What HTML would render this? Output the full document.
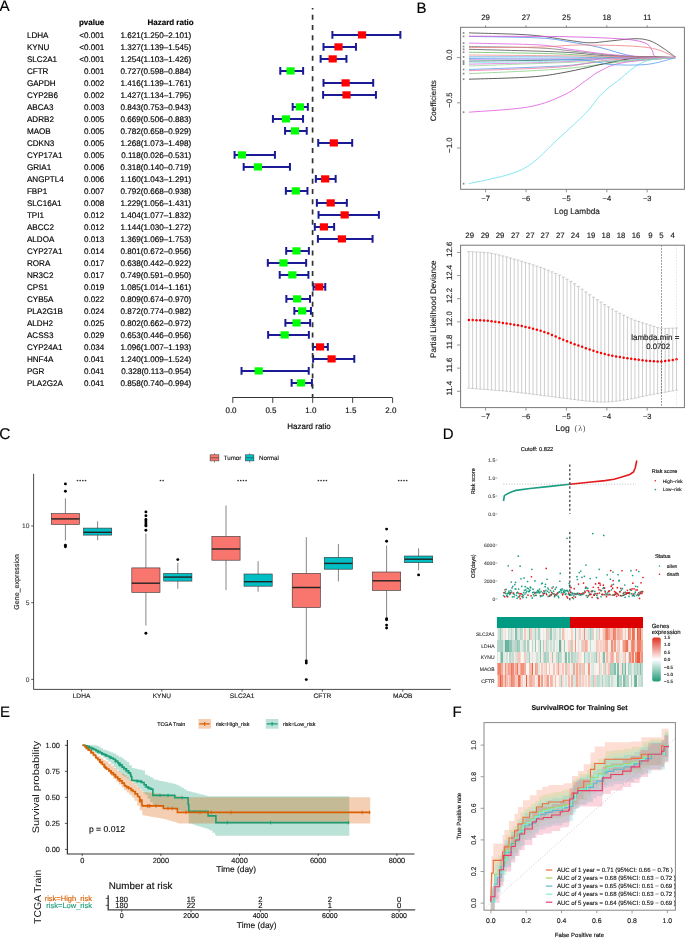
<!DOCTYPE html><html><head><meta charset="utf-8"><style>
html,body{margin:0;padding:0;background:#fff;}
svg{display:block;will-change:transform;text-rendering:geometricPrecision;}
</style></head><body>
<svg width="685" height="938" viewBox="0 0 685 938">
<rect width="685" height="938" fill="#fff"/>
<g font-family="Liberation Sans, sans-serif">
<text x="-0.40" y="10.90" font-size="15.2" text-anchor="start" fill="#000" stroke="#000" stroke-width="0.15" >A</text>
<text x="104.30" y="24.60" font-size="8" text-anchor="end" fill="#000" stroke="#000" stroke-width="0.15" font-weight="bold" >pvalue</text>
<text x="193.70" y="24.60" font-size="8" text-anchor="end" fill="#000" stroke="#000" stroke-width="0.15" font-weight="bold" >Hazard ratio</text>
<text x="26.90" y="37.90" font-size="8.1" text-anchor="start" fill="#000" stroke="#000" stroke-width="0.15" >LDHA</text>
<text x="104.30" y="37.90" font-size="8.1" text-anchor="end" fill="#000" stroke="#000" stroke-width="0.15" >&lt;0.001</text>
<text x="191.20" y="37.90" font-size="8.1" text-anchor="end" fill="#000" stroke="#000" stroke-width="0.15" >1.621(1.250–2.101)</text>
<path d="M332.38 34.90H400.37M332.38 31.10V38.70M400.37 31.10V38.70" stroke="#1a1a96" stroke-width="2" fill="none"/>
<rect x="357.92" y="31.30" width="8.2" height="7.2" fill="#ff0000"/>
<text x="26.90" y="49.90" font-size="8.1" text-anchor="start" fill="#000" stroke="#000" stroke-width="0.15" >KYNU</text>
<text x="104.30" y="49.90" font-size="8.1" text-anchor="end" fill="#000" stroke="#000" stroke-width="0.15" >&lt;0.001</text>
<text x="191.20" y="49.90" font-size="8.1" text-anchor="end" fill="#000" stroke="#000" stroke-width="0.15" >1.327(1.139–1.545)</text>
<path d="M323.51 46.90H355.95M323.51 43.10V50.70M355.95 43.10V50.70" stroke="#1a1a96" stroke-width="2" fill="none"/>
<rect x="334.43" y="43.30" width="8.2" height="7.2" fill="#ff0000"/>
<text x="26.90" y="61.90" font-size="8.1" text-anchor="start" fill="#000" stroke="#000" stroke-width="0.15" >SLC2A1</text>
<text x="104.30" y="61.90" font-size="8.1" text-anchor="end" fill="#000" stroke="#000" stroke-width="0.15" >&lt;0.001</text>
<text x="191.20" y="61.90" font-size="8.1" text-anchor="end" fill="#000" stroke="#000" stroke-width="0.15" >1.254(1.103–1.426)</text>
<path d="M320.63 58.90H346.44M320.63 55.10V62.70M346.44 55.10V62.70" stroke="#1a1a96" stroke-width="2" fill="none"/>
<rect x="328.59" y="55.30" width="8.2" height="7.2" fill="#ff0000"/>
<text x="26.90" y="73.90" font-size="8.1" text-anchor="start" fill="#000" stroke="#000" stroke-width="0.15" >CFTR</text>
<text x="104.30" y="73.90" font-size="8.1" text-anchor="end" fill="#000" stroke="#000" stroke-width="0.15" >0.001</text>
<text x="191.20" y="73.90" font-size="8.1" text-anchor="end" fill="#000" stroke="#000" stroke-width="0.15" >0.727(0.598–0.884)</text>
<path d="M280.28 70.90H303.13M280.28 67.10V74.70M303.13 67.10V74.70" stroke="#1a1a96" stroke-width="2" fill="none"/>
<rect x="286.49" y="67.30" width="8.2" height="7.2" fill="#00ff00"/>
<text x="26.90" y="85.90" font-size="8.1" text-anchor="start" fill="#000" stroke="#000" stroke-width="0.15" >GAPDH</text>
<text x="104.30" y="85.90" font-size="8.1" text-anchor="end" fill="#000" stroke="#000" stroke-width="0.15" >0.002</text>
<text x="191.20" y="85.90" font-size="8.1" text-anchor="end" fill="#000" stroke="#000" stroke-width="0.15" >1.416(1.139–1.761)</text>
<path d="M323.51 82.90H373.20M323.51 79.10V86.70M373.20 79.10V86.70" stroke="#1a1a96" stroke-width="2" fill="none"/>
<rect x="341.54" y="79.30" width="8.2" height="7.2" fill="#ff0000"/>
<text x="26.90" y="97.90" font-size="8.1" text-anchor="start" fill="#000" stroke="#000" stroke-width="0.15" >CYP2B6</text>
<text x="104.30" y="97.90" font-size="8.1" text-anchor="end" fill="#000" stroke="#000" stroke-width="0.15" >0.002</text>
<text x="191.20" y="97.90" font-size="8.1" text-anchor="end" fill="#000" stroke="#000" stroke-width="0.15" >1.427(1.134–1.795)</text>
<path d="M323.11 94.90H375.92M323.11 91.10V98.70M375.92 91.10V98.70" stroke="#1a1a96" stroke-width="2" fill="none"/>
<rect x="342.42" y="91.30" width="8.2" height="7.2" fill="#ff0000"/>
<text x="26.90" y="109.90" font-size="8.1" text-anchor="start" fill="#000" stroke="#000" stroke-width="0.15" >ABCA3</text>
<text x="104.30" y="109.90" font-size="8.1" text-anchor="end" fill="#000" stroke="#000" stroke-width="0.15" >0.003</text>
<text x="191.20" y="109.90" font-size="8.1" text-anchor="end" fill="#000" stroke="#000" stroke-width="0.15" >0.843(0.753–0.943)</text>
<path d="M292.66 106.90H307.85M292.66 103.10V110.70M307.85 103.10V110.70" stroke="#1a1a96" stroke-width="2" fill="none"/>
<rect x="295.76" y="103.30" width="8.2" height="7.2" fill="#00ff00"/>
<text x="26.90" y="121.90" font-size="8.1" text-anchor="start" fill="#000" stroke="#000" stroke-width="0.15" >ADRB2</text>
<text x="104.30" y="121.90" font-size="8.1" text-anchor="end" fill="#000" stroke="#000" stroke-width="0.15" >0.005</text>
<text x="191.20" y="121.90" font-size="8.1" text-anchor="end" fill="#000" stroke="#000" stroke-width="0.15" >0.669(0.506–0.883)</text>
<path d="M272.93 118.90H303.05M272.93 115.10V122.70M303.05 115.10V122.70" stroke="#1a1a96" stroke-width="2" fill="none"/>
<rect x="281.85" y="115.30" width="8.2" height="7.2" fill="#00ff00"/>
<text x="26.90" y="133.90" font-size="8.1" text-anchor="start" fill="#000" stroke="#000" stroke-width="0.15" >MAOB</text>
<text x="104.30" y="133.90" font-size="8.1" text-anchor="end" fill="#000" stroke="#000" stroke-width="0.15" >0.005</text>
<text x="191.20" y="133.90" font-size="8.1" text-anchor="end" fill="#000" stroke="#000" stroke-width="0.15" >0.782(0.658–0.929)</text>
<path d="M285.07 130.90H306.73M285.07 127.10V134.70M306.73 127.10V134.70" stroke="#1a1a96" stroke-width="2" fill="none"/>
<rect x="290.88" y="127.30" width="8.2" height="7.2" fill="#00ff00"/>
<text x="26.90" y="145.90" font-size="8.1" text-anchor="start" fill="#000" stroke="#000" stroke-width="0.15" >CDKN3</text>
<text x="104.30" y="145.90" font-size="8.1" text-anchor="end" fill="#000" stroke="#000" stroke-width="0.15" >0.005</text>
<text x="191.20" y="145.90" font-size="8.1" text-anchor="end" fill="#000" stroke="#000" stroke-width="0.15" >1.268(1.073–1.498)</text>
<path d="M318.23 142.90H352.19M318.23 139.10V146.70M352.19 139.10V146.70" stroke="#1a1a96" stroke-width="2" fill="none"/>
<rect x="329.71" y="139.30" width="8.2" height="7.2" fill="#ff0000"/>
<text x="26.90" y="157.90" font-size="8.1" text-anchor="start" fill="#000" stroke="#000" stroke-width="0.15" >CYP17A1</text>
<text x="104.30" y="157.90" font-size="8.1" text-anchor="end" fill="#000" stroke="#000" stroke-width="0.15" >0.005</text>
<text x="191.20" y="157.90" font-size="8.1" text-anchor="end" fill="#000" stroke="#000" stroke-width="0.15" >0.118(0.026–0.531)</text>
<path d="M234.58 154.90H274.93M234.58 151.10V158.70M274.93 151.10V158.70" stroke="#1a1a96" stroke-width="2" fill="none"/>
<rect x="237.83" y="151.30" width="8.2" height="7.2" fill="#00ff00"/>
<text x="26.90" y="169.90" font-size="8.1" text-anchor="start" fill="#000" stroke="#000" stroke-width="0.15" >GRIA1</text>
<text x="104.30" y="169.90" font-size="8.1" text-anchor="end" fill="#000" stroke="#000" stroke-width="0.15" >0.006</text>
<text x="191.20" y="169.90" font-size="8.1" text-anchor="end" fill="#000" stroke="#000" stroke-width="0.15" >0.318(0.140–0.719)</text>
<path d="M243.69 166.90H289.95M243.69 163.10V170.70M289.95 163.10V170.70" stroke="#1a1a96" stroke-width="2" fill="none"/>
<rect x="253.81" y="163.30" width="8.2" height="7.2" fill="#00ff00"/>
<text x="26.90" y="181.90" font-size="8.1" text-anchor="start" fill="#000" stroke="#000" stroke-width="0.15" >ANGPTL4</text>
<text x="104.30" y="181.90" font-size="8.1" text-anchor="end" fill="#000" stroke="#000" stroke-width="0.15" >0.006</text>
<text x="191.20" y="181.90" font-size="8.1" text-anchor="end" fill="#000" stroke="#000" stroke-width="0.15" >1.160(1.043–1.291)</text>
<path d="M315.84 178.90H335.65M315.84 175.10V182.70M335.65 175.10V182.70" stroke="#1a1a96" stroke-width="2" fill="none"/>
<rect x="321.08" y="175.30" width="8.2" height="7.2" fill="#ff0000"/>
<text x="26.90" y="193.90" font-size="8.1" text-anchor="start" fill="#000" stroke="#000" stroke-width="0.15" >FBP1</text>
<text x="104.30" y="193.90" font-size="8.1" text-anchor="end" fill="#000" stroke="#000" stroke-width="0.15" >0.007</text>
<text x="191.20" y="193.90" font-size="8.1" text-anchor="end" fill="#000" stroke="#000" stroke-width="0.15" >0.792(0.668–0.938)</text>
<path d="M285.87 190.90H307.45M285.87 187.10V194.70M307.45 187.10V194.70" stroke="#1a1a96" stroke-width="2" fill="none"/>
<rect x="291.68" y="187.30" width="8.2" height="7.2" fill="#00ff00"/>
<text x="26.90" y="205.90" font-size="8.1" text-anchor="start" fill="#000" stroke="#000" stroke-width="0.15" >SLC16A1</text>
<text x="104.30" y="205.90" font-size="8.1" text-anchor="end" fill="#000" stroke="#000" stroke-width="0.15" >0.008</text>
<text x="191.20" y="205.90" font-size="8.1" text-anchor="end" fill="#000" stroke="#000" stroke-width="0.15" >1.229(1.056–1.431)</text>
<path d="M316.87 202.90H346.84M316.87 199.10V206.70M346.84 199.10V206.70" stroke="#1a1a96" stroke-width="2" fill="none"/>
<rect x="326.60" y="199.30" width="8.2" height="7.2" fill="#ff0000"/>
<text x="26.90" y="217.90" font-size="8.1" text-anchor="start" fill="#000" stroke="#000" stroke-width="0.15" >TPI1</text>
<text x="104.30" y="217.90" font-size="8.1" text-anchor="end" fill="#000" stroke="#000" stroke-width="0.15" >0.012</text>
<text x="191.20" y="217.90" font-size="8.1" text-anchor="end" fill="#000" stroke="#000" stroke-width="0.15" >1.404(1.077–1.832)</text>
<path d="M318.55 214.90H378.88M318.55 211.10V218.70M378.88 211.10V218.70" stroke="#1a1a96" stroke-width="2" fill="none"/>
<rect x="340.58" y="211.30" width="8.2" height="7.2" fill="#ff0000"/>
<text x="26.90" y="229.90" font-size="8.1" text-anchor="start" fill="#000" stroke="#000" stroke-width="0.15" >ABCC2</text>
<text x="104.30" y="229.90" font-size="8.1" text-anchor="end" fill="#000" stroke="#000" stroke-width="0.15" >0.012</text>
<text x="191.20" y="229.90" font-size="8.1" text-anchor="end" fill="#000" stroke="#000" stroke-width="0.15" >1.144(1.030–1.272)</text>
<path d="M314.80 226.90H334.13M314.80 223.10V230.70M334.13 223.10V230.70" stroke="#1a1a96" stroke-width="2" fill="none"/>
<rect x="319.81" y="223.30" width="8.2" height="7.2" fill="#ff0000"/>
<text x="26.90" y="241.90" font-size="8.1" text-anchor="start" fill="#000" stroke="#000" stroke-width="0.15" >ALDOA</text>
<text x="104.30" y="241.90" font-size="8.1" text-anchor="end" fill="#000" stroke="#000" stroke-width="0.15" >0.013</text>
<text x="191.20" y="241.90" font-size="8.1" text-anchor="end" fill="#000" stroke="#000" stroke-width="0.15" >1.369(1.069–1.753)</text>
<path d="M317.91 238.90H372.56M317.91 235.10V242.70M372.56 235.10V242.70" stroke="#1a1a96" stroke-width="2" fill="none"/>
<rect x="337.78" y="235.30" width="8.2" height="7.2" fill="#ff0000"/>
<text x="26.90" y="253.90" font-size="8.1" text-anchor="start" fill="#000" stroke="#000" stroke-width="0.15" >CYP27A1</text>
<text x="104.30" y="253.90" font-size="8.1" text-anchor="end" fill="#000" stroke="#000" stroke-width="0.15" >0.014</text>
<text x="191.20" y="253.90" font-size="8.1" text-anchor="end" fill="#000" stroke="#000" stroke-width="0.15" >0.801(0.672–0.956)</text>
<path d="M286.19 250.90H308.88M286.19 247.10V254.70M308.88 247.10V254.70" stroke="#1a1a96" stroke-width="2" fill="none"/>
<rect x="292.40" y="247.30" width="8.2" height="7.2" fill="#00ff00"/>
<text x="26.90" y="265.90" font-size="8.1" text-anchor="start" fill="#000" stroke="#000" stroke-width="0.15" >RORA</text>
<text x="104.30" y="265.90" font-size="8.1" text-anchor="end" fill="#000" stroke="#000" stroke-width="0.15" >0.017</text>
<text x="191.20" y="265.90" font-size="8.1" text-anchor="end" fill="#000" stroke="#000" stroke-width="0.15" >0.638(0.442–0.922)</text>
<path d="M267.82 262.90H306.17M267.82 259.10V266.70M306.17 259.10V266.70" stroke="#1a1a96" stroke-width="2" fill="none"/>
<rect x="279.38" y="259.30" width="8.2" height="7.2" fill="#00ff00"/>
<text x="26.90" y="277.90" font-size="8.1" text-anchor="start" fill="#000" stroke="#000" stroke-width="0.15" >NR3C2</text>
<text x="104.30" y="277.90" font-size="8.1" text-anchor="end" fill="#000" stroke="#000" stroke-width="0.15" >0.017</text>
<text x="191.20" y="277.90" font-size="8.1" text-anchor="end" fill="#000" stroke="#000" stroke-width="0.15" >0.749(0.591–0.950)</text>
<path d="M279.72 274.90H308.40M279.72 271.10V278.70M308.40 271.10V278.70" stroke="#1a1a96" stroke-width="2" fill="none"/>
<rect x="288.25" y="271.30" width="8.2" height="7.2" fill="#00ff00"/>
<text x="26.90" y="289.90" font-size="8.1" text-anchor="start" fill="#000" stroke="#000" stroke-width="0.15" >CPS1</text>
<text x="104.30" y="289.90" font-size="8.1" text-anchor="end" fill="#000" stroke="#000" stroke-width="0.15" >0.019</text>
<text x="191.20" y="289.90" font-size="8.1" text-anchor="end" fill="#000" stroke="#000" stroke-width="0.15" >1.085(1.014–1.161)</text>
<path d="M313.52 286.90H325.26M313.52 283.10V290.70M325.26 283.10V290.70" stroke="#1a1a96" stroke-width="2" fill="none"/>
<rect x="315.09" y="283.30" width="8.2" height="7.2" fill="#ff0000"/>
<text x="26.90" y="301.90" font-size="8.1" text-anchor="start" fill="#000" stroke="#000" stroke-width="0.15" >CYB5A</text>
<text x="104.30" y="301.90" font-size="8.1" text-anchor="end" fill="#000" stroke="#000" stroke-width="0.15" >0.022</text>
<text x="191.20" y="301.90" font-size="8.1" text-anchor="end" fill="#000" stroke="#000" stroke-width="0.15" >0.809(0.674–0.970)</text>
<path d="M286.35 298.90H310.00M286.35 295.10V302.70M310.00 295.10V302.70" stroke="#1a1a96" stroke-width="2" fill="none"/>
<rect x="293.04" y="295.30" width="8.2" height="7.2" fill="#00ff00"/>
<text x="26.90" y="313.90" font-size="8.1" text-anchor="start" fill="#000" stroke="#000" stroke-width="0.15" >PLA2G1B</text>
<text x="104.30" y="313.90" font-size="8.1" text-anchor="end" fill="#000" stroke="#000" stroke-width="0.15" >0.024</text>
<text x="191.20" y="313.90" font-size="8.1" text-anchor="end" fill="#000" stroke="#000" stroke-width="0.15" >0.872(0.774–0.982)</text>
<path d="M294.34 310.90H310.96M294.34 307.10V314.70M310.96 307.10V314.70" stroke="#1a1a96" stroke-width="2" fill="none"/>
<rect x="298.07" y="307.30" width="8.2" height="7.2" fill="#00ff00"/>
<text x="26.90" y="325.90" font-size="8.1" text-anchor="start" fill="#000" stroke="#000" stroke-width="0.15" >ALDH2</text>
<text x="104.30" y="325.90" font-size="8.1" text-anchor="end" fill="#000" stroke="#000" stroke-width="0.15" >0.025</text>
<text x="191.20" y="325.90" font-size="8.1" text-anchor="end" fill="#000" stroke="#000" stroke-width="0.15" >0.802(0.662–0.972)</text>
<path d="M285.39 322.90H310.16M285.39 319.10V326.70M310.16 319.10V326.70" stroke="#1a1a96" stroke-width="2" fill="none"/>
<rect x="292.48" y="319.30" width="8.2" height="7.2" fill="#00ff00"/>
<text x="26.90" y="337.90" font-size="8.1" text-anchor="start" fill="#000" stroke="#000" stroke-width="0.15" >ACSS3</text>
<text x="104.30" y="337.90" font-size="8.1" text-anchor="end" fill="#000" stroke="#000" stroke-width="0.15" >0.029</text>
<text x="191.20" y="337.90" font-size="8.1" text-anchor="end" fill="#000" stroke="#000" stroke-width="0.15" >0.653(0.446–0.956)</text>
<path d="M268.14 334.90H308.88M268.14 331.10V338.70M308.88 331.10V338.70" stroke="#1a1a96" stroke-width="2" fill="none"/>
<rect x="280.57" y="331.30" width="8.2" height="7.2" fill="#00ff00"/>
<text x="26.90" y="349.90" font-size="8.1" text-anchor="start" fill="#000" stroke="#000" stroke-width="0.15" >CYP24A1</text>
<text x="104.30" y="349.90" font-size="8.1" text-anchor="end" fill="#000" stroke="#000" stroke-width="0.15" >0.034</text>
<text x="191.20" y="349.90" font-size="8.1" text-anchor="end" fill="#000" stroke="#000" stroke-width="0.15" >1.096(1.007–1.193)</text>
<path d="M312.96 346.90H327.82M312.96 343.10V350.70M327.82 343.10V350.70" stroke="#1a1a96" stroke-width="2" fill="none"/>
<rect x="315.97" y="343.30" width="8.2" height="7.2" fill="#ff0000"/>
<text x="26.90" y="361.90" font-size="8.1" text-anchor="start" fill="#000" stroke="#000" stroke-width="0.15" >HNF4A</text>
<text x="104.30" y="361.90" font-size="8.1" text-anchor="end" fill="#000" stroke="#000" stroke-width="0.15" >0.041</text>
<text x="191.20" y="361.90" font-size="8.1" text-anchor="end" fill="#000" stroke="#000" stroke-width="0.15" >1.240(1.009–1.524)</text>
<path d="M313.12 358.90H354.27M313.12 355.10V362.70M354.27 355.10V362.70" stroke="#1a1a96" stroke-width="2" fill="none"/>
<rect x="327.48" y="355.30" width="8.2" height="7.2" fill="#ff0000"/>
<text x="26.90" y="373.90" font-size="8.1" text-anchor="start" fill="#000" stroke="#000" stroke-width="0.15" >PGR</text>
<text x="104.30" y="373.90" font-size="8.1" text-anchor="end" fill="#000" stroke="#000" stroke-width="0.15" >0.041</text>
<text x="191.20" y="373.90" font-size="8.1" text-anchor="end" fill="#000" stroke="#000" stroke-width="0.15" >0.328(0.113–0.954)</text>
<path d="M241.53 370.90H308.72M241.53 367.10V374.70M308.72 367.10V374.70" stroke="#1a1a96" stroke-width="2" fill="none"/>
<rect x="254.61" y="367.30" width="8.2" height="7.2" fill="#00ff00"/>
<text x="26.90" y="385.90" font-size="8.1" text-anchor="start" fill="#000" stroke="#000" stroke-width="0.15" >PLA2G2A</text>
<text x="104.30" y="385.90" font-size="8.1" text-anchor="end" fill="#000" stroke="#000" stroke-width="0.15" >0.041</text>
<text x="191.20" y="385.90" font-size="8.1" text-anchor="end" fill="#000" stroke="#000" stroke-width="0.15" >0.858(0.740–0.994)</text>
<path d="M291.63 382.90H311.92M291.63 379.10V386.70M311.92 379.10V386.70" stroke="#1a1a96" stroke-width="2" fill="none"/>
<rect x="296.95" y="379.30" width="8.2" height="7.2" fill="#00ff00"/>
<line x1="312.6" y1="7.9" x2="312.6" y2="397.5" stroke="#333" stroke-width="1.7" stroke-dasharray="4.9 5.35" stroke-dashoffset="3.3"/>
<path d="M232.50 397.5H392.30" stroke="#333" stroke-width="1" fill="none"/>
<line x1="232.80" y1="397.5" x2="232.80" y2="402.9" stroke="#444" stroke-width="1"/>
<text x="231.00" y="412.50" font-size="8" text-anchor="middle" fill="#111" stroke="#111" stroke-width="0.15" >0.0</text>
<line x1="272.75" y1="397.5" x2="272.75" y2="402.9" stroke="#444" stroke-width="1"/>
<text x="270.95" y="412.50" font-size="8" text-anchor="middle" fill="#111" stroke="#111" stroke-width="0.15" >0.5</text>
<line x1="312.70" y1="397.5" x2="312.70" y2="402.9" stroke="#444" stroke-width="1"/>
<text x="310.90" y="412.50" font-size="8" text-anchor="middle" fill="#111" stroke="#111" stroke-width="0.15" >1.0</text>
<line x1="352.65" y1="397.5" x2="352.65" y2="402.9" stroke="#444" stroke-width="1"/>
<text x="350.85" y="412.50" font-size="8" text-anchor="middle" fill="#111" stroke="#111" stroke-width="0.15" >1.5</text>
<line x1="392.60" y1="397.5" x2="392.60" y2="402.9" stroke="#444" stroke-width="1"/>
<text x="390.80" y="412.50" font-size="8" text-anchor="middle" fill="#111" stroke="#111" stroke-width="0.15" >2.0</text>
<text x="309.00" y="429.20" font-size="8" text-anchor="middle" fill="#000" stroke="#000" stroke-width="0.15" >Hazard ratio</text>
</g>
<g font-family="Liberation Sans, sans-serif">
<text x="416.60" y="12.80" font-size="15.0" text-anchor="start" fill="#000" stroke="#000" stroke-width="0.15" >B</text>
<path d="M469.00 32.90C479.17 33.25 513.17 33.73 530.00 35.00C546.83 36.27 560.00 39.20 570.00 40.50C580.00 41.80 583.33 42.72 590.00 42.80C596.67 42.88 602.50 41.68 610.00 41.00C617.50 40.32 628.33 38.73 635.00 38.70C641.67 38.67 645.33 39.25 650.00 40.80C654.67 42.35 658.67 45.22 663.00 48.00C667.33 50.78 673.83 55.92 676.00 57.50" stroke="#444444" stroke-width="0.8" fill="none"/>
<path d="M469.00 36.40C480.83 36.67 523.17 37.07 540.00 38.00C556.83 38.93 560.00 40.42 570.00 42.00C580.00 43.58 589.17 45.08 600.00 47.50C610.83 49.92 622.33 54.83 635.00 56.50C647.67 58.17 669.17 57.33 676.00 57.50" stroke="#4f8fe8" stroke-width="0.8" fill="none"/>
<path d="M469.00 36.20C479.17 36.23 513.17 36.30 530.00 36.40C546.83 36.50 554.50 36.37 570.00 36.80C585.50 37.23 610.50 37.97 623.00 39.00C635.50 40.03 640.17 41.17 645.00 43.00C649.83 44.83 650.17 47.67 652.00 50.00C653.83 52.33 652.00 55.75 656.00 57.00C660.00 58.25 672.67 57.42 676.00 57.50" stroke="#d84fd8" stroke-width="0.8" fill="none"/>
<path d="M469.00 43.10C480.83 43.42 523.17 43.97 540.00 45.00C556.83 46.03 558.33 47.72 570.00 49.30C581.67 50.88 596.67 53.22 610.00 54.50C623.33 55.78 639.00 56.50 650.00 57.00C661.00 57.50 671.67 57.42 676.00 57.50" stroke="#e05fe0" stroke-width="0.8" fill="none"/>
<path d="M469.00 46.50C480.83 46.75 521.50 47.08 540.00 48.00C558.50 48.92 566.67 50.67 580.00 52.00C593.33 53.33 604.00 55.08 620.00 56.00C636.00 56.92 666.67 57.25 676.00 57.50" stroke="#777777" stroke-width="0.8" fill="none"/>
<path d="M469.00 47.60C480.83 47.50 521.17 47.43 540.00 47.00C558.83 46.57 564.17 44.93 582.00 45.00C599.83 45.07 631.33 45.32 647.00 47.40C662.67 49.48 671.17 55.82 676.00 57.50" stroke="#f08080" stroke-width="0.8" fill="none"/>
<path d="M469.00 49.30C484.17 49.75 536.50 50.88 560.00 52.00C583.50 53.12 590.67 55.08 610.00 56.00C629.33 56.92 665.00 57.25 676.00 57.50" stroke="#555555" stroke-width="0.8" fill="none"/>
<path d="M469.00 52.20C484.17 52.50 534.83 53.03 560.00 54.00C585.17 54.97 600.67 57.42 620.00 58.00C639.33 58.58 666.67 57.58 676.00 57.50" stroke="#66c266" stroke-width="0.8" fill="none"/>
<path d="M469.00 56.90C484.17 56.92 534.83 56.82 560.00 57.00C585.17 57.18 600.67 57.92 620.00 58.00C639.33 58.08 666.67 57.58 676.00 57.50" stroke="#4aa0e0" stroke-width="0.8" fill="none"/>
<path d="M469.00 61.10C484.17 60.92 534.83 60.52 560.00 60.00C585.17 59.48 600.67 58.42 620.00 58.00C639.33 57.58 666.67 57.58 676.00 57.50" stroke="#2f6f6f" stroke-width="0.8" fill="none"/>
<path d="M469.00 62.80C484.17 62.50 534.83 61.72 560.00 61.00C585.17 60.28 600.67 59.08 620.00 58.50C639.33 57.92 666.67 57.67 676.00 57.50" stroke="#8fe8e8" stroke-width="0.8" fill="none"/>
<path d="M469.00 64.20C484.17 63.83 534.83 63.03 560.00 62.00C585.17 60.97 600.67 58.75 620.00 58.00C639.33 57.25 666.67 57.58 676.00 57.50" stroke="#e070e0" stroke-width="0.8" fill="none"/>
<path d="M469.00 69.50C484.17 68.92 538.17 67.25 560.00 66.00C581.83 64.75 580.67 63.42 600.00 62.00C619.33 60.58 663.33 58.25 676.00 57.50" stroke="#5a9ae8" stroke-width="0.8" fill="none"/>
<path d="M469.00 70.70C484.17 70.08 536.50 68.78 560.00 67.00C583.50 65.22 590.67 61.58 610.00 60.00C629.33 58.42 665.00 57.92 676.00 57.50" stroke="#f07aa0" stroke-width="0.8" fill="none"/>
<path d="M469.00 73.70C484.17 72.92 534.83 70.95 560.00 69.00C585.17 67.05 600.67 63.92 620.00 62.00C639.33 60.08 666.67 58.25 676.00 57.50" stroke="#88d088" stroke-width="0.8" fill="none"/>
<path d="M469.00 79.20C479.17 78.83 514.00 78.15 530.00 77.00C546.00 75.85 551.83 74.68 565.00 72.30C578.17 69.92 596.50 65.17 609.00 62.70C621.50 60.23 628.83 58.37 640.00 57.50C651.17 56.63 670.00 57.50 676.00 57.50" stroke="#333333" stroke-width="0.8" fill="none"/>
<path d="M469.00 112.20C479.07 111.30 513.37 109.78 529.40 106.80C545.43 103.82 555.67 98.77 565.20 94.30C574.73 89.83 580.80 83.88 586.60 80.00C592.40 76.12 593.97 73.88 600.00 71.00C606.03 68.12 610.13 64.95 622.80 62.70C635.47 60.45 667.13 58.37 676.00 57.50" stroke="#e055e0" stroke-width="0.8" fill="none"/>
<path d="M469.00 183.70C477.88 181.32 507.47 176.85 522.30 169.40C537.13 161.95 547.28 148.53 558.00 139.00C568.72 129.47 579.43 119.62 586.60 112.20C593.77 104.78 595.63 99.87 601.00 94.50C606.37 89.13 611.67 85.45 618.80 80.00C625.93 74.55 634.27 65.55 643.80 61.80C653.33 58.05 670.63 58.22 676.00 57.50" stroke="#66e0ee" stroke-width="0.8" fill="none"/>
<path d="M469.00 58.50C487.50 58.75 556.67 59.02 580.00 60.00C603.33 60.98 597.83 63.67 609.00 64.40C620.17 65.13 635.83 65.55 647.00 64.40C658.17 63.25 671.17 58.65 676.00 57.50" stroke="#5aa0f0" stroke-width="0.8" fill="none"/>
<path d="M469.00 66.00C487.50 65.33 551.50 63.00 580.00 62.00C608.50 61.00 624.00 60.75 640.00 60.00C656.00 59.25 670.00 57.92 676.00 57.50" stroke="#9ad89a" stroke-width="0.8" fill="none"/>
<path d="M469.00 55.00C487.50 55.17 551.50 55.67 580.00 56.00C608.50 56.33 624.00 56.75 640.00 57.00C656.00 57.25 670.00 57.42 676.00 57.50" stroke="#ee9090" stroke-width="0.8" fill="none"/>
<path d="M469.00 59.50C487.50 59.33 551.50 58.75 580.00 58.50C608.50 58.25 624.00 58.17 640.00 58.00C656.00 57.83 670.00 57.58 676.00 57.50" stroke="#c0a0e0" stroke-width="0.8" fill="none"/>
<rect x="462.8" y="32.00" width="1.6" height="1.8" fill="#888"/>
<rect x="462.8" y="35.50" width="1.6" height="1.8" fill="#888"/>
<rect x="462.8" y="42.20" width="1.6" height="1.8" fill="#888"/>
<rect x="462.8" y="45.60" width="1.6" height="1.8" fill="#888"/>
<rect x="462.8" y="48.40" width="1.6" height="1.8" fill="#888"/>
<rect x="462.8" y="51.30" width="1.6" height="1.8" fill="#888"/>
<rect x="462.8" y="56.00" width="1.6" height="1.8" fill="#888"/>
<rect x="462.8" y="60.20" width="1.6" height="1.8" fill="#888"/>
<rect x="462.8" y="61.90" width="1.6" height="1.8" fill="#888"/>
<rect x="462.8" y="63.30" width="1.6" height="1.8" fill="#888"/>
<rect x="462.8" y="68.60" width="1.6" height="1.8" fill="#888"/>
<rect x="462.8" y="72.80" width="1.6" height="1.8" fill="#888"/>
<rect x="462.8" y="78.30" width="1.6" height="1.8" fill="#888"/>
<rect x="462.8" y="111.30" width="1.6" height="1.8" fill="#888"/>
<rect x="462.8" y="182.80" width="1.6" height="1.8" fill="#888"/>
<rect x="460.6" y="27.3" width="223.80" height="162.00" fill="none" stroke="#777" stroke-width="1"/>
<line x1="485.60" y1="189.3" x2="485.60" y2="192.3" stroke="#777" stroke-width="0.8"/>
<text x="485.60" y="201.40" font-size="7.5" text-anchor="middle" fill="#222" stroke="#222" stroke-width="0.15" >−7</text>
<line x1="485.60" y1="27.3" x2="485.60" y2="25.3" stroke="#777" stroke-width="0.8"/>
<text x="485.60" y="19.70" font-size="7.8" text-anchor="middle" fill="#222" stroke="#222" stroke-width="0.15" >29</text>
<line x1="526.00" y1="189.3" x2="526.00" y2="192.3" stroke="#777" stroke-width="0.8"/>
<text x="526.00" y="201.40" font-size="7.5" text-anchor="middle" fill="#222" stroke="#222" stroke-width="0.15" >−6</text>
<line x1="526.00" y1="27.3" x2="526.00" y2="25.3" stroke="#777" stroke-width="0.8"/>
<text x="526.00" y="19.70" font-size="7.8" text-anchor="middle" fill="#222" stroke="#222" stroke-width="0.15" >27</text>
<line x1="566.40" y1="189.3" x2="566.40" y2="192.3" stroke="#777" stroke-width="0.8"/>
<text x="566.40" y="201.40" font-size="7.5" text-anchor="middle" fill="#222" stroke="#222" stroke-width="0.15" >−5</text>
<line x1="566.40" y1="27.3" x2="566.40" y2="25.3" stroke="#777" stroke-width="0.8"/>
<text x="566.40" y="19.70" font-size="7.8" text-anchor="middle" fill="#222" stroke="#222" stroke-width="0.15" >25</text>
<line x1="606.80" y1="189.3" x2="606.80" y2="192.3" stroke="#777" stroke-width="0.8"/>
<text x="606.80" y="201.40" font-size="7.5" text-anchor="middle" fill="#222" stroke="#222" stroke-width="0.15" >−4</text>
<line x1="606.80" y1="27.3" x2="606.80" y2="25.3" stroke="#777" stroke-width="0.8"/>
<text x="606.80" y="19.70" font-size="7.8" text-anchor="middle" fill="#222" stroke="#222" stroke-width="0.15" >18</text>
<line x1="647.20" y1="189.3" x2="647.20" y2="192.3" stroke="#777" stroke-width="0.8"/>
<text x="647.20" y="201.40" font-size="7.5" text-anchor="middle" fill="#222" stroke="#222" stroke-width="0.15" >−3</text>
<line x1="647.20" y1="27.3" x2="647.20" y2="25.3" stroke="#777" stroke-width="0.8"/>
<text x="647.20" y="19.70" font-size="7.8" text-anchor="middle" fill="#222" stroke="#222" stroke-width="0.15" >11</text>
<line x1="457" y1="57.60" x2="460.6" y2="57.60" stroke="#777" stroke-width="0.8"/>
<text transform="translate(451.60 54.80) rotate(-90)" font-size="7.8" text-anchor="middle" fill="#222" stroke="#222" stroke-width="0.15">0.0</text>
<line x1="457" y1="102.80" x2="460.6" y2="102.80" stroke="#777" stroke-width="0.8"/>
<text transform="translate(451.60 100.00) rotate(-90)" font-size="7.8" text-anchor="middle" fill="#222" stroke="#222" stroke-width="0.15">−0.5</text>
<line x1="457" y1="148.00" x2="460.6" y2="148.00" stroke="#777" stroke-width="0.8"/>
<text transform="translate(451.60 145.20) rotate(-90)" font-size="7.8" text-anchor="middle" fill="#222" stroke="#222" stroke-width="0.15">−1.0</text>
<text x="577.10" y="214.00" font-size="8.2" text-anchor="middle" fill="#222" stroke="#222" stroke-width="0.15" >Log Lambda</text>
<text transform="translate(436.20 100.80) rotate(-90)" font-size="7.9" text-anchor="middle" fill="#222" stroke="#222" stroke-width="0.15">Coefficients</text>
<path d="M468.90 251.60V388.20M467.30 251.60H470.50M467.30 388.20H470.50M472.67 251.79V388.50M471.07 251.79H474.27M471.07 388.50H474.27M476.45 251.95V388.78M474.85 251.95H478.05M474.85 388.78H478.05M480.22 252.15V389.06M478.62 252.15H481.82M478.62 389.06H481.82M484.00 252.41V389.35M482.40 252.41H485.60M482.40 389.35H485.60M487.77 252.77V389.64M486.17 252.77H489.37M486.17 389.64H489.37M491.55 253.30V389.94M489.95 253.30H493.15M489.95 389.94H493.15M495.32 254.04V390.25M493.72 254.04H496.92M493.72 390.25H496.92M499.10 254.93V390.56M497.50 254.93H500.70M497.50 390.56H500.70M502.87 255.92V390.89M501.27 255.92H504.47M501.27 390.89H504.47M506.65 256.96V391.23M505.05 256.96H508.25M505.05 391.23H508.25M510.42 258.01V391.60M508.82 258.01H512.02M508.82 391.60H512.02M514.19 259.05V392.00M512.59 259.05H515.79M512.59 392.00H515.79M517.97 260.14V392.42M516.37 260.14H519.57M516.37 392.42H519.57M521.74 261.26V392.86M520.14 261.26H523.34M520.14 392.86H523.34M525.52 262.43V393.32M523.92 262.43H527.12M523.92 393.32H527.12M529.29 263.64V393.80M527.69 263.64H530.89M527.69 393.80H530.89M533.07 264.88V394.28M531.47 264.88H534.67M531.47 394.28H534.67M536.84 266.12V394.77M535.24 266.12H538.44M535.24 394.77H538.44M540.62 267.41V395.25M539.02 267.41H542.22M539.02 395.25H542.22M544.39 268.77V395.74M542.79 268.77H545.99M542.79 395.74H545.99M548.17 270.23V396.21M546.57 270.23H549.77M546.57 396.21H549.77M551.94 271.82V396.68M550.34 271.82H553.54M550.34 396.68H553.54M555.71 273.49V397.15M554.11 273.49H557.31M554.11 397.15H557.31M559.49 275.25V397.64M557.89 275.25H561.09M557.89 397.64H561.09M563.26 277.13V398.13M561.66 277.13H564.86M561.66 398.13H564.86M567.04 279.14V398.62M565.44 279.14H568.64M565.44 398.62H568.64M570.81 281.33V399.11M569.21 281.33H572.41M569.21 399.11H572.41M574.59 283.77V399.59M572.99 283.77H576.19M572.99 399.59H576.19M578.36 286.43V400.06M576.76 286.43H579.96M576.76 400.06H579.96M582.14 289.21V400.52M580.54 289.21H583.74M580.54 400.52H583.74M585.91 292.00V400.94M584.31 292.00H587.51M584.31 400.94H587.51M589.69 294.68V401.32M588.09 294.68H591.29M588.09 401.32H591.29M593.46 297.21V401.63M591.86 297.21H595.06M591.86 401.63H595.06M597.23 299.71V401.88M595.63 299.71H598.83M595.63 401.88H598.83M601.01 302.16V402.02M599.41 302.16H602.61M599.41 402.02H602.61M604.78 304.54V402.00M603.18 304.54H606.38M603.18 402.00H606.38M608.56 306.84V401.83M606.96 306.84H610.16M606.96 401.83H610.16M612.33 309.04V401.58M610.73 309.04H613.93M610.73 401.58H613.93M616.11 311.19V401.20M614.51 311.19H617.71M614.51 401.20H617.71M619.88 313.26V400.70M618.28 313.26H621.48M618.28 400.70H621.48M623.66 315.23V400.12M622.06 315.23H625.26M622.06 400.12H625.26M627.43 317.08V399.48M625.83 317.08H629.03M625.83 399.48H629.03M631.21 318.77V398.83M629.61 318.77H632.81M629.61 398.83H632.81M634.98 320.26V398.12M633.38 320.26H636.58M633.38 398.12H636.58M638.75 321.59V397.34M637.15 321.59H640.35M637.15 397.34H640.35M642.53 322.81V396.52M640.93 322.81H644.13M640.93 396.52H644.13M646.30 323.98V395.72M644.70 323.98H647.90M644.70 395.72H647.90M650.08 325.14V394.96M648.48 325.14H651.68M648.48 394.96H651.68M653.85 326.41V394.25M652.25 326.41H655.45M652.25 394.25H655.45M657.63 327.66V393.56M656.03 327.66H659.23M656.03 393.56H659.23M661.40 328.24V392.88M659.80 328.24H663.00M659.80 392.88H663.00M665.18 328.36V392.20M663.58 328.36H666.78M663.58 392.20H666.78M668.95 328.29V391.54M667.35 328.29H670.55M667.35 391.54H670.55M672.73 328.14V390.87M671.13 328.14H674.33M671.13 390.87H674.33M676.50 328.00V390.20M674.90 328.00H678.10M674.90 390.20H678.10" stroke="#b4b4b4" stroke-width="0.65" fill="none"/>
<g fill="#ff0000"><circle cx="468.90" cy="319.90" r="1.25"/><circle cx="472.67" cy="320.06" r="1.25"/><circle cx="476.45" cy="320.21" r="1.25"/><circle cx="480.22" cy="320.37" r="1.25"/><circle cx="484.00" cy="320.56" r="1.25"/><circle cx="487.77" cy="320.80" r="1.25"/><circle cx="491.55" cy="321.16" r="1.25"/><circle cx="495.32" cy="321.71" r="1.25"/><circle cx="499.10" cy="322.31" r="1.25"/><circle cx="502.87" cy="322.88" r="1.25"/><circle cx="506.65" cy="323.45" r="1.25"/><circle cx="510.42" cy="324.03" r="1.25"/><circle cx="514.19" cy="324.66" r="1.25"/><circle cx="517.97" cy="325.33" r="1.25"/><circle cx="521.74" cy="326.09" r="1.25"/><circle cx="525.52" cy="326.91" r="1.25"/><circle cx="529.29" cy="327.77" r="1.25"/><circle cx="533.07" cy="328.69" r="1.25"/><circle cx="536.84" cy="329.69" r="1.25"/><circle cx="540.62" cy="330.79" r="1.25"/><circle cx="544.39" cy="331.99" r="1.25"/><circle cx="548.17" cy="333.35" r="1.25"/><circle cx="551.94" cy="334.88" r="1.25"/><circle cx="555.71" cy="336.52" r="1.25"/><circle cx="559.49" cy="338.19" r="1.25"/><circle cx="563.26" cy="339.82" r="1.25"/><circle cx="567.04" cy="341.35" r="1.25"/><circle cx="570.81" cy="342.78" r="1.25"/><circle cx="574.59" cy="344.15" r="1.25"/><circle cx="578.36" cy="345.52" r="1.25"/><circle cx="582.14" cy="346.87" r="1.25"/><circle cx="585.91" cy="348.20" r="1.25"/><circle cx="589.69" cy="349.49" r="1.25"/><circle cx="593.46" cy="350.72" r="1.25"/><circle cx="597.23" cy="351.90" r="1.25"/><circle cx="601.01" cy="353.01" r="1.25"/><circle cx="604.78" cy="354.02" r="1.25"/><circle cx="608.56" cy="354.93" r="1.25"/><circle cx="612.33" cy="355.73" r="1.25"/><circle cx="616.11" cy="356.44" r="1.25"/><circle cx="619.88" cy="357.09" r="1.25"/><circle cx="623.66" cy="357.69" r="1.25"/><circle cx="627.43" cy="358.24" r="1.25"/><circle cx="631.21" cy="358.76" r="1.25"/><circle cx="634.98" cy="359.25" r="1.25"/><circle cx="638.75" cy="359.73" r="1.25"/><circle cx="642.53" cy="360.20" r="1.25"/><circle cx="646.30" cy="360.66" r="1.25"/><circle cx="650.08" cy="361.05" r="1.25"/><circle cx="653.85" cy="361.33" r="1.25"/><circle cx="657.63" cy="361.44" r="1.25"/><circle cx="661.40" cy="361.40" r="1.25"/><circle cx="665.18" cy="361.12" r="1.25"/><circle cx="668.95" cy="360.61" r="1.25"/><circle cx="672.73" cy="359.96" r="1.25"/><circle cx="676.50" cy="359.30" r="1.25"/></g>
<line x1="661.5" y1="245.2" x2="661.5" y2="407.6" stroke="#333" stroke-width="0.6" stroke-dasharray="1.5 1.5"/>
<line x1="676.4" y1="245.2" x2="676.4" y2="407.6" stroke="#d0d0d0" stroke-width="0.6" stroke-dasharray="1.5 1.5"/>
<rect x="460.6" y="245.2" width="223.80" height="162.40" fill="none" stroke="#777" stroke-width="1"/>
<line x1="485.60" y1="407.6" x2="485.60" y2="410.6" stroke="#777" stroke-width="0.8"/>
<text x="485.60" y="419.30" font-size="7.5" text-anchor="middle" fill="#222" stroke="#222" stroke-width="0.15" >−7</text>
<line x1="526.00" y1="407.6" x2="526.00" y2="410.6" stroke="#777" stroke-width="0.8"/>
<text x="526.00" y="419.30" font-size="7.5" text-anchor="middle" fill="#222" stroke="#222" stroke-width="0.15" >−6</text>
<line x1="566.40" y1="407.6" x2="566.40" y2="410.6" stroke="#777" stroke-width="0.8"/>
<text x="566.40" y="419.30" font-size="7.5" text-anchor="middle" fill="#222" stroke="#222" stroke-width="0.15" >−5</text>
<line x1="606.80" y1="407.6" x2="606.80" y2="410.6" stroke="#777" stroke-width="0.8"/>
<text x="606.80" y="419.30" font-size="7.5" text-anchor="middle" fill="#222" stroke="#222" stroke-width="0.15" >−4</text>
<line x1="647.20" y1="407.6" x2="647.20" y2="410.6" stroke="#777" stroke-width="0.8"/>
<text x="647.20" y="419.30" font-size="7.5" text-anchor="middle" fill="#222" stroke="#222" stroke-width="0.15" >−3</text>
<line x1="457" y1="391.30" x2="460.6" y2="391.30" stroke="#777" stroke-width="0.8"/>
<text transform="translate(451.60 388.20) rotate(-90)" font-size="7.8" text-anchor="middle" fill="#222" stroke="#222" stroke-width="0.15">11.4</text>
<line x1="457" y1="368.15" x2="460.6" y2="368.15" stroke="#777" stroke-width="0.8"/>
<text transform="translate(451.60 365.05) rotate(-90)" font-size="7.8" text-anchor="middle" fill="#222" stroke="#222" stroke-width="0.15">11.6</text>
<line x1="457" y1="345.00" x2="460.6" y2="345.00" stroke="#777" stroke-width="0.8"/>
<text transform="translate(451.60 341.90) rotate(-90)" font-size="7.8" text-anchor="middle" fill="#222" stroke="#222" stroke-width="0.15">11.8</text>
<line x1="457" y1="321.85" x2="460.6" y2="321.85" stroke="#777" stroke-width="0.8"/>
<text transform="translate(451.60 318.75) rotate(-90)" font-size="7.8" text-anchor="middle" fill="#222" stroke="#222" stroke-width="0.15">12.0</text>
<line x1="457" y1="298.70" x2="460.6" y2="298.70" stroke="#777" stroke-width="0.8"/>
<text transform="translate(451.60 295.60) rotate(-90)" font-size="7.8" text-anchor="middle" fill="#222" stroke="#222" stroke-width="0.15">12.2</text>
<line x1="457" y1="275.55" x2="460.6" y2="275.55" stroke="#777" stroke-width="0.8"/>
<text transform="translate(451.60 272.45) rotate(-90)" font-size="7.8" text-anchor="middle" fill="#222" stroke="#222" stroke-width="0.15">12.4</text>
<line x1="457" y1="252.40" x2="460.6" y2="252.40" stroke="#777" stroke-width="0.8"/>
<text transform="translate(451.60 249.30) rotate(-90)" font-size="7.8" text-anchor="middle" fill="#222" stroke="#222" stroke-width="0.15">12.6</text>
<text x="469.70" y="238.00" font-size="7.8" text-anchor="middle" fill="#222" stroke="#222" stroke-width="0.15" >29</text>
<text x="485.00" y="238.00" font-size="7.8" text-anchor="middle" fill="#222" stroke="#222" stroke-width="0.15" >29</text>
<text x="500.00" y="238.00" font-size="7.8" text-anchor="middle" fill="#222" stroke="#222" stroke-width="0.15" >29</text>
<text x="515.30" y="238.00" font-size="7.8" text-anchor="middle" fill="#222" stroke="#222" stroke-width="0.15" >27</text>
<text x="530.20" y="238.00" font-size="7.8" text-anchor="middle" fill="#222" stroke="#222" stroke-width="0.15" >27</text>
<text x="544.90" y="238.00" font-size="7.8" text-anchor="middle" fill="#222" stroke="#222" stroke-width="0.15" >27</text>
<text x="560.30" y="238.00" font-size="7.8" text-anchor="middle" fill="#222" stroke="#222" stroke-width="0.15" >27</text>
<text x="575.20" y="238.00" font-size="7.8" text-anchor="middle" fill="#222" stroke="#222" stroke-width="0.15" >24</text>
<text x="591.00" y="238.00" font-size="7.8" text-anchor="middle" fill="#222" stroke="#222" stroke-width="0.15" >19</text>
<text x="605.90" y="238.00" font-size="7.8" text-anchor="middle" fill="#222" stroke="#222" stroke-width="0.15" >18</text>
<text x="621.00" y="238.00" font-size="7.8" text-anchor="middle" fill="#222" stroke="#222" stroke-width="0.15" >18</text>
<text x="636.00" y="238.00" font-size="7.8" text-anchor="middle" fill="#222" stroke="#222" stroke-width="0.15" >16</text>
<text x="650.30" y="238.00" font-size="7.8" text-anchor="middle" fill="#222" stroke="#222" stroke-width="0.15" >9</text>
<text x="661.50" y="238.00" font-size="7.8" text-anchor="middle" fill="#222" stroke="#222" stroke-width="0.15" >5</text>
<text x="672.70" y="238.00" font-size="7.8" text-anchor="middle" fill="#222" stroke="#222" stroke-width="0.15" >4</text>
<text x="655.30" y="340.00" font-size="8.0" text-anchor="middle" fill="#222" stroke="#222" stroke-width="0.15" >lambda.min =</text>
<text x="658.10" y="349.40" font-size="7.8" text-anchor="middle" fill="#222" stroke="#222" stroke-width="0.15" >0.0702</text>
<text transform="translate(435.50 309.20) rotate(-90)" font-size="8.1" text-anchor="middle" fill="#222" stroke="#222" stroke-width="0.15">Partial Likelihood Deviance</text>
<text x="555.40" y="431.00" font-size="8.6" text-anchor="start" fill="#222" stroke="#222" stroke-width="0.15" >Log</text>
<g font-family="Liberation Serif, serif" fill="#555" font-size="8.6"><text x="574.6" y="430.6">(</text><text x="580.4" y="430.6" text-anchor="middle">λ</text><text x="582.6" y="430.6">)</text></g>
</g>
<g font-family="Liberation Sans, sans-serif">
<text x="-0.80" y="439.20" font-size="15.5" text-anchor="start" fill="#000" stroke="#000" stroke-width="0.15" >C</text>
<path d="M33.6 473.8V689.4H450.8" stroke="#333" stroke-width="0.9" fill="none"/>
<line x1="31.2" y1="679.40" x2="33.6" y2="679.40" stroke="#333" stroke-width="0.8"/>
<text x="29.40" y="681.70" font-size="6.6" text-anchor="end" fill="#4d4d4d" stroke="#4d4d4d" stroke-width="0.15" >0</text>
<line x1="31.2" y1="602.70" x2="33.6" y2="602.70" stroke="#333" stroke-width="0.8"/>
<text x="29.40" y="605.00" font-size="6.6" text-anchor="end" fill="#4d4d4d" stroke="#4d4d4d" stroke-width="0.15" >5</text>
<line x1="31.2" y1="526.00" x2="33.6" y2="526.00" stroke="#333" stroke-width="0.8"/>
<text x="29.40" y="528.30" font-size="6.6" text-anchor="end" fill="#4d4d4d" stroke="#4d4d4d" stroke-width="0.15" >10</text>
<line x1="81.5" y1="689.4" x2="81.5" y2="691.6" stroke="#333" stroke-width="0.8"/>
<text x="81.50" y="698.30" font-size="6.6" text-anchor="middle" fill="#222" stroke="#222" stroke-width="0.15" >LDHA</text>
<line x1="161.8" y1="689.4" x2="161.8" y2="691.6" stroke="#333" stroke-width="0.8"/>
<text x="161.80" y="698.30" font-size="6.6" text-anchor="middle" fill="#222" stroke="#222" stroke-width="0.15" >KYNU</text>
<line x1="242.1" y1="689.4" x2="242.1" y2="691.6" stroke="#333" stroke-width="0.8"/>
<text x="242.10" y="698.30" font-size="6.6" text-anchor="middle" fill="#222" stroke="#222" stroke-width="0.15" >SLC2A1</text>
<line x1="322.4" y1="689.4" x2="322.4" y2="691.6" stroke="#333" stroke-width="0.8"/>
<text x="322.40" y="698.30" font-size="6.6" text-anchor="middle" fill="#222" stroke="#222" stroke-width="0.15" >CFTR</text>
<line x1="402.7" y1="689.4" x2="402.7" y2="691.6" stroke="#333" stroke-width="0.8"/>
<text x="402.70" y="698.30" font-size="6.6" text-anchor="middle" fill="#222" stroke="#222" stroke-width="0.15" >MAOB</text>
<text transform="translate(19.20 581.90) rotate(-90)" font-size="7.1" text-anchor="middle" fill="#222" stroke="#222" stroke-width="0.15">Gene_expression</text>
<path d="M65.40 498.30V513.60M65.40 524.40V540.30" stroke="#333" stroke-width="0.6" fill="none"/>
<rect x="51.30" y="513.60" width="28.2" height="10.80" fill="#F8766D" stroke="#333" stroke-width="0.6"/>
<line x1="51.30" y1="518.90" x2="79.50" y2="518.90" stroke="#222" stroke-width="1.4"/>
<circle cx="65.40" cy="483.90" r="1.45" fill="#000"/>
<circle cx="65.40" cy="491.30" r="1.45" fill="#000"/>
<circle cx="65.40" cy="545.20" r="1.45" fill="#000"/>
<circle cx="65.40" cy="546.80" r="1.45" fill="#000"/>
<path d="M97.60 521.30V528.10M97.60 535.10V540.30" stroke="#333" stroke-width="0.6" fill="none"/>
<rect x="83.50" y="528.10" width="28.2" height="7.00" fill="#00BFC4" stroke="#333" stroke-width="0.6"/>
<line x1="83.50" y1="532.30" x2="111.70" y2="532.30" stroke="#222" stroke-width="1.4"/>
<path d="M145.90 533.60V567.90M145.90 592.40V625.50" stroke="#333" stroke-width="0.6" fill="none"/>
<rect x="131.80" y="567.90" width="28.2" height="24.50" fill="#F8766D" stroke="#333" stroke-width="0.6"/>
<line x1="131.80" y1="583.20" x2="160.00" y2="583.20" stroke="#222" stroke-width="1.4"/>
<circle cx="145.90" cy="511.90" r="1.45" fill="#000"/>
<circle cx="145.90" cy="515.80" r="1.45" fill="#000"/>
<circle cx="145.90" cy="519.40" r="1.45" fill="#000"/>
<circle cx="145.90" cy="521.10" r="1.45" fill="#000"/>
<circle cx="145.90" cy="523.00" r="1.45" fill="#000"/>
<circle cx="145.90" cy="524.90" r="1.45" fill="#000"/>
<circle cx="145.90" cy="525.90" r="1.45" fill="#000"/>
<circle cx="145.90" cy="530.20" r="1.45" fill="#000"/>
<circle cx="145.90" cy="633.20" r="1.45" fill="#000"/>
<path d="M177.80 562.70V573.40M177.80 581.10V588.80" stroke="#333" stroke-width="0.6" fill="none"/>
<rect x="163.70" y="573.40" width="28.2" height="7.70" fill="#00BFC4" stroke="#333" stroke-width="0.6"/>
<line x1="163.70" y1="577.10" x2="191.90" y2="577.10" stroke="#222" stroke-width="1.4"/>
<circle cx="177.80" cy="559.60" r="1.45" fill="#000"/>
<path d="M226.00 505.60V536.40M226.00 560.20V590.10" stroke="#333" stroke-width="0.6" fill="none"/>
<rect x="211.90" y="536.40" width="28.2" height="23.80" fill="#F8766D" stroke="#333" stroke-width="0.6"/>
<line x1="211.90" y1="549.00" x2="240.10" y2="549.00" stroke="#222" stroke-width="1.4"/>
<path d="M258.10 561.20V574.00M258.10 586.20V591.70" stroke="#333" stroke-width="0.6" fill="none"/>
<rect x="244.00" y="574.00" width="28.2" height="12.20" fill="#00BFC4" stroke="#333" stroke-width="0.6"/>
<line x1="244.00" y1="581.70" x2="272.20" y2="581.70" stroke="#222" stroke-width="1.4"/>
<path d="M306.30 537.10V573.40M306.30 607.50V659.90" stroke="#333" stroke-width="0.6" fill="none"/>
<rect x="292.20" y="573.40" width="28.2" height="34.10" fill="#F8766D" stroke="#333" stroke-width="0.6"/>
<line x1="292.20" y1="587.50" x2="320.40" y2="587.50" stroke="#222" stroke-width="1.4"/>
<circle cx="306.30" cy="661.00" r="1.45" fill="#000"/>
<circle cx="306.30" cy="663.10" r="1.45" fill="#000"/>
<circle cx="306.30" cy="679.60" r="1.45" fill="#000"/>
<path d="M338.40 544.10V557.30M338.40 569.20V581.40" stroke="#333" stroke-width="0.6" fill="none"/>
<rect x="324.30" y="557.30" width="28.2" height="11.90" fill="#00BFC4" stroke="#333" stroke-width="0.6"/>
<line x1="324.30" y1="563.40" x2="352.50" y2="563.40" stroke="#222" stroke-width="1.4"/>
<path d="M386.60 545.60V572.00M386.60 590.40V617.60" stroke="#333" stroke-width="0.6" fill="none"/>
<rect x="372.50" y="572.00" width="28.2" height="18.40" fill="#F8766D" stroke="#333" stroke-width="0.6"/>
<line x1="372.50" y1="580.80" x2="400.70" y2="580.80" stroke="#222" stroke-width="1.4"/>
<circle cx="386.60" cy="529.10" r="1.45" fill="#000"/>
<circle cx="386.60" cy="541.30" r="1.45" fill="#000"/>
<circle cx="386.60" cy="618.70" r="1.45" fill="#000"/>
<circle cx="386.60" cy="619.70" r="1.45" fill="#000"/>
<circle cx="386.60" cy="625.10" r="1.45" fill="#000"/>
<circle cx="386.60" cy="628.00" r="1.45" fill="#000"/>
<path d="M418.60 548.30V556.00M418.60 562.70V570.40" stroke="#333" stroke-width="0.6" fill="none"/>
<rect x="404.50" y="556.00" width="28.2" height="6.70" fill="#00BFC4" stroke="#333" stroke-width="0.6"/>
<line x1="404.50" y1="559.20" x2="432.70" y2="559.20" stroke="#222" stroke-width="1.4"/>
<circle cx="418.60" cy="574.90" r="1.45" fill="#000"/>
<circle cx="77.50" cy="480.5" r="0.85" fill="#333"/>
<circle cx="80.17" cy="480.5" r="0.85" fill="#333"/>
<circle cx="82.84" cy="480.5" r="0.85" fill="#333"/>
<circle cx="85.51" cy="480.5" r="0.85" fill="#333"/>
<circle cx="160.47" cy="480.5" r="0.85" fill="#333"/>
<circle cx="163.13" cy="480.5" r="0.85" fill="#333"/>
<circle cx="238.09" cy="480.5" r="0.85" fill="#333"/>
<circle cx="240.76" cy="480.5" r="0.85" fill="#333"/>
<circle cx="243.44" cy="480.5" r="0.85" fill="#333"/>
<circle cx="246.10" cy="480.5" r="0.85" fill="#333"/>
<circle cx="318.39" cy="480.5" r="0.85" fill="#333"/>
<circle cx="321.06" cy="480.5" r="0.85" fill="#333"/>
<circle cx="323.73" cy="480.5" r="0.85" fill="#333"/>
<circle cx="326.40" cy="480.5" r="0.85" fill="#333"/>
<circle cx="398.69" cy="480.5" r="0.85" fill="#333"/>
<circle cx="401.37" cy="480.5" r="0.85" fill="#333"/>
<circle cx="404.03" cy="480.5" r="0.85" fill="#333"/>
<circle cx="406.70" cy="480.5" r="0.85" fill="#333"/>
<line x1="214.5" y1="453.2" x2="214.5" y2="462.6" stroke="#333" stroke-width="0.5"/>
<rect x="210.1" y="454.8" width="8.8" height="6.1" fill="#F8766D" stroke="#333" stroke-width="0.5"/>
<line x1="210.1" y1="457.8" x2="218.9" y2="457.8" stroke="#333" stroke-width="0.6"/>
<text x="223.70" y="460.40" font-size="6.2" text-anchor="start" fill="#222" stroke="#222" stroke-width="0.15" >Tumor</text>
<line x1="249.6" y1="453.2" x2="249.6" y2="462.6" stroke="#333" stroke-width="0.5"/>
<rect x="245.4" y="454.8" width="8.5" height="6.1" fill="#00BFC4" stroke="#333" stroke-width="0.5"/>
<line x1="245.4" y1="457.8" x2="253.9" y2="457.8" stroke="#333" stroke-width="0.6"/>
<text x="259.00" y="460.40" font-size="6.2" text-anchor="start" fill="#222" stroke="#222" stroke-width="0.15" >Normal</text>
</g>
<g font-family="Liberation Sans, sans-serif">
<text x="442.80" y="438.80" font-size="15.0" text-anchor="start" fill="#000" stroke="#000" stroke-width="0.15" >D</text>
<text x="537.00" y="450.60" font-size="5.7" text-anchor="middle" fill="#111" stroke="#111" stroke-width="0.15" >Cutoff: 0.822</text>
<text x="495.20" y="515.80" font-size="5.0" text-anchor="end" fill="#555" stroke="#555" stroke-width="0.15" >0.0</text>
<line x1="495.6" y1="514.00" x2="497.4" y2="514.00" stroke="#555" stroke-width="0.5"/>
<text x="495.20" y="497.80" font-size="5.0" text-anchor="end" fill="#555" stroke="#555" stroke-width="0.15" >0.5</text>
<line x1="495.6" y1="496.00" x2="497.4" y2="496.00" stroke="#555" stroke-width="0.5"/>
<text x="495.20" y="479.80" font-size="5.0" text-anchor="end" fill="#555" stroke="#555" stroke-width="0.15" >1.0</text>
<line x1="495.6" y1="478.00" x2="497.4" y2="478.00" stroke="#555" stroke-width="0.5"/>
<text x="495.20" y="461.80" font-size="5.0" text-anchor="end" fill="#555" stroke="#555" stroke-width="0.15" >1.5</text>
<line x1="495.6" y1="460.00" x2="497.4" y2="460.00" stroke="#555" stroke-width="0.5"/>
<text transform="translate(474.60 481.20) rotate(-90)" font-size="5.6" text-anchor="middle" fill="#111" stroke="#111" stroke-width="0.15">Risk score</text>
<line x1="503.4" y1="484.2" x2="636" y2="484.2" stroke="#999" stroke-width="0.7" stroke-dasharray="0.9 1.8"/>
<polyline points="503.50,501.00 504.30,496.00 505.50,494.80 509.00,493.00 512.60,491.60 516.00,490.40 530.00,488.50 550.00,486.40 569.80,484.20" fill="none" stroke="#1b9e82" stroke-width="1.6"/>
<polyline points="569.80,484.20 591.30,482.00 605.00,480.60 614.00,479.20 621.00,477.20 629.80,474.40 633.50,472.00 635.20,468.00 636.80,460.50" fill="none" stroke="#e3191c" stroke-width="1.6"/>
<line x1="569.8" y1="464.5" x2="569.8" y2="513.8" stroke="#444" stroke-width="1.3" stroke-dasharray="2.3 2.1"/>
<text x="651.70" y="473.00" font-size="5.5" text-anchor="start" fill="#111" stroke="#111" stroke-width="0.15" >Risk score</text>
<circle cx="655.3" cy="480.8" r="0.8" fill="#e3191c"/>
<text x="662.80" y="482.60" font-size="4.75" text-anchor="start" fill="#222" stroke="#222" stroke-width="0.15" >High−risk</text>
<circle cx="655.3" cy="489.6" r="0.8" fill="#1b9e82"/>
<text x="662.80" y="491.40" font-size="4.75" text-anchor="start" fill="#222" stroke="#222" stroke-width="0.15" >Low−risk</text>
<text x="495.20" y="600.70" font-size="5.0" text-anchor="end" fill="#555" stroke="#555" stroke-width="0.15" >0</text>
<line x1="495.6" y1="598.90" x2="497.4" y2="598.90" stroke="#555" stroke-width="0.5"/>
<text x="495.20" y="582.73" font-size="5.0" text-anchor="end" fill="#555" stroke="#555" stroke-width="0.15" >2000</text>
<line x1="495.6" y1="580.93" x2="497.4" y2="580.93" stroke="#555" stroke-width="0.5"/>
<text x="495.20" y="564.77" font-size="5.0" text-anchor="end" fill="#555" stroke="#555" stroke-width="0.15" >4000</text>
<line x1="495.6" y1="562.97" x2="497.4" y2="562.97" stroke="#555" stroke-width="0.5"/>
<text x="495.20" y="546.80" font-size="5.0" text-anchor="end" fill="#555" stroke="#555" stroke-width="0.15" >6000</text>
<line x1="495.6" y1="545.00" x2="497.4" y2="545.00" stroke="#555" stroke-width="0.5"/>
<text transform="translate(474.60 566.20) rotate(-90)" font-size="5.6" text-anchor="middle" fill="#111" stroke="#111" stroke-width="0.15">OS(days)</text>
<g><circle cx="503.50" cy="595.59" r="0.85" fill="#1b9e82"/><circle cx="503.89" cy="592.54" r="0.85" fill="#1b9e82"/><circle cx="504.28" cy="592.75" r="0.85" fill="#e3191c"/><circle cx="504.67" cy="596.65" r="0.85" fill="#e3191c"/><circle cx="505.05" cy="589.77" r="0.85" fill="#e3191c"/><circle cx="505.44" cy="591.80" r="0.85" fill="#1b9e82"/><circle cx="505.83" cy="593.53" r="0.85" fill="#1b9e82"/><circle cx="506.22" cy="589.35" r="0.85" fill="#1b9e82"/><circle cx="506.61" cy="595.98" r="0.85" fill="#1b9e82"/><circle cx="507.00" cy="595.28" r="0.85" fill="#1b9e82"/><circle cx="507.39" cy="593.70" r="0.85" fill="#1b9e82"/><circle cx="507.77" cy="596.82" r="0.85" fill="#e3191c"/><circle cx="508.16" cy="593.32" r="0.85" fill="#1b9e82"/><circle cx="508.55" cy="593.14" r="0.85" fill="#1b9e82"/><circle cx="508.94" cy="591.15" r="0.85" fill="#1b9e82"/><circle cx="509.33" cy="592.62" r="0.85" fill="#1b9e82"/><circle cx="509.72" cy="594.33" r="0.85" fill="#1b9e82"/><circle cx="510.11" cy="593.39" r="0.85" fill="#1b9e82"/><circle cx="510.49" cy="592.89" r="0.85" fill="#e3191c"/><circle cx="510.88" cy="590.49" r="0.85" fill="#1b9e82"/><circle cx="511.27" cy="582.04" r="0.85" fill="#1b9e82"/><circle cx="511.66" cy="592.19" r="0.85" fill="#1b9e82"/><circle cx="512.05" cy="587.88" r="0.85" fill="#1b9e82"/><circle cx="512.44" cy="596.80" r="0.85" fill="#1b9e82"/><circle cx="512.83" cy="586.29" r="0.85" fill="#1b9e82"/><circle cx="513.21" cy="593.61" r="0.85" fill="#1b9e82"/><circle cx="513.60" cy="593.08" r="0.85" fill="#e3191c"/><circle cx="513.99" cy="596.83" r="0.85" fill="#1b9e82"/><circle cx="514.38" cy="594.66" r="0.85" fill="#1b9e82"/><circle cx="514.77" cy="584.56" r="0.85" fill="#1b9e82"/><circle cx="515.16" cy="588.99" r="0.85" fill="#1b9e82"/><circle cx="515.55" cy="582.42" r="0.85" fill="#1b9e82"/><circle cx="515.93" cy="588.98" r="0.85" fill="#1b9e82"/><circle cx="516.32" cy="595.32" r="0.85" fill="#1b9e82"/><circle cx="516.71" cy="592.92" r="0.85" fill="#1b9e82"/><circle cx="517.10" cy="598.35" r="0.85" fill="#1b9e82"/><circle cx="517.49" cy="592.30" r="0.85" fill="#1b9e82"/><circle cx="517.88" cy="592.69" r="0.85" fill="#1b9e82"/><circle cx="518.27" cy="596.92" r="0.85" fill="#1b9e82"/><circle cx="518.65" cy="589.12" r="0.85" fill="#1b9e82"/><circle cx="519.04" cy="593.52" r="0.85" fill="#e3191c"/><circle cx="519.43" cy="596.77" r="0.85" fill="#e3191c"/><circle cx="519.82" cy="595.47" r="0.85" fill="#1b9e82"/><circle cx="520.21" cy="598.77" r="0.85" fill="#e3191c"/><circle cx="520.60" cy="593.76" r="0.85" fill="#e3191c"/><circle cx="520.99" cy="578.81" r="0.85" fill="#1b9e82"/><circle cx="521.37" cy="593.76" r="0.85" fill="#e3191c"/><circle cx="521.76" cy="586.29" r="0.85" fill="#1b9e82"/><circle cx="522.15" cy="596.40" r="0.85" fill="#e3191c"/><circle cx="522.54" cy="594.52" r="0.85" fill="#1b9e82"/><circle cx="522.93" cy="597.60" r="0.85" fill="#1b9e82"/><circle cx="523.32" cy="595.64" r="0.85" fill="#1b9e82"/><circle cx="523.71" cy="592.60" r="0.85" fill="#1b9e82"/><circle cx="524.09" cy="577.92" r="0.85" fill="#1b9e82"/><circle cx="524.48" cy="590.41" r="0.85" fill="#1b9e82"/><circle cx="524.87" cy="594.01" r="0.85" fill="#1b9e82"/><circle cx="525.26" cy="586.71" r="0.85" fill="#1b9e82"/><circle cx="525.65" cy="589.87" r="0.85" fill="#1b9e82"/><circle cx="526.04" cy="592.67" r="0.85" fill="#1b9e82"/><circle cx="526.43" cy="597.48" r="0.85" fill="#1b9e82"/><circle cx="526.81" cy="591.21" r="0.85" fill="#1b9e82"/><circle cx="527.20" cy="588.04" r="0.85" fill="#1b9e82"/><circle cx="527.59" cy="581.49" r="0.85" fill="#1b9e82"/><circle cx="527.98" cy="595.12" r="0.85" fill="#e3191c"/><circle cx="528.37" cy="588.72" r="0.85" fill="#1b9e82"/><circle cx="528.76" cy="591.57" r="0.85" fill="#1b9e82"/><circle cx="529.15" cy="591.51" r="0.85" fill="#1b9e82"/><circle cx="529.53" cy="590.64" r="0.85" fill="#1b9e82"/><circle cx="529.92" cy="590.22" r="0.85" fill="#1b9e82"/><circle cx="530.31" cy="587.18" r="0.85" fill="#1b9e82"/><circle cx="530.70" cy="587.83" r="0.85" fill="#1b9e82"/><circle cx="531.09" cy="595.86" r="0.85" fill="#e3191c"/><circle cx="531.48" cy="576.73" r="0.85" fill="#e3191c"/><circle cx="531.87" cy="569.33" r="0.85" fill="#1b9e82"/><circle cx="532.25" cy="597.88" r="0.85" fill="#1b9e82"/><circle cx="532.64" cy="592.61" r="0.85" fill="#1b9e82"/><circle cx="533.03" cy="589.16" r="0.85" fill="#1b9e82"/><circle cx="533.42" cy="594.62" r="0.85" fill="#1b9e82"/><circle cx="533.81" cy="592.14" r="0.85" fill="#1b9e82"/><circle cx="534.20" cy="595.81" r="0.85" fill="#1b9e82"/><circle cx="534.59" cy="593.11" r="0.85" fill="#1b9e82"/><circle cx="534.97" cy="580.89" r="0.85" fill="#1b9e82"/><circle cx="535.36" cy="592.63" r="0.85" fill="#e3191c"/><circle cx="535.75" cy="595.25" r="0.85" fill="#e3191c"/><circle cx="536.14" cy="595.36" r="0.85" fill="#1b9e82"/><circle cx="536.53" cy="592.38" r="0.85" fill="#1b9e82"/><circle cx="536.92" cy="592.38" r="0.85" fill="#1b9e82"/><circle cx="537.31" cy="592.35" r="0.85" fill="#1b9e82"/><circle cx="537.69" cy="590.41" r="0.85" fill="#1b9e82"/><circle cx="538.08" cy="590.54" r="0.85" fill="#1b9e82"/><circle cx="538.47" cy="591.92" r="0.85" fill="#1b9e82"/><circle cx="538.86" cy="591.21" r="0.85" fill="#1b9e82"/><circle cx="539.25" cy="592.97" r="0.85" fill="#1b9e82"/><circle cx="539.64" cy="589.09" r="0.85" fill="#1b9e82"/><circle cx="540.03" cy="592.35" r="0.85" fill="#1b9e82"/><circle cx="540.42" cy="595.74" r="0.85" fill="#e3191c"/><circle cx="540.80" cy="596.60" r="0.85" fill="#1b9e82"/><circle cx="541.19" cy="591.43" r="0.85" fill="#1b9e82"/><circle cx="541.58" cy="583.76" r="0.85" fill="#1b9e82"/><circle cx="541.97" cy="595.68" r="0.85" fill="#1b9e82"/><circle cx="542.36" cy="583.06" r="0.85" fill="#1b9e82"/><circle cx="542.75" cy="592.90" r="0.85" fill="#1b9e82"/><circle cx="543.14" cy="595.48" r="0.85" fill="#1b9e82"/><circle cx="543.52" cy="593.94" r="0.85" fill="#e3191c"/><circle cx="543.91" cy="590.93" r="0.85" fill="#e3191c"/><circle cx="544.30" cy="593.23" r="0.85" fill="#e3191c"/><circle cx="544.69" cy="591.83" r="0.85" fill="#1b9e82"/><circle cx="545.08" cy="586.70" r="0.85" fill="#1b9e82"/><circle cx="545.47" cy="584.30" r="0.85" fill="#1b9e82"/><circle cx="545.86" cy="590.33" r="0.85" fill="#1b9e82"/><circle cx="546.24" cy="593.36" r="0.85" fill="#1b9e82"/><circle cx="546.63" cy="594.57" r="0.85" fill="#e3191c"/><circle cx="547.02" cy="579.27" r="0.85" fill="#1b9e82"/><circle cx="547.41" cy="591.25" r="0.85" fill="#1b9e82"/><circle cx="547.80" cy="588.02" r="0.85" fill="#1b9e82"/><circle cx="548.19" cy="596.43" r="0.85" fill="#1b9e82"/><circle cx="548.58" cy="589.29" r="0.85" fill="#1b9e82"/><circle cx="548.96" cy="592.40" r="0.85" fill="#1b9e82"/><circle cx="549.35" cy="595.84" r="0.85" fill="#1b9e82"/><circle cx="549.74" cy="596.08" r="0.85" fill="#e3191c"/><circle cx="550.13" cy="595.07" r="0.85" fill="#1b9e82"/><circle cx="550.52" cy="590.54" r="0.85" fill="#1b9e82"/><circle cx="550.91" cy="595.31" r="0.85" fill="#1b9e82"/><circle cx="551.30" cy="594.64" r="0.85" fill="#e3191c"/><circle cx="551.68" cy="592.42" r="0.85" fill="#e3191c"/><circle cx="552.07" cy="588.09" r="0.85" fill="#e3191c"/><circle cx="552.46" cy="593.29" r="0.85" fill="#1b9e82"/><circle cx="552.85" cy="593.56" r="0.85" fill="#1b9e82"/><circle cx="553.24" cy="586.81" r="0.85" fill="#1b9e82"/><circle cx="553.63" cy="591.08" r="0.85" fill="#1b9e82"/><circle cx="554.02" cy="593.88" r="0.85" fill="#e3191c"/><circle cx="554.40" cy="596.63" r="0.85" fill="#1b9e82"/><circle cx="554.79" cy="595.46" r="0.85" fill="#e3191c"/><circle cx="555.18" cy="589.18" r="0.85" fill="#1b9e82"/><circle cx="555.57" cy="594.71" r="0.85" fill="#1b9e82"/><circle cx="555.96" cy="595.52" r="0.85" fill="#1b9e82"/><circle cx="556.35" cy="587.47" r="0.85" fill="#1b9e82"/><circle cx="556.74" cy="594.69" r="0.85" fill="#1b9e82"/><circle cx="557.12" cy="593.81" r="0.85" fill="#e3191c"/><circle cx="557.51" cy="592.99" r="0.85" fill="#1b9e82"/><circle cx="557.90" cy="592.77" r="0.85" fill="#e3191c"/><circle cx="558.29" cy="596.35" r="0.85" fill="#1b9e82"/><circle cx="558.68" cy="597.62" r="0.85" fill="#1b9e82"/><circle cx="559.07" cy="592.14" r="0.85" fill="#1b9e82"/><circle cx="559.46" cy="591.53" r="0.85" fill="#1b9e82"/><circle cx="559.84" cy="581.23" r="0.85" fill="#1b9e82"/><circle cx="560.23" cy="573.44" r="0.85" fill="#1b9e82"/><circle cx="560.62" cy="589.66" r="0.85" fill="#1b9e82"/><circle cx="561.01" cy="590.81" r="0.85" fill="#1b9e82"/><circle cx="561.40" cy="592.63" r="0.85" fill="#1b9e82"/><circle cx="561.79" cy="590.04" r="0.85" fill="#1b9e82"/><circle cx="562.18" cy="588.84" r="0.85" fill="#1b9e82"/><circle cx="562.56" cy="594.81" r="0.85" fill="#e3191c"/><circle cx="562.95" cy="593.78" r="0.85" fill="#e3191c"/><circle cx="563.34" cy="592.36" r="0.85" fill="#1b9e82"/><circle cx="563.73" cy="591.32" r="0.85" fill="#1b9e82"/><circle cx="564.12" cy="590.12" r="0.85" fill="#1b9e82"/><circle cx="564.51" cy="592.54" r="0.85" fill="#1b9e82"/><circle cx="564.90" cy="590.78" r="0.85" fill="#1b9e82"/><circle cx="565.28" cy="594.51" r="0.85" fill="#1b9e82"/><circle cx="565.67" cy="590.75" r="0.85" fill="#1b9e82"/><circle cx="566.06" cy="593.63" r="0.85" fill="#1b9e82"/><circle cx="566.45" cy="590.46" r="0.85" fill="#1b9e82"/><circle cx="566.84" cy="596.53" r="0.85" fill="#e3191c"/><circle cx="567.23" cy="590.71" r="0.85" fill="#1b9e82"/><circle cx="567.62" cy="597.95" r="0.85" fill="#e3191c"/><circle cx="568.00" cy="591.40" r="0.85" fill="#1b9e82"/><circle cx="568.39" cy="594.30" r="0.85" fill="#1b9e82"/><circle cx="568.78" cy="593.05" r="0.85" fill="#e3191c"/><circle cx="569.17" cy="583.28" r="0.85" fill="#1b9e82"/><circle cx="569.56" cy="585.24" r="0.85" fill="#1b9e82"/><circle cx="569.95" cy="587.29" r="0.85" fill="#1b9e82"/><circle cx="570.34" cy="595.00" r="0.85" fill="#1b9e82"/><circle cx="570.72" cy="592.18" r="0.85" fill="#e3191c"/><circle cx="571.11" cy="587.69" r="0.85" fill="#e3191c"/><circle cx="571.50" cy="592.74" r="0.85" fill="#1b9e82"/><circle cx="571.89" cy="594.80" r="0.85" fill="#1b9e82"/><circle cx="572.28" cy="597.56" r="0.85" fill="#e3191c"/><circle cx="572.67" cy="593.16" r="0.85" fill="#1b9e82"/><circle cx="573.06" cy="593.90" r="0.85" fill="#1b9e82"/><circle cx="573.44" cy="598.54" r="0.85" fill="#1b9e82"/><circle cx="573.83" cy="595.95" r="0.85" fill="#1b9e82"/><circle cx="574.22" cy="588.70" r="0.85" fill="#e3191c"/><circle cx="574.61" cy="593.56" r="0.85" fill="#1b9e82"/><circle cx="575.00" cy="593.78" r="0.85" fill="#e3191c"/><circle cx="575.39" cy="597.03" r="0.85" fill="#e3191c"/><circle cx="575.78" cy="594.35" r="0.85" fill="#1b9e82"/><circle cx="576.16" cy="594.51" r="0.85" fill="#1b9e82"/><circle cx="576.55" cy="593.69" r="0.85" fill="#1b9e82"/><circle cx="576.94" cy="576.67" r="0.85" fill="#1b9e82"/><circle cx="577.33" cy="579.51" r="0.85" fill="#1b9e82"/><circle cx="577.72" cy="593.16" r="0.85" fill="#1b9e82"/><circle cx="578.11" cy="594.34" r="0.85" fill="#e3191c"/><circle cx="578.50" cy="584.05" r="0.85" fill="#e3191c"/><circle cx="578.88" cy="594.25" r="0.85" fill="#1b9e82"/><circle cx="579.27" cy="572.54" r="0.85" fill="#1b9e82"/><circle cx="579.66" cy="593.55" r="0.85" fill="#e3191c"/><circle cx="580.05" cy="595.01" r="0.85" fill="#1b9e82"/><circle cx="580.44" cy="594.90" r="0.85" fill="#1b9e82"/><circle cx="580.83" cy="571.01" r="0.85" fill="#1b9e82"/><circle cx="581.22" cy="593.92" r="0.85" fill="#e3191c"/><circle cx="581.60" cy="594.57" r="0.85" fill="#1b9e82"/><circle cx="581.99" cy="577.34" r="0.85" fill="#1b9e82"/><circle cx="582.38" cy="593.67" r="0.85" fill="#e3191c"/><circle cx="582.77" cy="594.41" r="0.85" fill="#1b9e82"/><circle cx="583.16" cy="592.78" r="0.85" fill="#1b9e82"/><circle cx="583.55" cy="583.10" r="0.85" fill="#e3191c"/><circle cx="583.94" cy="593.51" r="0.85" fill="#e3191c"/><circle cx="584.32" cy="576.28" r="0.85" fill="#1b9e82"/><circle cx="584.71" cy="591.05" r="0.85" fill="#1b9e82"/><circle cx="585.10" cy="592.13" r="0.85" fill="#e3191c"/><circle cx="585.49" cy="588.25" r="0.85" fill="#1b9e82"/><circle cx="585.88" cy="587.16" r="0.85" fill="#e3191c"/><circle cx="586.27" cy="595.55" r="0.85" fill="#1b9e82"/><circle cx="586.66" cy="587.95" r="0.85" fill="#1b9e82"/><circle cx="587.04" cy="590.49" r="0.85" fill="#e3191c"/><circle cx="587.43" cy="597.21" r="0.85" fill="#1b9e82"/><circle cx="587.82" cy="588.38" r="0.85" fill="#1b9e82"/><circle cx="588.21" cy="595.85" r="0.85" fill="#e3191c"/><circle cx="588.60" cy="591.16" r="0.85" fill="#e3191c"/><circle cx="588.99" cy="592.62" r="0.85" fill="#1b9e82"/><circle cx="589.38" cy="594.87" r="0.85" fill="#1b9e82"/><circle cx="589.76" cy="594.22" r="0.85" fill="#e3191c"/><circle cx="590.15" cy="578.48" r="0.85" fill="#1b9e82"/><circle cx="590.54" cy="594.66" r="0.85" fill="#1b9e82"/><circle cx="590.93" cy="594.18" r="0.85" fill="#e3191c"/><circle cx="591.32" cy="591.38" r="0.85" fill="#e3191c"/><circle cx="591.71" cy="591.45" r="0.85" fill="#1b9e82"/><circle cx="592.10" cy="597.33" r="0.85" fill="#e3191c"/><circle cx="592.48" cy="591.31" r="0.85" fill="#e3191c"/><circle cx="592.87" cy="590.76" r="0.85" fill="#1b9e82"/><circle cx="593.26" cy="587.24" r="0.85" fill="#e3191c"/><circle cx="593.65" cy="594.81" r="0.85" fill="#e3191c"/><circle cx="594.04" cy="594.27" r="0.85" fill="#1b9e82"/><circle cx="594.43" cy="595.21" r="0.85" fill="#e3191c"/><circle cx="594.82" cy="591.46" r="0.85" fill="#1b9e82"/><circle cx="595.20" cy="593.55" r="0.85" fill="#e3191c"/><circle cx="595.59" cy="583.90" r="0.85" fill="#e3191c"/><circle cx="595.98" cy="593.56" r="0.85" fill="#1b9e82"/><circle cx="596.37" cy="577.53" r="0.85" fill="#1b9e82"/><circle cx="596.76" cy="595.23" r="0.85" fill="#1b9e82"/><circle cx="597.15" cy="597.38" r="0.85" fill="#1b9e82"/><circle cx="597.54" cy="593.69" r="0.85" fill="#e3191c"/><circle cx="597.92" cy="598.44" r="0.85" fill="#e3191c"/><circle cx="598.31" cy="587.63" r="0.85" fill="#e3191c"/><circle cx="598.70" cy="583.19" r="0.85" fill="#e3191c"/><circle cx="599.09" cy="589.83" r="0.85" fill="#e3191c"/><circle cx="599.48" cy="593.00" r="0.85" fill="#e3191c"/><circle cx="599.87" cy="583.34" r="0.85" fill="#e3191c"/><circle cx="600.26" cy="585.10" r="0.85" fill="#e3191c"/><circle cx="600.64" cy="590.47" r="0.85" fill="#e3191c"/><circle cx="601.03" cy="596.77" r="0.85" fill="#1b9e82"/><circle cx="601.42" cy="590.67" r="0.85" fill="#1b9e82"/><circle cx="601.81" cy="594.45" r="0.85" fill="#1b9e82"/><circle cx="602.20" cy="594.54" r="0.85" fill="#1b9e82"/><circle cx="602.59" cy="594.43" r="0.85" fill="#e3191c"/><circle cx="602.98" cy="588.44" r="0.85" fill="#1b9e82"/><circle cx="603.36" cy="585.16" r="0.85" fill="#e3191c"/><circle cx="603.75" cy="587.60" r="0.85" fill="#1b9e82"/><circle cx="604.14" cy="594.63" r="0.85" fill="#e3191c"/><circle cx="604.53" cy="588.22" r="0.85" fill="#e3191c"/><circle cx="604.92" cy="590.76" r="0.85" fill="#1b9e82"/><circle cx="605.31" cy="591.97" r="0.85" fill="#e3191c"/><circle cx="605.70" cy="593.77" r="0.85" fill="#1b9e82"/><circle cx="606.08" cy="595.11" r="0.85" fill="#1b9e82"/><circle cx="606.47" cy="596.73" r="0.85" fill="#e3191c"/><circle cx="606.86" cy="594.04" r="0.85" fill="#1b9e82"/><circle cx="607.25" cy="574.78" r="0.85" fill="#1b9e82"/><circle cx="607.64" cy="592.82" r="0.85" fill="#1b9e82"/><circle cx="608.03" cy="594.78" r="0.85" fill="#e3191c"/><circle cx="608.42" cy="591.38" r="0.85" fill="#1b9e82"/><circle cx="608.81" cy="591.47" r="0.85" fill="#e3191c"/><circle cx="609.19" cy="594.28" r="0.85" fill="#1b9e82"/><circle cx="609.58" cy="590.77" r="0.85" fill="#e3191c"/><circle cx="609.97" cy="594.68" r="0.85" fill="#e3191c"/><circle cx="610.36" cy="579.19" r="0.85" fill="#1b9e82"/><circle cx="610.75" cy="570.54" r="0.85" fill="#e3191c"/><circle cx="611.14" cy="586.42" r="0.85" fill="#e3191c"/><circle cx="611.53" cy="589.86" r="0.85" fill="#1b9e82"/><circle cx="611.91" cy="584.99" r="0.85" fill="#e3191c"/><circle cx="612.30" cy="595.19" r="0.85" fill="#1b9e82"/><circle cx="612.69" cy="588.18" r="0.85" fill="#e3191c"/><circle cx="613.08" cy="580.58" r="0.85" fill="#e3191c"/><circle cx="613.47" cy="584.29" r="0.85" fill="#1b9e82"/><circle cx="613.86" cy="594.92" r="0.85" fill="#e3191c"/><circle cx="614.25" cy="595.05" r="0.85" fill="#e3191c"/><circle cx="614.63" cy="591.59" r="0.85" fill="#e3191c"/><circle cx="615.02" cy="594.02" r="0.85" fill="#1b9e82"/><circle cx="615.41" cy="594.14" r="0.85" fill="#e3191c"/><circle cx="615.80" cy="592.44" r="0.85" fill="#e3191c"/><circle cx="616.19" cy="593.54" r="0.85" fill="#1b9e82"/><circle cx="616.58" cy="596.33" r="0.85" fill="#e3191c"/><circle cx="616.97" cy="593.44" r="0.85" fill="#e3191c"/><circle cx="617.35" cy="587.68" r="0.85" fill="#e3191c"/><circle cx="617.74" cy="593.81" r="0.85" fill="#e3191c"/><circle cx="618.13" cy="574.68" r="0.85" fill="#1b9e82"/><circle cx="618.52" cy="595.05" r="0.85" fill="#e3191c"/><circle cx="618.91" cy="580.86" r="0.85" fill="#1b9e82"/><circle cx="619.30" cy="580.46" r="0.85" fill="#1b9e82"/><circle cx="619.69" cy="591.68" r="0.85" fill="#1b9e82"/><circle cx="620.07" cy="591.84" r="0.85" fill="#e3191c"/><circle cx="620.46" cy="595.65" r="0.85" fill="#e3191c"/><circle cx="620.85" cy="588.27" r="0.85" fill="#e3191c"/><circle cx="621.24" cy="590.04" r="0.85" fill="#1b9e82"/><circle cx="621.63" cy="595.87" r="0.85" fill="#1b9e82"/><circle cx="622.02" cy="570.74" r="0.85" fill="#e3191c"/><circle cx="622.41" cy="588.66" r="0.85" fill="#1b9e82"/><circle cx="622.79" cy="595.49" r="0.85" fill="#1b9e82"/><circle cx="623.18" cy="593.48" r="0.85" fill="#1b9e82"/><circle cx="623.57" cy="595.25" r="0.85" fill="#e3191c"/><circle cx="623.96" cy="592.67" r="0.85" fill="#e3191c"/><circle cx="624.35" cy="594.66" r="0.85" fill="#1b9e82"/><circle cx="624.74" cy="584.98" r="0.85" fill="#1b9e82"/><circle cx="625.13" cy="597.24" r="0.85" fill="#1b9e82"/><circle cx="625.51" cy="592.03" r="0.85" fill="#1b9e82"/><circle cx="625.90" cy="594.18" r="0.85" fill="#e3191c"/><circle cx="626.29" cy="593.33" r="0.85" fill="#1b9e82"/><circle cx="626.68" cy="593.25" r="0.85" fill="#e3191c"/><circle cx="627.07" cy="592.88" r="0.85" fill="#e3191c"/><circle cx="627.46" cy="590.32" r="0.85" fill="#e3191c"/><circle cx="627.85" cy="593.00" r="0.85" fill="#e3191c"/><circle cx="628.23" cy="593.30" r="0.85" fill="#e3191c"/><circle cx="628.62" cy="592.73" r="0.85" fill="#e3191c"/><circle cx="629.01" cy="596.46" r="0.85" fill="#1b9e82"/><circle cx="629.40" cy="592.72" r="0.85" fill="#e3191c"/><circle cx="629.79" cy="593.66" r="0.85" fill="#1b9e82"/><circle cx="630.18" cy="589.37" r="0.85" fill="#1b9e82"/><circle cx="630.57" cy="589.91" r="0.85" fill="#e3191c"/><circle cx="630.95" cy="570.67" r="0.85" fill="#1b9e82"/><circle cx="631.34" cy="590.23" r="0.85" fill="#1b9e82"/><circle cx="631.73" cy="593.85" r="0.85" fill="#1b9e82"/><circle cx="632.12" cy="588.78" r="0.85" fill="#e3191c"/><circle cx="632.51" cy="595.67" r="0.85" fill="#1b9e82"/><circle cx="632.90" cy="583.18" r="0.85" fill="#e3191c"/><circle cx="633.29" cy="594.09" r="0.85" fill="#e3191c"/><circle cx="633.67" cy="595.48" r="0.85" fill="#1b9e82"/><circle cx="634.06" cy="588.80" r="0.85" fill="#e3191c"/><circle cx="634.45" cy="596.01" r="0.85" fill="#1b9e82"/><circle cx="634.84" cy="593.79" r="0.85" fill="#1b9e82"/><circle cx="635.23" cy="592.19" r="0.85" fill="#1b9e82"/><circle cx="635.62" cy="586.30" r="0.85" fill="#1b9e82"/><circle cx="636.01" cy="590.12" r="0.85" fill="#e3191c"/><circle cx="636.39" cy="569.98" r="0.85" fill="#e3191c"/><circle cx="636.78" cy="595.32" r="0.85" fill="#1b9e82"/><circle cx="637.17" cy="589.86" r="0.85" fill="#e3191c"/><circle cx="637.56" cy="586.74" r="0.85" fill="#1b9e82"/><circle cx="637.95" cy="594.13" r="0.85" fill="#e3191c"/><circle cx="638.34" cy="595.61" r="0.85" fill="#1b9e82"/><circle cx="638.73" cy="592.71" r="0.85" fill="#1b9e82"/><circle cx="639.11" cy="594.84" r="0.85" fill="#1b9e82"/><circle cx="639.50" cy="598.46" r="0.85" fill="#e3191c"/><circle cx="639.89" cy="593.81" r="0.85" fill="#e3191c"/><circle cx="640.28" cy="592.12" r="0.85" fill="#e3191c"/><circle cx="640.67" cy="592.99" r="0.85" fill="#e3191c"/><circle cx="641.06" cy="582.80" r="0.85" fill="#e3191c"/><circle cx="641.45" cy="591.70" r="0.85" fill="#1b9e82"/><circle cx="641.83" cy="593.50" r="0.85" fill="#e3191c"/><circle cx="642.22" cy="591.64" r="0.85" fill="#1b9e82"/><circle cx="642.61" cy="591.64" r="0.85" fill="#e3191c"/><circle cx="643.00" cy="577.52" r="0.85" fill="#e3191c"/><circle cx="567.00" cy="538.30" r="0.85" fill="#1b9e82"/><circle cx="592.80" cy="533.60" r="0.85" fill="#1b9e82"/><circle cx="603.80" cy="535.40" r="0.85" fill="#1b9e82"/><circle cx="518.30" cy="556.20" r="0.85" fill="#1b9e82"/><circle cx="508.20" cy="565.80" r="0.85" fill="#1b9e82"/><circle cx="520.10" cy="566.20" r="0.85" fill="#1b9e82"/><circle cx="512.20" cy="570.50" r="0.85" fill="#e3191c"/><circle cx="546.20" cy="568.40" r="0.85" fill="#e3191c"/><circle cx="586.00" cy="565.10" r="0.85" fill="#1b9e82"/><circle cx="599.20" cy="569.30" r="0.85" fill="#1b9e82"/><circle cx="613.00" cy="572.00" r="0.85" fill="#1b9e82"/><circle cx="632.60" cy="575.50" r="0.85" fill="#1b9e82"/><circle cx="638.80" cy="571.50" r="0.85" fill="#1b9e82"/></g>
<line x1="569.8" y1="532" x2="569.8" y2="602" stroke="#444" stroke-width="1.3" stroke-dasharray="2.3 2.1"/>
<text x="654.90" y="558.40" font-size="5.5" text-anchor="start" fill="#111" stroke="#111" stroke-width="0.15" >Status</text>
<circle cx="659.5" cy="566.0" r="0.8" fill="#1b9e82"/>
<text x="666.80" y="568.00" font-size="5.0" text-anchor="start" fill="#222" stroke="#222" stroke-width="0.15" >alive</text>
<circle cx="659.5" cy="574.3" r="0.8" fill="#e3191c"/>
<text x="666.80" y="576.20" font-size="5.0" text-anchor="start" fill="#222" stroke="#222" stroke-width="0.15" >death</text>
<rect x="496.9" y="617.0" width="73.10" height="11.4" fill="#009b82"/>
<rect x="570.0" y="617.0" width="73.00" height="11.4" fill="#dd0000"/>
<text x="494.60" y="636.02" font-size="5.0" text-anchor="end" fill="#444" stroke="#444" stroke-width="0.15" >SLC2A1</text>
<text x="494.60" y="647.66" font-size="5.0" text-anchor="end" fill="#444" stroke="#444" stroke-width="0.15" >LDHA</text>
<text x="494.60" y="659.30" font-size="5.0" text-anchor="end" fill="#444" stroke="#444" stroke-width="0.15" >KYNU</text>
<text x="494.60" y="670.94" font-size="5.0" text-anchor="end" fill="#444" stroke="#444" stroke-width="0.15" >MAOB</text>
<text x="494.60" y="682.58" font-size="5.0" text-anchor="end" fill="#444" stroke="#444" stroke-width="0.15" >CFTR</text>
<g shape-rendering="crispEdges"><rect x="496.90" y="628.40" width="1.67" height="11.64" fill="#eef0eb"/><rect x="498.42" y="628.40" width="1.67" height="11.64" fill="#c7dfd5"/><rect x="499.94" y="628.40" width="1.67" height="11.64" fill="#9ccbbb"/><rect x="501.47" y="628.40" width="1.67" height="11.64" fill="#cee2d8"/><rect x="502.99" y="628.40" width="1.67" height="11.64" fill="#f9eae4"/><rect x="504.51" y="628.40" width="1.67" height="11.64" fill="#dbe8e0"/><rect x="506.03" y="628.40" width="1.67" height="11.64" fill="#faf5f1"/><rect x="507.55" y="628.40" width="1.67" height="11.64" fill="#c5ded3"/><rect x="509.07" y="628.40" width="1.67" height="11.64" fill="#dbe8e0"/><rect x="510.60" y="628.40" width="1.67" height="11.64" fill="#bad9cd"/><rect x="512.12" y="628.40" width="1.67" height="11.64" fill="#dae7df"/><rect x="513.64" y="628.40" width="1.67" height="11.64" fill="#f9ede8"/><rect x="515.16" y="628.40" width="1.67" height="11.64" fill="#85c0ae"/><rect x="516.68" y="628.40" width="1.67" height="11.64" fill="#c7dfd5"/><rect x="518.21" y="628.40" width="1.67" height="11.64" fill="#d7e6de"/><rect x="519.73" y="628.40" width="1.67" height="11.64" fill="#b2d5c8"/><rect x="521.25" y="628.40" width="1.67" height="11.64" fill="#c0dbd1"/><rect x="522.77" y="628.40" width="1.67" height="11.64" fill="#f6f4ef"/><rect x="524.29" y="628.40" width="1.67" height="11.64" fill="#f6c9bd"/><rect x="525.82" y="628.40" width="1.67" height="11.64" fill="#f1f2ed"/><rect x="527.34" y="628.40" width="1.67" height="11.64" fill="#e4ece6"/><rect x="528.86" y="628.40" width="1.67" height="11.64" fill="#8ec4b3"/><rect x="530.38" y="628.40" width="1.67" height="11.64" fill="#f6c7bb"/><rect x="531.90" y="628.40" width="1.67" height="11.64" fill="#dde9e1"/><rect x="533.42" y="628.40" width="1.67" height="11.64" fill="#dae7df"/><rect x="534.95" y="628.40" width="1.67" height="11.64" fill="#a8d0c3"/><rect x="536.47" y="628.40" width="1.67" height="11.64" fill="#dce8e1"/><rect x="537.99" y="628.40" width="1.67" height="11.64" fill="#acd2c5"/><rect x="539.51" y="628.40" width="1.67" height="11.64" fill="#e5ece6"/><rect x="541.03" y="628.40" width="1.67" height="11.64" fill="#f9f6f2"/><rect x="542.56" y="628.40" width="1.67" height="11.64" fill="#e6ede7"/><rect x="544.08" y="628.40" width="1.67" height="11.64" fill="#f4f3ee"/><rect x="545.60" y="628.40" width="1.67" height="11.64" fill="#c0dbd0"/><rect x="547.12" y="628.40" width="1.67" height="11.64" fill="#f6ccc1"/><rect x="548.64" y="628.40" width="1.67" height="11.64" fill="#cce1d7"/><rect x="550.17" y="628.40" width="1.67" height="11.64" fill="#97c8b9"/><rect x="551.69" y="628.40" width="1.67" height="11.64" fill="#e5ede6"/><rect x="553.21" y="628.40" width="1.67" height="11.64" fill="#cce1d7"/><rect x="554.73" y="628.40" width="1.67" height="11.64" fill="#c2dcd1"/><rect x="556.25" y="628.40" width="1.67" height="11.64" fill="#e2ebe4"/><rect x="557.77" y="628.40" width="1.67" height="11.64" fill="#f9efea"/><rect x="559.30" y="628.40" width="1.67" height="11.64" fill="#bfdbcf"/><rect x="560.82" y="628.40" width="1.67" height="11.64" fill="#f1f2ed"/><rect x="562.34" y="628.40" width="1.67" height="11.64" fill="#f5bfb1"/><rect x="563.86" y="628.40" width="1.67" height="11.64" fill="#f7dad2"/><rect x="565.38" y="628.40" width="1.67" height="11.64" fill="#f6f4ef"/><rect x="566.91" y="628.40" width="1.67" height="11.64" fill="#f9ede8"/><rect x="568.43" y="628.40" width="1.67" height="11.64" fill="#faf6f2"/><rect x="569.95" y="628.40" width="1.67" height="11.64" fill="#faf2ed"/><rect x="571.47" y="628.40" width="1.67" height="11.64" fill="#f7d2c8"/><rect x="572.99" y="628.40" width="1.67" height="11.64" fill="#faf1ec"/><rect x="574.52" y="628.40" width="1.67" height="11.64" fill="#95c7b8"/><rect x="576.04" y="628.40" width="1.67" height="11.64" fill="#f9ebe5"/><rect x="577.56" y="628.40" width="1.67" height="11.64" fill="#e0eae3"/><rect x="579.08" y="628.40" width="1.67" height="11.64" fill="#f6cec3"/><rect x="580.60" y="628.40" width="1.67" height="11.64" fill="#f1f2ed"/><rect x="582.12" y="628.40" width="1.67" height="11.64" fill="#f8dfd7"/><rect x="583.65" y="628.40" width="1.67" height="11.64" fill="#f18e79"/><rect x="585.17" y="628.40" width="1.67" height="11.64" fill="#e1ebe4"/><rect x="586.69" y="628.40" width="1.67" height="11.64" fill="#dfeae3"/><rect x="588.21" y="628.40" width="1.67" height="11.64" fill="#d4e4dc"/><rect x="589.73" y="628.40" width="1.67" height="11.64" fill="#a7d0c2"/><rect x="591.26" y="628.40" width="1.67" height="11.64" fill="#c1dcd1"/><rect x="592.78" y="628.40" width="1.67" height="11.64" fill="#f6ccc1"/><rect x="594.30" y="628.40" width="1.67" height="11.64" fill="#faf1ed"/><rect x="595.82" y="628.40" width="1.67" height="11.64" fill="#c7dfd5"/><rect x="597.34" y="628.40" width="1.67" height="11.64" fill="#dbe8e0"/><rect x="598.87" y="628.40" width="1.67" height="11.64" fill="#f5bcae"/><rect x="600.39" y="628.40" width="1.67" height="11.64" fill="#f9f0eb"/><rect x="601.91" y="628.40" width="1.67" height="11.64" fill="#f8dfd7"/><rect x="603.43" y="628.40" width="1.67" height="11.64" fill="#f5c2b5"/><rect x="604.95" y="628.40" width="1.67" height="11.64" fill="#f19884"/><rect x="606.48" y="628.40" width="1.67" height="11.64" fill="#ef8068"/><rect x="608.00" y="628.40" width="1.67" height="11.64" fill="#f2a18f"/><rect x="609.52" y="628.40" width="1.67" height="11.64" fill="#f5c2b5"/><rect x="611.04" y="628.40" width="1.67" height="11.64" fill="#f5bfb1"/><rect x="612.56" y="628.40" width="1.67" height="11.64" fill="#ef7e65"/><rect x="614.08" y="628.40" width="1.67" height="11.64" fill="#f08a74"/><rect x="615.61" y="628.40" width="1.67" height="11.64" fill="#f6ccc1"/><rect x="617.13" y="628.40" width="1.67" height="11.64" fill="#f3ac9b"/><rect x="618.65" y="628.40" width="1.67" height="11.64" fill="#f4b1a1"/><rect x="620.17" y="628.40" width="1.67" height="11.64" fill="#f4b8a9"/><rect x="621.69" y="628.40" width="1.67" height="11.64" fill="#f6cbc0"/><rect x="623.22" y="628.40" width="1.67" height="11.64" fill="#f9e9e3"/><rect x="624.74" y="628.40" width="1.67" height="11.64" fill="#f6c8bc"/><rect x="626.26" y="628.40" width="1.67" height="11.64" fill="#f9ede7"/><rect x="627.78" y="628.40" width="1.67" height="11.64" fill="#ef7e66"/><rect x="629.30" y="628.40" width="1.67" height="11.64" fill="#f19782"/><rect x="630.83" y="628.40" width="1.67" height="11.64" fill="#f7d8cf"/><rect x="632.35" y="628.40" width="1.67" height="11.64" fill="#ee7055"/><rect x="633.87" y="628.40" width="1.67" height="11.64" fill="#ef8169"/><rect x="635.39" y="628.40" width="1.67" height="11.64" fill="#f9ebe5"/><rect x="636.91" y="628.40" width="1.67" height="11.64" fill="#ec5c3e"/><rect x="638.43" y="628.40" width="1.67" height="11.64" fill="#ef7b62"/><rect x="639.96" y="628.40" width="1.67" height="11.64" fill="#ec5c3e"/><rect x="641.48" y="628.40" width="1.67" height="11.64" fill="#f5c4b8"/><rect x="496.90" y="640.04" width="1.67" height="11.64" fill="#b6d7cb"/><rect x="498.42" y="640.04" width="1.67" height="11.64" fill="#b3d5c9"/><rect x="499.94" y="640.04" width="1.67" height="11.64" fill="#aad1c4"/><rect x="501.47" y="640.04" width="1.67" height="11.64" fill="#abd1c4"/><rect x="502.99" y="640.04" width="1.67" height="11.64" fill="#d6e5dd"/><rect x="504.51" y="640.04" width="1.67" height="11.64" fill="#60af98"/><rect x="506.03" y="640.04" width="1.67" height="11.64" fill="#6db5a0"/><rect x="507.55" y="640.04" width="1.67" height="11.64" fill="#68b39d"/><rect x="509.07" y="640.04" width="1.67" height="11.64" fill="#91c6b5"/><rect x="510.60" y="640.04" width="1.67" height="11.64" fill="#91c5b5"/><rect x="512.12" y="640.04" width="1.67" height="11.64" fill="#c1dbd1"/><rect x="513.64" y="640.04" width="1.67" height="11.64" fill="#bedacf"/><rect x="515.16" y="640.04" width="1.67" height="11.64" fill="#b4d6ca"/><rect x="516.68" y="640.04" width="1.67" height="11.64" fill="#95c7b7"/><rect x="518.21" y="640.04" width="1.67" height="11.64" fill="#a2cdbf"/><rect x="519.73" y="640.04" width="1.67" height="11.64" fill="#e5ece6"/><rect x="521.25" y="640.04" width="1.67" height="11.64" fill="#dee9e2"/><rect x="522.77" y="640.04" width="1.67" height="11.64" fill="#c1dcd1"/><rect x="524.29" y="640.04" width="1.67" height="11.64" fill="#afd3c6"/><rect x="525.82" y="640.04" width="1.67" height="11.64" fill="#f9eae4"/><rect x="527.34" y="640.04" width="1.67" height="11.64" fill="#a6cfc1"/><rect x="528.86" y="640.04" width="1.67" height="11.64" fill="#e2ebe4"/><rect x="530.38" y="640.04" width="1.67" height="11.64" fill="#faf5f0"/><rect x="531.90" y="640.04" width="1.67" height="11.64" fill="#bbd9cd"/><rect x="533.42" y="640.04" width="1.67" height="11.64" fill="#f0f1ec"/><rect x="534.95" y="640.04" width="1.67" height="11.64" fill="#96c8b8"/><rect x="536.47" y="640.04" width="1.67" height="11.64" fill="#faf4f0"/><rect x="537.99" y="640.04" width="1.67" height="11.64" fill="#d8e6de"/><rect x="539.51" y="640.04" width="1.67" height="11.64" fill="#85c0ae"/><rect x="541.03" y="640.04" width="1.67" height="11.64" fill="#f2f2ed"/><rect x="542.56" y="640.04" width="1.67" height="11.64" fill="#aad1c3"/><rect x="544.08" y="640.04" width="1.67" height="11.64" fill="#f8e2db"/><rect x="545.60" y="640.04" width="1.67" height="11.64" fill="#b8d7cb"/><rect x="547.12" y="640.04" width="1.67" height="11.64" fill="#d2e3db"/><rect x="548.64" y="640.04" width="1.67" height="11.64" fill="#e9eee8"/><rect x="550.17" y="640.04" width="1.67" height="11.64" fill="#cde1d8"/><rect x="551.69" y="640.04" width="1.67" height="11.64" fill="#ebefe9"/><rect x="553.21" y="640.04" width="1.67" height="11.64" fill="#c7ded4"/><rect x="554.73" y="640.04" width="1.67" height="11.64" fill="#f9efea"/><rect x="556.25" y="640.04" width="1.67" height="11.64" fill="#e5ece6"/><rect x="557.77" y="640.04" width="1.67" height="11.64" fill="#f0f1ec"/><rect x="559.30" y="640.04" width="1.67" height="11.64" fill="#66b29c"/><rect x="560.82" y="640.04" width="1.67" height="11.64" fill="#f7d6cc"/><rect x="562.34" y="640.04" width="1.67" height="11.64" fill="#edf0eb"/><rect x="563.86" y="640.04" width="1.67" height="11.64" fill="#9acaba"/><rect x="565.38" y="640.04" width="1.67" height="11.64" fill="#f4f3ef"/><rect x="566.91" y="640.04" width="1.67" height="11.64" fill="#f9ebe5"/><rect x="568.43" y="640.04" width="1.67" height="11.64" fill="#f7d2c8"/><rect x="569.95" y="640.04" width="1.67" height="11.64" fill="#c2dcd2"/><rect x="571.47" y="640.04" width="1.67" height="11.64" fill="#f5bcae"/><rect x="572.99" y="640.04" width="1.67" height="11.64" fill="#f2f2ed"/><rect x="574.52" y="640.04" width="1.67" height="11.64" fill="#f19884"/><rect x="576.04" y="640.04" width="1.67" height="11.64" fill="#f6f4f0"/><rect x="577.56" y="640.04" width="1.67" height="11.64" fill="#f7d7ce"/><rect x="579.08" y="640.04" width="1.67" height="11.64" fill="#f0f1ec"/><rect x="580.60" y="640.04" width="1.67" height="11.64" fill="#cee2d9"/><rect x="582.12" y="640.04" width="1.67" height="11.64" fill="#f5c2b5"/><rect x="583.65" y="640.04" width="1.67" height="11.64" fill="#f6c8bc"/><rect x="585.17" y="640.04" width="1.67" height="11.64" fill="#f3ae9d"/><rect x="586.69" y="640.04" width="1.67" height="11.64" fill="#f6c7bb"/><rect x="588.21" y="640.04" width="1.67" height="11.64" fill="#f2f2ed"/><rect x="589.73" y="640.04" width="1.67" height="11.64" fill="#c1dcd1"/><rect x="591.26" y="640.04" width="1.67" height="11.64" fill="#f3f3ee"/><rect x="592.78" y="640.04" width="1.67" height="11.64" fill="#f3f3ee"/><rect x="594.30" y="640.04" width="1.67" height="11.64" fill="#eff1ec"/><rect x="595.82" y="640.04" width="1.67" height="11.64" fill="#f6c7bb"/><rect x="597.34" y="640.04" width="1.67" height="11.64" fill="#f6cfc4"/><rect x="598.87" y="640.04" width="1.67" height="11.64" fill="#f8e4dd"/><rect x="600.39" y="640.04" width="1.67" height="11.64" fill="#f7d1c7"/><rect x="601.91" y="640.04" width="1.67" height="11.64" fill="#f8dcd3"/><rect x="603.43" y="640.04" width="1.67" height="11.64" fill="#f6ccc1"/><rect x="604.95" y="640.04" width="1.67" height="11.64" fill="#f4b5a6"/><rect x="606.48" y="640.04" width="1.67" height="11.64" fill="#f3ab9a"/><rect x="608.00" y="640.04" width="1.67" height="11.64" fill="#f9e9e3"/><rect x="609.52" y="640.04" width="1.67" height="11.64" fill="#e6ede6"/><rect x="611.04" y="640.04" width="1.67" height="11.64" fill="#f1927e"/><rect x="612.56" y="640.04" width="1.67" height="11.64" fill="#f5c3b7"/><rect x="614.08" y="640.04" width="1.67" height="11.64" fill="#f29b87"/><rect x="615.61" y="640.04" width="1.67" height="11.64" fill="#eaeee8"/><rect x="617.13" y="640.04" width="1.67" height="11.64" fill="#f6cec3"/><rect x="618.65" y="640.04" width="1.67" height="11.64" fill="#f5beb0"/><rect x="620.17" y="640.04" width="1.67" height="11.64" fill="#faf5f1"/><rect x="621.69" y="640.04" width="1.67" height="11.64" fill="#f6cec4"/><rect x="623.22" y="640.04" width="1.67" height="11.64" fill="#f29b88"/><rect x="624.74" y="640.04" width="1.67" height="11.64" fill="#f08b75"/><rect x="626.26" y="640.04" width="1.67" height="11.64" fill="#ee745b"/><rect x="627.78" y="640.04" width="1.67" height="11.64" fill="#f7d2c7"/><rect x="629.30" y="640.04" width="1.67" height="11.64" fill="#f8e4dd"/><rect x="630.83" y="640.04" width="1.67" height="11.64" fill="#f19682"/><rect x="632.35" y="640.04" width="1.67" height="11.64" fill="#f0836b"/><rect x="633.87" y="640.04" width="1.67" height="11.64" fill="#f29d8a"/><rect x="635.39" y="640.04" width="1.67" height="11.64" fill="#f7d4cb"/><rect x="636.91" y="640.04" width="1.67" height="11.64" fill="#ef8068"/><rect x="638.43" y="640.04" width="1.67" height="11.64" fill="#ef7c64"/><rect x="639.96" y="640.04" width="1.67" height="11.64" fill="#ef826b"/><rect x="641.48" y="640.04" width="1.67" height="11.64" fill="#f3a796"/><rect x="496.90" y="651.68" width="1.67" height="11.64" fill="#dde9e1"/><rect x="498.42" y="651.68" width="1.67" height="11.64" fill="#f4f3ef"/><rect x="499.94" y="651.68" width="1.67" height="11.64" fill="#b5d6ca"/><rect x="501.47" y="651.68" width="1.67" height="11.64" fill="#79baa7"/><rect x="502.99" y="651.68" width="1.67" height="11.64" fill="#e0eae3"/><rect x="504.51" y="651.68" width="1.67" height="11.64" fill="#e7ede7"/><rect x="506.03" y="651.68" width="1.67" height="11.64" fill="#d2e3db"/><rect x="507.55" y="651.68" width="1.67" height="11.64" fill="#faf5f1"/><rect x="509.07" y="651.68" width="1.67" height="11.64" fill="#b6d7cb"/><rect x="510.60" y="651.68" width="1.67" height="11.64" fill="#cee2d9"/><rect x="512.12" y="651.68" width="1.67" height="11.64" fill="#c4ddd3"/><rect x="513.64" y="651.68" width="1.67" height="11.64" fill="#eef0eb"/><rect x="515.16" y="651.68" width="1.67" height="11.64" fill="#f7d8cf"/><rect x="516.68" y="651.68" width="1.67" height="11.64" fill="#c8dfd5"/><rect x="518.21" y="651.68" width="1.67" height="11.64" fill="#f6c5b9"/><rect x="519.73" y="651.68" width="1.67" height="11.64" fill="#f7d9d1"/><rect x="521.25" y="651.68" width="1.67" height="11.64" fill="#faf6f2"/><rect x="522.77" y="651.68" width="1.67" height="11.64" fill="#f1f2ed"/><rect x="524.29" y="651.68" width="1.67" height="11.64" fill="#f6cfc4"/><rect x="525.82" y="651.68" width="1.67" height="11.64" fill="#cee1d8"/><rect x="527.34" y="651.68" width="1.67" height="11.64" fill="#d1e3da"/><rect x="528.86" y="651.68" width="1.67" height="11.64" fill="#a5cfc1"/><rect x="530.38" y="651.68" width="1.67" height="11.64" fill="#eef0eb"/><rect x="531.90" y="651.68" width="1.67" height="11.64" fill="#f8ded6"/><rect x="533.42" y="651.68" width="1.67" height="11.64" fill="#f1f2ed"/><rect x="534.95" y="651.68" width="1.67" height="11.64" fill="#ecf0ea"/><rect x="536.47" y="651.68" width="1.67" height="11.64" fill="#cfe2d9"/><rect x="537.99" y="651.68" width="1.67" height="11.64" fill="#e1ebe4"/><rect x="539.51" y="651.68" width="1.67" height="11.64" fill="#97c8b8"/><rect x="541.03" y="651.68" width="1.67" height="11.64" fill="#f9e7e1"/><rect x="542.56" y="651.68" width="1.67" height="11.64" fill="#c7dfd5"/><rect x="544.08" y="651.68" width="1.67" height="11.64" fill="#a7d0c2"/><rect x="545.60" y="651.68" width="1.67" height="11.64" fill="#b8d8cc"/><rect x="547.12" y="651.68" width="1.67" height="11.64" fill="#b5d6ca"/><rect x="548.64" y="651.68" width="1.67" height="11.64" fill="#f9ede7"/><rect x="550.17" y="651.68" width="1.67" height="11.64" fill="#f8e5de"/><rect x="551.69" y="651.68" width="1.67" height="11.64" fill="#9ecbbc"/><rect x="553.21" y="651.68" width="1.67" height="11.64" fill="#f9e9e3"/><rect x="554.73" y="651.68" width="1.67" height="11.64" fill="#f9eae4"/><rect x="556.25" y="651.68" width="1.67" height="11.64" fill="#c4ddd3"/><rect x="557.77" y="651.68" width="1.67" height="11.64" fill="#9ac9ba"/><rect x="559.30" y="651.68" width="1.67" height="11.64" fill="#bddacf"/><rect x="560.82" y="651.68" width="1.67" height="11.64" fill="#c3ddd2"/><rect x="562.34" y="651.68" width="1.67" height="11.64" fill="#f2f2ed"/><rect x="563.86" y="651.68" width="1.67" height="11.64" fill="#d1e3da"/><rect x="565.38" y="651.68" width="1.67" height="11.64" fill="#83bfad"/><rect x="566.91" y="651.68" width="1.67" height="11.64" fill="#eff1eb"/><rect x="568.43" y="651.68" width="1.67" height="11.64" fill="#9ccbbb"/><rect x="569.95" y="651.68" width="1.67" height="11.64" fill="#f8e4dd"/><rect x="571.47" y="651.68" width="1.67" height="11.64" fill="#add2c5"/><rect x="572.99" y="651.68" width="1.67" height="11.64" fill="#c6ded4"/><rect x="574.52" y="651.68" width="1.67" height="11.64" fill="#bfdbd0"/><rect x="576.04" y="651.68" width="1.67" height="11.64" fill="#cfe2d9"/><rect x="577.56" y="651.68" width="1.67" height="11.64" fill="#f7d1c7"/><rect x="579.08" y="651.68" width="1.67" height="11.64" fill="#f8e2da"/><rect x="580.60" y="651.68" width="1.67" height="11.64" fill="#f9ebe5"/><rect x="582.12" y="651.68" width="1.67" height="11.64" fill="#faf5f1"/><rect x="583.65" y="651.68" width="1.67" height="11.64" fill="#a5cfc0"/><rect x="585.17" y="651.68" width="1.67" height="11.64" fill="#d6e5dd"/><rect x="586.69" y="651.68" width="1.67" height="11.64" fill="#d6e5dd"/><rect x="588.21" y="651.68" width="1.67" height="11.64" fill="#c3ddd2"/><rect x="589.73" y="651.68" width="1.67" height="11.64" fill="#f9e8e2"/><rect x="591.26" y="651.68" width="1.67" height="11.64" fill="#d1e3da"/><rect x="592.78" y="651.68" width="1.67" height="11.64" fill="#d4e4dc"/><rect x="594.30" y="651.68" width="1.67" height="11.64" fill="#c6ded4"/><rect x="595.82" y="651.68" width="1.67" height="11.64" fill="#98c9b9"/><rect x="597.34" y="651.68" width="1.67" height="11.64" fill="#f8ded6"/><rect x="598.87" y="651.68" width="1.67" height="11.64" fill="#f5c0b3"/><rect x="600.39" y="651.68" width="1.67" height="11.64" fill="#f9ece6"/><rect x="601.91" y="651.68" width="1.67" height="11.64" fill="#d2e4db"/><rect x="603.43" y="651.68" width="1.67" height="11.64" fill="#83bfad"/><rect x="604.95" y="651.68" width="1.67" height="11.64" fill="#f9e7e0"/><rect x="606.48" y="651.68" width="1.67" height="11.64" fill="#f5bcae"/><rect x="608.00" y="651.68" width="1.67" height="11.64" fill="#f8ded6"/><rect x="609.52" y="651.68" width="1.67" height="11.64" fill="#f5c3b7"/><rect x="611.04" y="651.68" width="1.67" height="11.64" fill="#f3ac9b"/><rect x="612.56" y="651.68" width="1.67" height="11.64" fill="#f4b7a8"/><rect x="614.08" y="651.68" width="1.67" height="11.64" fill="#faf2ed"/><rect x="615.61" y="651.68" width="1.67" height="11.64" fill="#f4b5a6"/><rect x="617.13" y="651.68" width="1.67" height="11.64" fill="#f5bdb0"/><rect x="618.65" y="651.68" width="1.67" height="11.64" fill="#d5e5dc"/><rect x="620.17" y="651.68" width="1.67" height="11.64" fill="#f9e6df"/><rect x="621.69" y="651.68" width="1.67" height="11.64" fill="#e1eae4"/><rect x="623.22" y="651.68" width="1.67" height="11.64" fill="#f7d4cb"/><rect x="624.74" y="651.68" width="1.67" height="11.64" fill="#f4b6a7"/><rect x="626.26" y="651.68" width="1.67" height="11.64" fill="#faf3ef"/><rect x="627.78" y="651.68" width="1.67" height="11.64" fill="#d3e4dc"/><rect x="629.30" y="651.68" width="1.67" height="11.64" fill="#f1907a"/><rect x="630.83" y="651.68" width="1.67" height="11.64" fill="#f4b0a0"/><rect x="632.35" y="651.68" width="1.67" height="11.64" fill="#ef8169"/><rect x="633.87" y="651.68" width="1.67" height="11.64" fill="#f9eae4"/><rect x="635.39" y="651.68" width="1.67" height="11.64" fill="#f08972"/><rect x="636.91" y="651.68" width="1.67" height="11.64" fill="#ec5c3f"/><rect x="638.43" y="651.68" width="1.67" height="11.64" fill="#ec5c3e"/><rect x="639.96" y="651.68" width="1.67" height="11.64" fill="#f3ac9c"/><rect x="641.48" y="651.68" width="1.67" height="11.64" fill="#f19480"/><rect x="496.90" y="663.32" width="1.67" height="11.64" fill="#f4af9f"/><rect x="498.42" y="663.32" width="1.67" height="11.64" fill="#f0836c"/><rect x="499.94" y="663.32" width="1.67" height="11.64" fill="#f0836c"/><rect x="501.47" y="663.32" width="1.67" height="11.64" fill="#f3aa99"/><rect x="502.99" y="663.32" width="1.67" height="11.64" fill="#f8e3dc"/><rect x="504.51" y="663.32" width="1.67" height="11.64" fill="#f1937e"/><rect x="506.03" y="663.32" width="1.67" height="11.64" fill="#f5c3b7"/><rect x="507.55" y="663.32" width="1.67" height="11.64" fill="#f29a86"/><rect x="509.07" y="663.32" width="1.67" height="11.64" fill="#f3aa99"/><rect x="510.60" y="663.32" width="1.67" height="11.64" fill="#ee765c"/><rect x="512.12" y="663.32" width="1.67" height="11.64" fill="#f08a74"/><rect x="513.64" y="663.32" width="1.67" height="11.64" fill="#f6c9be"/><rect x="515.16" y="663.32" width="1.67" height="11.64" fill="#f3ac9b"/><rect x="516.68" y="663.32" width="1.67" height="11.64" fill="#ee765c"/><rect x="518.21" y="663.32" width="1.67" height="11.64" fill="#f7d1c7"/><rect x="519.73" y="663.32" width="1.67" height="11.64" fill="#f3ac9c"/><rect x="521.25" y="663.32" width="1.67" height="11.64" fill="#f1907b"/><rect x="522.77" y="663.32" width="1.67" height="11.64" fill="#f18f7a"/><rect x="524.29" y="663.32" width="1.67" height="11.64" fill="#f3ad9d"/><rect x="525.82" y="663.32" width="1.67" height="11.64" fill="#faf6f2"/><rect x="527.34" y="663.32" width="1.67" height="11.64" fill="#faf5f1"/><rect x="528.86" y="663.32" width="1.67" height="11.64" fill="#f5bcae"/><rect x="530.38" y="663.32" width="1.67" height="11.64" fill="#f4b8a9"/><rect x="531.90" y="663.32" width="1.67" height="11.64" fill="#ed6548"/><rect x="533.42" y="663.32" width="1.67" height="11.64" fill="#f9ebe5"/><rect x="534.95" y="663.32" width="1.67" height="11.64" fill="#f29e8c"/><rect x="536.47" y="663.32" width="1.67" height="11.64" fill="#f3ae9e"/><rect x="537.99" y="663.32" width="1.67" height="11.64" fill="#dce8e1"/><rect x="539.51" y="663.32" width="1.67" height="11.64" fill="#f9efea"/><rect x="541.03" y="663.32" width="1.67" height="11.64" fill="#f6cabe"/><rect x="542.56" y="663.32" width="1.67" height="11.64" fill="#f8e5de"/><rect x="544.08" y="663.32" width="1.67" height="11.64" fill="#f7d9d0"/><rect x="545.60" y="663.32" width="1.67" height="11.64" fill="#f5c2b5"/><rect x="547.12" y="663.32" width="1.67" height="11.64" fill="#faf5f1"/><rect x="548.64" y="663.32" width="1.67" height="11.64" fill="#f6c5b8"/><rect x="550.17" y="663.32" width="1.67" height="11.64" fill="#faf1ec"/><rect x="551.69" y="663.32" width="1.67" height="11.64" fill="#f9efea"/><rect x="553.21" y="663.32" width="1.67" height="11.64" fill="#f6c6ba"/><rect x="554.73" y="663.32" width="1.67" height="11.64" fill="#faf3ee"/><rect x="556.25" y="663.32" width="1.67" height="11.64" fill="#f7d2c8"/><rect x="557.77" y="663.32" width="1.67" height="11.64" fill="#f2a18e"/><rect x="559.30" y="663.32" width="1.67" height="11.64" fill="#f8dfd8"/><rect x="560.82" y="663.32" width="1.67" height="11.64" fill="#f9e7e1"/><rect x="562.34" y="663.32" width="1.67" height="11.64" fill="#f6c6ba"/><rect x="563.86" y="663.32" width="1.67" height="11.64" fill="#faf3ee"/><rect x="565.38" y="663.32" width="1.67" height="11.64" fill="#f5bcae"/><rect x="566.91" y="663.32" width="1.67" height="11.64" fill="#cfe2d9"/><rect x="568.43" y="663.32" width="1.67" height="11.64" fill="#f7d0c6"/><rect x="569.95" y="663.32" width="1.67" height="11.64" fill="#f1f2ed"/><rect x="571.47" y="663.32" width="1.67" height="11.64" fill="#e1ebe4"/><rect x="572.99" y="663.32" width="1.67" height="11.64" fill="#f3a896"/><rect x="574.52" y="663.32" width="1.67" height="11.64" fill="#dce8e0"/><rect x="576.04" y="663.32" width="1.67" height="11.64" fill="#f3ab9a"/><rect x="577.56" y="663.32" width="1.67" height="11.64" fill="#f7d7ce"/><rect x="579.08" y="663.32" width="1.67" height="11.64" fill="#f4b9ab"/><rect x="580.60" y="663.32" width="1.67" height="11.64" fill="#cfe2d9"/><rect x="582.12" y="663.32" width="1.67" height="11.64" fill="#f6c6ba"/><rect x="583.65" y="663.32" width="1.67" height="11.64" fill="#f5bdb0"/><rect x="585.17" y="663.32" width="1.67" height="11.64" fill="#f3f3ee"/><rect x="586.69" y="663.32" width="1.67" height="11.64" fill="#f1f2ed"/><rect x="588.21" y="663.32" width="1.67" height="11.64" fill="#f29a87"/><rect x="589.73" y="663.32" width="1.67" height="11.64" fill="#faf4f0"/><rect x="591.26" y="663.32" width="1.67" height="11.64" fill="#dee9e2"/><rect x="592.78" y="663.32" width="1.67" height="11.64" fill="#d3e4db"/><rect x="594.30" y="663.32" width="1.67" height="11.64" fill="#f9eee9"/><rect x="595.82" y="663.32" width="1.67" height="11.64" fill="#faf4f0"/><rect x="597.34" y="663.32" width="1.67" height="11.64" fill="#f4f3ee"/><rect x="598.87" y="663.32" width="1.67" height="11.64" fill="#f5c0b3"/><rect x="600.39" y="663.32" width="1.67" height="11.64" fill="#d9e7df"/><rect x="601.91" y="663.32" width="1.67" height="11.64" fill="#faf4ef"/><rect x="603.43" y="663.32" width="1.67" height="11.64" fill="#f6cfc4"/><rect x="604.95" y="663.32" width="1.67" height="11.64" fill="#b4d6c9"/><rect x="606.48" y="663.32" width="1.67" height="11.64" fill="#f8e2da"/><rect x="608.00" y="663.32" width="1.67" height="11.64" fill="#f5c4b8"/><rect x="609.52" y="663.32" width="1.67" height="11.64" fill="#9eccbd"/><rect x="611.04" y="663.32" width="1.67" height="11.64" fill="#a9d1c3"/><rect x="612.56" y="663.32" width="1.67" height="11.64" fill="#aad1c4"/><rect x="614.08" y="663.32" width="1.67" height="11.64" fill="#82bfad"/><rect x="615.61" y="663.32" width="1.67" height="11.64" fill="#edf0ea"/><rect x="617.13" y="663.32" width="1.67" height="11.64" fill="#7fbdaa"/><rect x="618.65" y="663.32" width="1.67" height="11.64" fill="#ecf0ea"/><rect x="620.17" y="663.32" width="1.67" height="11.64" fill="#f8ded6"/><rect x="621.69" y="663.32" width="1.67" height="11.64" fill="#85c0ae"/><rect x="623.22" y="663.32" width="1.67" height="11.64" fill="#c1dbd1"/><rect x="624.74" y="663.32" width="1.67" height="11.64" fill="#74b8a4"/><rect x="626.26" y="663.32" width="1.67" height="11.64" fill="#f1f2ed"/><rect x="627.78" y="663.32" width="1.67" height="11.64" fill="#a8d0c2"/><rect x="629.30" y="663.32" width="1.67" height="11.64" fill="#bddace"/><rect x="630.83" y="663.32" width="1.67" height="11.64" fill="#cae0d6"/><rect x="632.35" y="663.32" width="1.67" height="11.64" fill="#dfeae3"/><rect x="633.87" y="663.32" width="1.67" height="11.64" fill="#b4d6c9"/><rect x="635.39" y="663.32" width="1.67" height="11.64" fill="#c3ddd2"/><rect x="636.91" y="663.32" width="1.67" height="11.64" fill="#a7d0c2"/><rect x="638.43" y="663.32" width="1.67" height="11.64" fill="#c5ddd3"/><rect x="639.96" y="663.32" width="1.67" height="11.64" fill="#86c1af"/><rect x="641.48" y="663.32" width="1.67" height="11.64" fill="#bfdbd0"/><rect x="496.90" y="674.96" width="1.67" height="11.64" fill="#f8dbd2"/><rect x="498.42" y="674.96" width="1.67" height="11.64" fill="#f3a492"/><rect x="499.94" y="674.96" width="1.67" height="11.64" fill="#ec5c3e"/><rect x="501.47" y="674.96" width="1.67" height="11.64" fill="#f1917c"/><rect x="502.99" y="674.96" width="1.67" height="11.64" fill="#f6c7bb"/><rect x="504.51" y="674.96" width="1.67" height="11.64" fill="#f18e78"/><rect x="506.03" y="674.96" width="1.67" height="11.64" fill="#f5bfb2"/><rect x="507.55" y="674.96" width="1.67" height="11.64" fill="#f8dbd3"/><rect x="509.07" y="674.96" width="1.67" height="11.64" fill="#f4b9ab"/><rect x="510.60" y="674.96" width="1.67" height="11.64" fill="#ef826a"/><rect x="512.12" y="674.96" width="1.67" height="11.64" fill="#f1917c"/><rect x="513.64" y="674.96" width="1.67" height="11.64" fill="#f3a694"/><rect x="515.16" y="674.96" width="1.67" height="11.64" fill="#f6c8bc"/><rect x="516.68" y="674.96" width="1.67" height="11.64" fill="#f6cfc5"/><rect x="518.21" y="674.96" width="1.67" height="11.64" fill="#ee7258"/><rect x="519.73" y="674.96" width="1.67" height="11.64" fill="#f29f8c"/><rect x="521.25" y="674.96" width="1.67" height="11.64" fill="#f6cfc5"/><rect x="522.77" y="674.96" width="1.67" height="11.64" fill="#f0f1ec"/><rect x="524.29" y="674.96" width="1.67" height="11.64" fill="#f8e3dc"/><rect x="525.82" y="674.96" width="1.67" height="11.64" fill="#ec5c3e"/><rect x="527.34" y="674.96" width="1.67" height="11.64" fill="#f8ded6"/><rect x="528.86" y="674.96" width="1.67" height="11.64" fill="#f4b6a7"/><rect x="530.38" y="674.96" width="1.67" height="11.64" fill="#f3ac9b"/><rect x="531.90" y="674.96" width="1.67" height="11.64" fill="#f5bcae"/><rect x="533.42" y="674.96" width="1.67" height="11.64" fill="#f5c2b6"/><rect x="534.95" y="674.96" width="1.67" height="11.64" fill="#f9efea"/><rect x="536.47" y="674.96" width="1.67" height="11.64" fill="#f8e4dd"/><rect x="537.99" y="674.96" width="1.67" height="11.64" fill="#ef7b62"/><rect x="539.51" y="674.96" width="1.67" height="11.64" fill="#f8dcd3"/><rect x="541.03" y="674.96" width="1.67" height="11.64" fill="#f29f8c"/><rect x="542.56" y="674.96" width="1.67" height="11.64" fill="#e9eee8"/><rect x="544.08" y="674.96" width="1.67" height="11.64" fill="#f6cec3"/><rect x="545.60" y="674.96" width="1.67" height="11.64" fill="#f5bbad"/><rect x="547.12" y="674.96" width="1.67" height="11.64" fill="#f29e8b"/><rect x="548.64" y="674.96" width="1.67" height="11.64" fill="#faf4f0"/><rect x="550.17" y="674.96" width="1.67" height="11.64" fill="#f4b3a3"/><rect x="551.69" y="674.96" width="1.67" height="11.64" fill="#f5bdaf"/><rect x="553.21" y="674.96" width="1.67" height="11.64" fill="#f9eae4"/><rect x="554.73" y="674.96" width="1.67" height="11.64" fill="#f5bcaf"/><rect x="556.25" y="674.96" width="1.67" height="11.64" fill="#faf4ef"/><rect x="557.77" y="674.96" width="1.67" height="11.64" fill="#faf1ed"/><rect x="559.30" y="674.96" width="1.67" height="11.64" fill="#f7d5cb"/><rect x="560.82" y="674.96" width="1.67" height="11.64" fill="#a1cdbe"/><rect x="562.34" y="674.96" width="1.67" height="11.64" fill="#f8dcd3"/><rect x="563.86" y="674.96" width="1.67" height="11.64" fill="#eef0eb"/><rect x="565.38" y="674.96" width="1.67" height="11.64" fill="#d6e5dd"/><rect x="566.91" y="674.96" width="1.67" height="11.64" fill="#f9ede7"/><rect x="568.43" y="674.96" width="1.67" height="11.64" fill="#f5c0b3"/><rect x="569.95" y="674.96" width="1.67" height="11.64" fill="#f9f0ea"/><rect x="571.47" y="674.96" width="1.67" height="11.64" fill="#f4b0a0"/><rect x="572.99" y="674.96" width="1.67" height="11.64" fill="#dae7e0"/><rect x="574.52" y="674.96" width="1.67" height="11.64" fill="#d1e3da"/><rect x="576.04" y="674.96" width="1.67" height="11.64" fill="#f3aa99"/><rect x="577.56" y="674.96" width="1.67" height="11.64" fill="#f7d9d0"/><rect x="579.08" y="674.96" width="1.67" height="11.64" fill="#f6c5b9"/><rect x="580.60" y="674.96" width="1.67" height="11.64" fill="#e0eae3"/><rect x="582.12" y="674.96" width="1.67" height="11.64" fill="#f6cec3"/><rect x="583.65" y="674.96" width="1.67" height="11.64" fill="#f8e5de"/><rect x="585.17" y="674.96" width="1.67" height="11.64" fill="#f7d7ce"/><rect x="586.69" y="674.96" width="1.67" height="11.64" fill="#faf1ec"/><rect x="588.21" y="674.96" width="1.67" height="11.64" fill="#f6c5b8"/><rect x="589.73" y="674.96" width="1.67" height="11.64" fill="#dce8e1"/><rect x="591.26" y="674.96" width="1.67" height="11.64" fill="#cbe0d7"/><rect x="592.78" y="674.96" width="1.67" height="11.64" fill="#b1d4c8"/><rect x="594.30" y="674.96" width="1.67" height="11.64" fill="#f6cdc2"/><rect x="595.82" y="674.96" width="1.67" height="11.64" fill="#d0e2d9"/><rect x="597.34" y="674.96" width="1.67" height="11.64" fill="#bfdbd0"/><rect x="598.87" y="674.96" width="1.67" height="11.64" fill="#c2dcd2"/><rect x="600.39" y="674.96" width="1.67" height="11.64" fill="#d7e6de"/><rect x="601.91" y="674.96" width="1.67" height="11.64" fill="#aed3c6"/><rect x="603.43" y="674.96" width="1.67" height="11.64" fill="#dbe8e0"/><rect x="604.95" y="674.96" width="1.67" height="11.64" fill="#c9dfd5"/><rect x="606.48" y="674.96" width="1.67" height="11.64" fill="#cae0d6"/><rect x="608.00" y="674.96" width="1.67" height="11.64" fill="#b5d6ca"/><rect x="609.52" y="674.96" width="1.67" height="11.64" fill="#e2ebe4"/><rect x="611.04" y="674.96" width="1.67" height="11.64" fill="#c9dfd5"/><rect x="612.56" y="674.96" width="1.67" height="11.64" fill="#e2ebe4"/><rect x="614.08" y="674.96" width="1.67" height="11.64" fill="#e6ede6"/><rect x="615.61" y="674.96" width="1.67" height="11.64" fill="#e8eee8"/><rect x="617.13" y="674.96" width="1.67" height="11.64" fill="#6fb6a1"/><rect x="618.65" y="674.96" width="1.67" height="11.64" fill="#bbd9cd"/><rect x="620.17" y="674.96" width="1.67" height="11.64" fill="#add2c5"/><rect x="621.69" y="674.96" width="1.67" height="11.64" fill="#f5f3ef"/><rect x="623.22" y="674.96" width="1.67" height="11.64" fill="#84bfad"/><rect x="624.74" y="674.96" width="1.67" height="11.64" fill="#aad1c4"/><rect x="626.26" y="674.96" width="1.67" height="11.64" fill="#bcd9ce"/><rect x="627.78" y="674.96" width="1.67" height="11.64" fill="#b8d8cc"/><rect x="629.30" y="674.96" width="1.67" height="11.64" fill="#f5f4ef"/><rect x="630.83" y="674.96" width="1.67" height="11.64" fill="#afd3c7"/><rect x="632.35" y="674.96" width="1.67" height="11.64" fill="#eff1ec"/><rect x="633.87" y="674.96" width="1.67" height="11.64" fill="#7bbba8"/><rect x="635.39" y="674.96" width="1.67" height="11.64" fill="#69b39e"/><rect x="636.91" y="674.96" width="1.67" height="11.64" fill="#f5f4ef"/><rect x="638.43" y="674.96" width="1.67" height="11.64" fill="#cee2d9"/><rect x="639.96" y="674.96" width="1.67" height="11.64" fill="#cfe2d9"/><rect x="641.48" y="674.96" width="1.67" height="11.64" fill="#bcd9ce"/></g>
<defs><linearGradient id="cb" x1="0" y1="0" x2="0" y2="1"><stop offset="0" stop-color="#e0301e"/><stop offset="0.5" stop-color="#ffffff"/><stop offset="1" stop-color="#1f9978"/></linearGradient></defs>
<rect x="652.2" y="637.4" width="8.6" height="44.2" rx="2" fill="url(#cb)"/>
<text x="651.70" y="627.50" font-size="6.0" text-anchor="start" fill="#111" stroke="#111" stroke-width="0.15" >Genes</text>
<text x="651.70" y="634.00" font-size="6.0" text-anchor="start" fill="#111" stroke="#111" stroke-width="0.15" >expression</text>
<text x="664.00" y="639.10" font-size="4.5" text-anchor="start" fill="#222" stroke="#222" stroke-width="0.15" >1.5</text>
<text x="664.00" y="646.47" font-size="4.5" text-anchor="start" fill="#222" stroke="#222" stroke-width="0.15" >1.0</text>
<text x="664.00" y="653.83" font-size="4.5" text-anchor="start" fill="#222" stroke="#222" stroke-width="0.15" >0.5</text>
<text x="664.00" y="661.20" font-size="4.5" text-anchor="start" fill="#222" stroke="#222" stroke-width="0.15" >0.0</text>
<text x="664.00" y="668.57" font-size="4.5" text-anchor="start" fill="#222" stroke="#222" stroke-width="0.15" >−0.5</text>
<text x="664.00" y="675.93" font-size="4.5" text-anchor="start" fill="#222" stroke="#222" stroke-width="0.15" >−1.0</text>
<text x="664.00" y="683.30" font-size="4.5" text-anchor="start" fill="#222" stroke="#222" stroke-width="0.15" >−1.5</text>
</g>
<g font-family="Liberation Sans, sans-serif">
<text x="0.10" y="717.00" font-size="15.0" text-anchor="start" fill="#000" stroke="#000" stroke-width="0.15" >E</text>
<text x="157.20" y="725.80" font-size="5.35" text-anchor="start" fill="#111" stroke="#111" stroke-width="0.15" >TCGA Train</text>
<rect x="198.4" y="719.0" width="12.7" height="9.7" fill="#d95f02" fill-opacity="0.3"/>
<path d="M199.3 723.9H209.8M204.6 722.0V725.8" stroke="#d95f02" stroke-width="1.2"/>
<text x="215.70" y="725.80" font-size="5.35" text-anchor="start" fill="#111" stroke="#111" stroke-width="0.15" >risk=High_risk</text>
<rect x="265.8" y="719.0" width="12.7" height="9.7" fill="#1b9e77" fill-opacity="0.3"/>
<path d="M266.7 723.9H277.6M272.1 722.0V725.8" stroke="#1b9e77" stroke-width="1.2"/>
<text x="282.90" y="725.80" font-size="5.35" text-anchor="start" fill="#111" stroke="#111" stroke-width="0.15" >risk=Low_risk</text>
<path d="M82.50 744.80L85.10 744.80L85.10 744.93L87.70 744.93L87.70 745.06L90.30 745.06L90.30 745.20L92.90 745.20L92.90 745.33L95.50 745.33L95.50 745.46L96.30 745.46L96.30 745.50L98.10 745.50L98.10 746.59L100.70 746.59L100.70 748.17L102.90 748.17L102.90 749.50L103.30 749.50L103.30 749.65L105.90 749.65L105.90 750.61L108.50 750.61L108.50 751.58L111.10 751.58L111.10 752.55L113.40 752.55L113.40 753.40L113.70 753.40L113.70 753.58L116.30 753.58L116.30 755.17L118.90 755.17L118.90 756.76L121.50 756.76L121.50 758.34L124.10 758.34L124.10 759.93L125.20 759.93L125.20 760.60L126.70 760.60L126.70 762.26L129.30 762.26L129.30 765.13L131.80 765.13L131.80 767.90L131.90 767.90L131.90 767.92L134.50 767.92L134.50 768.57L137.10 768.57L137.10 769.21L139.70 769.21L139.70 769.86L142.30 769.86L142.30 770.50L144.90 770.50L144.90 774.40L147.50 774.40L147.50 775.84L150.10 775.84L150.10 777.27L152.70 777.27L152.70 778.71L154.50 778.71L154.50 779.70L155.30 779.70L155.30 779.87L157.90 779.87L157.90 780.42L160.50 780.42L160.50 780.98L163.10 780.98L163.10 781.53L165.70 781.53L165.70 782.08L168.30 782.08L168.30 782.64L170.90 782.64L170.90 783.19L173.50 783.19L173.50 783.74L174.70 783.74L174.70 784.00L176.10 784.00L176.10 784.80L178.70 784.80L178.70 786.30L181.30 786.30L181.30 787.79L183.90 787.79L183.90 789.28L186.50 789.28L186.50 790.77L186.90 790.77L186.90 791.00L189.10 791.00L189.10 791.55L191.70 791.55L191.70 792.21L194.30 792.21L194.30 792.86L196.90 792.86L196.90 793.51L199.50 793.51L199.50 794.16L202.10 794.16L202.10 794.82L204.70 794.82L204.70 795.47L207.30 795.47L207.30 796.12L208.00 796.12L208.00 796.30L209.90 796.30L209.90 796.30L212.50 796.30L212.50 796.30L215.10 796.30L215.10 796.30L217.70 796.30L217.70 796.30L220.30 796.30L220.30 796.30L222.90 796.30L222.90 796.30L225.50 796.30L225.50 796.30L228.10 796.30L228.10 796.30L230.70 796.30L230.70 796.30L233.30 796.30L233.30 796.30L235.90 796.30L235.90 796.30L238.50 796.30L238.50 796.30L241.10 796.30L241.10 796.30L243.70 796.30L243.70 796.30L246.30 796.30L246.30 796.30L248.90 796.30L248.90 796.30L251.50 796.30L251.50 796.30L254.10 796.30L254.10 796.30L256.70 796.30L256.70 796.30L259.30 796.30L259.30 796.30L261.90 796.30L261.90 796.30L264.50 796.30L264.50 796.30L267.10 796.30L267.10 796.30L269.70 796.30L269.70 796.30L272.30 796.30L272.30 796.30L274.90 796.30L274.90 796.30L277.50 796.30L277.50 796.30L280.10 796.30L280.10 796.30L282.70 796.30L282.70 796.30L285.30 796.30L285.30 796.30L287.90 796.30L287.90 796.30L290.50 796.30L290.50 796.30L293.10 796.30L293.10 796.30L295.70 796.30L295.70 796.30L298.30 796.30L298.30 796.30L300.90 796.30L300.90 796.30L303.50 796.30L303.50 796.30L306.10 796.30L306.10 796.30L308.70 796.30L308.70 796.30L311.30 796.30L311.30 796.30L313.90 796.30L313.90 796.30L316.50 796.30L316.50 796.30L319.10 796.30L319.10 796.30L321.70 796.30L321.70 796.30L324.30 796.30L324.30 796.30L326.90 796.30L326.90 796.30L329.50 796.30L329.50 796.30L332.10 796.30L332.10 796.30L334.70 796.30L334.70 796.30L337.30 796.30L337.30 796.30L339.90 796.30L339.90 796.30L342.50 796.30L342.50 796.30L345.10 796.30L345.10 796.30L347.70 796.30L347.70 796.30L349.30 796.30L349.30 796.30L349.30 835.70L349.30 835.70L347.70 835.70L347.70 835.70L345.10 835.70L345.10 835.70L342.50 835.70L342.50 835.70L339.90 835.70L339.90 835.70L337.30 835.70L337.30 835.70L334.70 835.70L334.70 835.70L332.10 835.70L332.10 835.70L329.50 835.70L329.50 835.70L326.90 835.70L326.90 835.70L324.30 835.70L324.30 835.70L321.70 835.70L321.70 835.70L319.10 835.70L319.10 835.70L316.50 835.70L316.50 835.70L313.90 835.70L313.90 835.70L311.30 835.70L311.30 835.70L308.70 835.70L308.70 835.70L306.10 835.70L306.10 835.70L303.50 835.70L303.50 835.70L300.90 835.70L300.90 835.70L298.30 835.70L298.30 835.70L295.70 835.70L295.70 835.70L293.10 835.70L293.10 835.70L290.50 835.70L290.50 835.70L287.90 835.70L287.90 835.70L285.30 835.70L285.30 835.70L282.70 835.70L282.70 835.70L280.10 835.70L280.10 835.70L277.50 835.70L277.50 835.70L274.90 835.70L274.90 835.70L272.30 835.70L272.30 835.70L269.70 835.70L269.70 835.70L267.10 835.70L267.10 835.70L264.50 835.70L264.50 835.70L261.90 835.70L261.90 835.70L259.30 835.70L259.30 835.70L256.70 835.70L256.70 835.70L254.10 835.70L254.10 835.70L251.50 835.70L251.50 835.70L248.90 835.70L248.90 835.70L246.30 835.70L246.30 835.70L243.70 835.70L243.70 835.70L241.10 835.70L241.10 835.70L238.50 835.70L238.50 835.70L235.90 835.70L235.90 835.70L233.30 835.70L233.30 835.70L230.70 835.70L230.70 835.70L228.10 835.70L228.10 835.70L225.50 835.70L225.50 835.70L222.90 835.70L222.90 835.70L220.30 835.70L220.30 835.70L217.70 835.70L217.70 835.70L215.80 835.70L215.80 835.09L215.10 835.09L215.10 832.82L212.50 832.82L212.50 830.56L209.90 830.56L209.90 829.60L208.80 829.60L208.80 829.14L207.30 829.14L207.30 828.34L204.70 828.34L204.70 827.53L202.10 827.53L202.10 826.73L199.50 826.73L199.50 825.93L196.90 825.93L196.90 825.13L194.30 825.13L194.30 824.33L191.70 824.33L191.70 823.52L189.10 823.52L189.10 823.40L188.70 823.40L188.70 812.00L186.90 812.00L186.90 811.93L186.50 811.93L186.50 811.47L183.90 811.47L183.90 811.01L181.30 811.01L181.30 810.56L178.70 810.56L178.70 810.10L176.10 810.10L176.10 809.64L173.50 809.64L173.50 809.18L170.90 809.18L170.90 808.73L168.30 808.73L168.30 808.27L165.70 808.27L165.70 807.81L163.10 807.81L163.10 807.35L160.50 807.35L160.50 806.90L157.90 806.90L157.90 806.44L155.30 806.44L155.30 806.00L152.80 806.00L152.80 805.86L152.70 805.86L152.70 802.13L150.10 802.13L150.10 798.40L147.50 798.40L147.50 794.67L144.90 794.67L144.90 792.80L143.60 792.80L143.60 791.52L142.30 791.52L142.30 788.97L139.70 788.97L139.70 787.60L138.30 787.60L138.30 786.60L137.10 786.60L137.10 784.43L134.50 784.43L134.50 782.25L131.90 782.25L131.90 781.00L130.40 781.00L130.40 780.25L129.30 780.25L129.30 778.49L126.70 778.49L126.70 776.72L124.10 776.72L124.10 775.70L122.60 775.70L122.60 774.62L121.50 774.62L121.50 772.06L118.90 772.06L118.90 769.50L116.30 769.50L116.30 769.20L116.00 769.20L116.00 766.90L113.70 766.90L113.70 764.30L111.10 764.30L111.10 761.70L108.50 761.70L108.50 760.00L106.80 760.00L106.80 759.43L105.90 759.43L105.90 757.80L103.30 757.80L103.30 756.17L100.70 756.17L100.70 754.53L98.10 754.53L98.10 753.40L96.30 753.40L96.30 752.97L95.50 752.97L95.50 751.58L92.90 751.58L92.90 750.18L90.30 750.18L90.30 748.79L87.70 748.79L87.70 747.39L85.10 747.39L85.10 746.00L82.50 746.00Z" fill="#1b9e77" fill-opacity="0.3"/>
<path d="M82.50 745.20L85.10 745.20L85.10 747.12L87.70 747.12L87.70 749.04L90.30 749.04L90.30 750.97L92.90 750.97L92.90 752.89L95.50 752.89L95.50 754.81L96.30 754.81L96.30 755.40L98.10 755.40L98.10 756.55L100.70 756.55L100.70 758.22L103.30 758.22L103.30 759.89L105.50 759.89L105.50 761.30L105.90 761.30L105.90 761.61L108.50 761.61L108.50 763.64L111.10 763.64L111.10 765.67L113.70 765.67L113.70 767.69L116.30 767.69L116.30 769.72L117.30 769.72L117.30 770.50L118.90 770.50L118.90 771.63L121.50 771.63L121.50 773.47L124.10 773.47L124.10 775.30L126.50 775.30L126.50 777.00L126.70 777.00L126.70 777.20L129.30 777.20L129.30 779.80L131.80 779.80L131.80 782.30L131.90 782.30L131.90 782.39L134.50 782.39L134.50 784.77L137.10 784.77L137.10 787.15L139.70 787.15L139.70 789.52L142.30 789.52L142.30 791.90L144.90 791.90L144.90 792.20L147.50 792.20L147.50 792.51L150.10 792.51L150.10 792.81L152.70 792.81L152.70 793.11L155.30 793.11L155.30 793.41L157.90 793.41L157.90 793.72L160.50 793.72L160.50 794.02L163.10 794.02L163.10 794.32L165.70 794.32L165.70 794.63L168.30 794.63L168.30 794.93L170.90 794.93L170.90 795.23L173.50 795.23L173.50 795.53L176.10 795.53L176.10 795.84L178.70 795.84L178.70 796.14L181.30 796.14L181.30 796.44L183.90 796.44L183.90 796.75L186.50 796.75L186.50 797.05L187.80 797.05L187.80 797.20L189.10 797.20L189.10 797.20L191.70 797.20L191.70 797.20L194.30 797.20L194.30 797.20L196.90 797.20L196.90 797.20L199.50 797.20L199.50 797.20L202.10 797.20L202.10 797.20L204.70 797.20L204.70 797.20L207.30 797.20L207.30 797.20L209.90 797.20L209.90 797.20L212.50 797.20L212.50 797.20L215.10 797.20L215.10 797.20L217.70 797.20L217.70 797.20L220.30 797.20L220.30 797.20L222.90 797.20L222.90 797.20L225.50 797.20L225.50 797.20L228.10 797.20L228.10 797.20L230.70 797.20L230.70 797.20L233.30 797.20L233.30 797.20L235.90 797.20L235.90 797.20L238.50 797.20L238.50 797.20L241.10 797.20L241.10 797.20L243.70 797.20L243.70 797.20L246.30 797.20L246.30 797.20L248.90 797.20L248.90 797.20L251.50 797.20L251.50 797.20L254.10 797.20L254.10 797.20L256.70 797.20L256.70 797.20L259.30 797.20L259.30 797.20L261.90 797.20L261.90 797.20L264.50 797.20L264.50 797.20L267.10 797.20L267.10 797.20L269.70 797.20L269.70 797.20L272.30 797.20L272.30 797.20L274.90 797.20L274.90 797.20L277.50 797.20L277.50 797.20L280.10 797.20L280.10 797.20L282.70 797.20L282.70 797.20L285.30 797.20L285.30 797.20L287.90 797.20L287.90 797.20L290.50 797.20L290.50 797.20L293.10 797.20L293.10 797.20L295.70 797.20L295.70 797.20L298.30 797.20L298.30 797.20L300.90 797.20L300.90 797.20L303.50 797.20L303.50 797.20L306.10 797.20L306.10 797.20L308.70 797.20L308.70 797.20L311.30 797.20L311.30 797.20L313.90 797.20L313.90 797.20L316.50 797.20L316.50 797.20L319.10 797.20L319.10 797.20L321.70 797.20L321.70 797.20L324.30 797.20L324.30 797.20L326.90 797.20L326.90 797.20L329.50 797.20L329.50 797.20L332.10 797.20L332.10 797.20L334.70 797.20L334.70 797.20L337.30 797.20L337.30 797.20L339.90 797.20L339.90 797.20L342.50 797.20L342.50 797.20L345.10 797.20L345.10 797.20L347.70 797.20L347.70 797.20L350.30 797.20L350.30 797.20L352.90 797.20L352.90 797.20L355.50 797.20L355.50 797.20L358.10 797.20L358.10 797.20L360.70 797.20L360.70 797.20L363.30 797.20L363.30 797.20L365.90 797.20L365.90 797.20L368.50 797.20L368.50 797.20L370.20 797.20L370.20 797.20L370.20 823.40L370.20 823.40L368.50 823.40L368.50 823.40L365.90 823.40L365.90 823.40L363.30 823.40L363.30 823.40L360.70 823.40L360.70 823.40L358.10 823.40L358.10 823.40L355.50 823.40L355.50 823.40L352.90 823.40L352.90 823.40L350.30 823.40L350.30 823.40L347.70 823.40L347.70 823.40L345.10 823.40L345.10 823.40L342.50 823.40L342.50 823.40L339.90 823.40L339.90 823.40L337.30 823.40L337.30 823.40L334.70 823.40L334.70 823.40L332.10 823.40L332.10 823.40L329.50 823.40L329.50 823.40L326.90 823.40L326.90 823.40L324.30 823.40L324.30 823.40L321.70 823.40L321.70 823.40L319.10 823.40L319.10 823.40L316.50 823.40L316.50 823.40L313.90 823.40L313.90 823.40L311.30 823.40L311.30 823.40L308.70 823.40L308.70 823.40L306.10 823.40L306.10 823.40L303.50 823.40L303.50 823.40L300.90 823.40L300.90 823.40L298.30 823.40L298.30 823.40L295.70 823.40L295.70 823.40L293.10 823.40L293.10 823.40L290.50 823.40L290.50 823.40L287.90 823.40L287.90 823.40L285.30 823.40L285.30 823.40L282.70 823.40L282.70 823.40L280.10 823.40L280.10 823.40L277.50 823.40L277.50 823.40L274.90 823.40L274.90 823.40L272.30 823.40L272.30 823.40L269.70 823.40L269.70 823.40L267.10 823.40L267.10 823.40L264.50 823.40L264.50 823.40L261.90 823.40L261.90 823.40L259.30 823.40L259.30 823.40L256.70 823.40L256.70 823.40L254.10 823.40L254.10 823.40L251.50 823.40L251.50 823.40L248.90 823.40L248.90 823.40L246.30 823.40L246.30 823.40L243.70 823.40L243.70 823.40L241.10 823.40L241.10 823.40L238.50 823.40L238.50 823.40L235.90 823.40L235.90 823.40L233.30 823.40L233.30 823.40L230.70 823.40L230.70 823.40L228.10 823.40L228.10 823.40L225.50 823.40L225.50 823.40L222.90 823.40L222.90 823.40L220.30 823.40L220.30 823.40L217.70 823.40L217.70 823.40L215.10 823.40L215.10 823.40L212.50 823.40L212.50 823.40L209.90 823.40L209.90 823.40L207.30 823.40L207.30 823.40L204.70 823.40L204.70 823.40L202.10 823.40L202.10 823.40L199.50 823.40L199.50 823.40L196.90 823.40L196.90 823.40L194.30 823.40L194.30 823.40L191.70 823.40L191.70 823.40L189.10 823.40L189.10 823.40L186.50 823.40L186.50 823.40L183.90 823.40L183.90 823.40L181.30 823.40L181.30 823.40L178.70 823.40L178.70 823.40L178.20 823.40L178.20 822.79L176.10 822.79L176.10 822.04L173.50 822.04L173.50 821.29L170.90 821.29L170.90 820.54L168.30 820.54L168.30 819.79L165.70 819.79L165.70 819.10L163.30 819.10L163.30 819.06L163.10 819.06L163.10 818.58L160.50 818.58L160.50 818.10L157.90 818.10L157.90 817.61L155.30 817.61L155.30 817.13L152.70 817.13L152.70 816.65L150.10 816.65L150.10 816.17L147.50 816.17L147.50 815.68L144.90 815.68L144.90 815.20L142.30 815.20L142.30 810.37L139.70 810.37L139.70 805.53L137.10 805.53L137.10 800.70L134.50 800.70L134.50 798.10L133.10 798.10L133.10 797.07L131.90 797.07L131.90 794.84L129.30 794.84L129.30 792.60L126.70 792.60L126.70 790.37L124.10 790.37L124.10 790.20L123.90 790.20L123.90 787.50L121.50 787.50L121.50 784.58L118.90 784.58L118.90 781.66L116.30 781.66L116.30 778.74L113.70 778.74L113.70 778.40L113.40 778.40L113.40 775.79L111.10 775.79L111.10 772.85L108.50 772.85L108.50 769.90L105.90 769.90L105.90 766.95L103.30 766.95L103.30 766.50L102.90 766.50L102.90 764.32L100.70 764.32L100.70 761.75L98.10 761.75L98.10 759.17L95.50 759.17L95.50 756.59L92.90 756.59L92.90 756.00L92.30 756.00L92.30 753.96L90.30 753.96L90.30 751.31L87.70 751.31L87.70 748.65L85.10 748.65L85.10 746.00L82.50 746.00Z" fill="#d95f02" fill-opacity="0.3"/>
<path d="M82.50 745.20H84.70V745.90H86.90V746.61H89.10V747.31H89.70V747.50H91.30V748.30H93.50V749.40H95.70V750.50H97.90V751.60H100.10V752.70H102.30V753.80H102.90V754.10H104.50V754.89H106.70V755.98H108.90V757.07H111.10V758.16H113.30V759.25H113.40V759.30H115.50V761.10H117.70V762.99H119.90V764.88H122.10V766.77H122.60V767.20H124.30V768.77H126.50V770.80H128.70V772.83H130.40V774.40H130.90V776.51H131.80V780.30H133.10V780.48H135.30V780.79H137.50V781.11H139.70V781.42H141.00V781.60H141.90V782.52H144.10V784.76H146.20V786.90H146.30V786.95H148.50V788.05H150.70V789.15H152.80V790.20H152.90V795.40H155.10V795.40H157.30V795.40H159.50V795.40H161.70V795.40H163.90V795.40H166.10V795.40H168.30V795.40H170.50V795.40H172.70V795.40H174.70V795.40H174.80V797.70H174.90V797.70H177.10V797.70H179.30V797.70H181.50V797.70H183.70V797.70H185.90V797.70H186.40V797.70H188.10V804.43H188.70V806.80H188.80V811.20H190.30V811.20H192.50V811.20H194.70V811.20H196.90V811.20H199.10V811.20H201.30V811.20H203.50V811.20H205.70V811.20H207.90V811.20H208.00V811.20H208.10V815.90H210.10V815.90H212.30V815.90H214.50V815.90H215.80V815.90H215.90V822.60H216.70V822.60H218.90V822.60H221.10V822.60H223.30V822.60H225.50V822.60H227.70V822.60H229.90V822.60H232.10V822.60H234.30V822.60H236.50V822.60H238.70V822.60H240.90V822.60H243.10V822.60H245.30V822.60H247.50V822.60H249.70V822.60H251.90V822.60H254.10V822.60H256.30V822.60H258.50V822.60H260.70V822.60H262.90V822.60H265.10V822.60H267.30V822.60H269.50V822.60H271.70V822.60H273.90V822.60H276.10V822.60H278.30V822.60H280.50V822.60H282.70V822.60H284.90V822.60H287.10V822.60H289.30V822.60H291.50V822.60H293.70V822.60H295.90V822.60H298.10V822.60H300.30V822.60H302.50V822.60H304.70V822.60H306.90V822.60H309.10V822.60H311.30V822.60H313.50V822.60H315.70V822.60H317.90V822.60H320.10V822.60H322.30V822.60H324.50V822.60H326.70V822.60H328.90V822.60H331.10V822.60H333.30V822.60H335.50V822.60H337.70V822.60H339.90V822.60H342.10V822.60H344.30V822.60H346.50V822.60H348.70V822.60H349.30V822.60" fill="none" stroke="#1b9e77" stroke-width="1.6"/>
<path d="M82.50 745.20H84.70V746.80H86.90V748.41H88.40V749.50H89.10V750.25H91.30V752.62H93.50V754.99H95.70V757.35H96.30V758.00H97.90V759.72H100.10V762.09H102.30V764.46H104.50V766.82H105.50V767.90H106.70V768.94H108.90V770.85H111.10V772.75H113.30V774.66H115.50V776.57H116.00V777.00H117.70V778.70H119.90V780.90H122.10V783.10H124.30V785.30H125.20V786.20H126.50V786.99H128.70V788.32H130.90V789.65H131.80V790.20H133.10V791.52H135.30V793.75H137.50V795.99H138.30V796.80H139.70V799.98H141.90V804.99H142.30V805.90H144.10V805.90H146.30V805.90H148.50V805.90H150.70V805.90H152.90V805.90H155.10V805.90H157.30V805.90H159.50V805.90H161.70V805.90H163.30V805.90H163.40V808.50H163.90V808.50H166.10V808.50H168.30V808.50H170.50V808.50H172.70V808.50H174.90V808.50H177.10V808.50H177.30V808.50H177.40V812.40H179.30V812.40H181.50V812.40H183.70V812.40H185.90V812.40H188.10V812.40H190.30V812.40H192.50V812.40H194.70V812.40H196.90V812.40H199.10V812.40H201.30V812.40H203.50V812.40H205.70V812.40H207.90V812.40H210.10V812.40H212.30V812.40H214.50V812.40H216.70V812.40H218.90V812.40H221.10V812.40H223.30V812.40H225.50V812.40H227.70V812.40H229.90V812.40H232.10V812.40H234.30V812.40H236.50V812.40H238.70V812.40H240.90V812.40H243.10V812.40H245.30V812.40H247.50V812.40H249.70V812.40H251.90V812.40H254.10V812.40H256.30V812.40H258.50V812.40H260.70V812.40H262.90V812.40H265.10V812.40H267.30V812.40H269.50V812.40H271.70V812.40H273.90V812.40H276.10V812.40H278.30V812.40H280.50V812.40H282.70V812.40H284.90V812.40H287.10V812.40H289.30V812.40H291.50V812.40H293.70V812.40H295.90V812.40H298.10V812.40H300.30V812.40H302.50V812.40H304.70V812.40H306.90V812.40H309.10V812.40H311.30V812.40H313.50V812.40H315.70V812.40H317.90V812.40H320.10V812.40H322.30V812.40H324.50V812.40H326.70V812.40H328.90V812.40H331.10V812.40H333.30V812.40H335.50V812.40H337.70V812.40H339.90V812.40H342.10V812.40H344.30V812.40H346.50V812.40H348.70V812.40H350.90V812.40H353.10V812.40H355.30V812.40H357.50V812.40H359.70V812.40H361.90V812.40H364.10V812.40H366.30V812.40H368.50V812.40H370.20V812.40" fill="none" stroke="#d95f02" stroke-width="1.6"/>
<path d="M114.95 758.93V762.33M121.83 764.83V768.23M145.15 784.13V787.53M115.80 759.66V763.06M118.50 761.98V765.38M123.59 766.42V769.82M97.82 749.86V753.26M118.76 762.20V765.60M126.31 768.93V772.33M136.75 779.30V782.70M92.02 746.96V750.36M105.42 753.65V757.05M91.80 746.85V750.25M137.82 779.45V782.85M130.38 772.68V776.08M88.68 745.47V748.87M148.86 786.53V789.93M147.74 785.97V789.37M127.85 770.35V773.75M125.40 768.08V771.48M96.08 748.99V752.39M86.96 744.92V748.32M119.82 763.11V766.51M89.81 745.86V749.26M98.17 750.04V753.44M101.48 751.69V755.09" stroke="#1b9e77" stroke-width="0.8"/>
<path d="M87.93 747.45V750.85M115.69 775.03V778.43M114.19 773.73V777.13M139.92 798.77V802.17M119.22 778.52V781.92M126.98 785.58V788.98M117.99 777.29V780.69M128.40 786.44V789.84M115.27 774.67V778.07M103.80 764.37V767.77M149.85 804.20V807.60M149.72 804.20V807.60M139.77 798.45V801.85M131.30 788.20V791.60M106.18 766.79V770.19M100.70 761.03V764.43M104.50 765.12V768.52M90.49 750.05V753.45M135.04 791.79V795.19M111.63 771.51V774.91M140.18 799.38V802.78M110.74 770.74V774.14M147.31 804.20V807.60M140.23 799.49V802.89M86.03 746.08V749.48M99.42 759.66V763.06" stroke="#d95f02" stroke-width="0.8"/>
<path d="M227.30 820.80V824.40M270.60 820.80V824.40M348.40 820.80V824.40M141.00 779.80V783.40M160.00 793.60V797.20M168.00 793.60V797.20M182.00 795.90V799.50M120.00 763.20V766.80M110.00 755.70V759.30" stroke="#1b9e77" stroke-width="0.9"/>
<path d="M211.20 810.60V814.20M231.10 810.60V814.20M362.20 810.60V814.20M369.60 810.60V814.20M148.00 804.10V807.70M156.00 804.10V807.70M168.00 806.70V810.30M172.00 806.70V810.30M186.00 810.60V814.20M200.00 810.60V814.20" stroke="#d95f02" stroke-width="0.9"/>
<path d="M67.4 739.9V854.0H414.5" stroke="#333" stroke-width="1.2" fill="none"/>
<line x1="64.9" y1="849.40" x2="67.4" y2="849.40" stroke="#333" stroke-width="0.8"/>
<text x="59.90" y="852.00" font-size="7.4" text-anchor="end" fill="#222" stroke="#222" stroke-width="0.15" >0.00</text>
<line x1="64.9" y1="823.38" x2="67.4" y2="823.38" stroke="#333" stroke-width="0.8"/>
<text x="59.90" y="825.98" font-size="7.4" text-anchor="end" fill="#222" stroke="#222" stroke-width="0.15" >0.25</text>
<line x1="64.9" y1="797.35" x2="67.4" y2="797.35" stroke="#333" stroke-width="0.8"/>
<text x="59.90" y="799.95" font-size="7.4" text-anchor="end" fill="#222" stroke="#222" stroke-width="0.15" >0.50</text>
<line x1="64.9" y1="771.33" x2="67.4" y2="771.33" stroke="#333" stroke-width="0.8"/>
<text x="59.90" y="773.93" font-size="7.4" text-anchor="end" fill="#222" stroke="#222" stroke-width="0.15" >0.75</text>
<line x1="64.9" y1="745.30" x2="67.4" y2="745.30" stroke="#333" stroke-width="0.8"/>
<text x="59.90" y="747.90" font-size="7.4" text-anchor="end" fill="#222" stroke="#222" stroke-width="0.15" >1.00</text>
<line x1="82.20" y1="853.6" x2="82.20" y2="856.1" stroke="#333" stroke-width="0.8"/>
<text x="82.20" y="862.90" font-size="7.4" text-anchor="middle" fill="#222" stroke="#222" stroke-width="0.15" >0</text>
<line x1="160.88" y1="853.6" x2="160.88" y2="856.1" stroke="#333" stroke-width="0.8"/>
<text x="160.88" y="862.90" font-size="7.4" text-anchor="middle" fill="#222" stroke="#222" stroke-width="0.15" >2000</text>
<line x1="239.56" y1="853.6" x2="239.56" y2="856.1" stroke="#333" stroke-width="0.8"/>
<text x="239.56" y="862.90" font-size="7.4" text-anchor="middle" fill="#222" stroke="#222" stroke-width="0.15" >4000</text>
<line x1="318.24" y1="853.6" x2="318.24" y2="856.1" stroke="#333" stroke-width="0.8"/>
<text x="318.24" y="862.90" font-size="7.4" text-anchor="middle" fill="#222" stroke="#222" stroke-width="0.15" >6000</text>
<line x1="396.92" y1="853.6" x2="396.92" y2="856.1" stroke="#333" stroke-width="0.8"/>
<text x="396.92" y="862.90" font-size="7.4" text-anchor="middle" fill="#222" stroke="#222" stroke-width="0.15" >8000</text>
<text x="236.20" y="871.80" font-size="8.4" text-anchor="middle" fill="#111" stroke="#111" stroke-width="0.15" >Time (day)</text>
<text transform="translate(38.9 787.2) rotate(-90) scale(1 0.86)" font-size="11.0" text-anchor="middle" fill="#111">Survival probability</text>
<text x="88.90" y="831.50" font-size="8.6" text-anchor="start" fill="#111" stroke="#111" stroke-width="0.15" >p = 0.012</text>
<text transform="translate(40.9 896.8) rotate(-90) scale(1 0.95)" font-size="10.4" text-anchor="middle" fill="#111">TCGA Train</text>
<text x="108.80" y="889.10" font-size="9.8" text-anchor="start" fill="#111" stroke="#111" stroke-width="0.15" >Number at risk</text>
<text x="92.00" y="900.80" font-size="7.5" text-anchor="end" fill="#d95f02" stroke="#d95f02" stroke-width="0.15" >risk=High_risk</text>
<text x="92.00" y="907.50" font-size="7.5" text-anchor="end" fill="#1b9e77" stroke="#1b9e77" stroke-width="0.15" >risk=Low_risk</text>
<path d="M108.2 895.3V909.9H415.2" stroke="#444" stroke-width="1.4" fill="none"/>
<path d="M105.8 898.4H108.2M105.8 905.4H108.2" stroke="#333" stroke-width="0.8"/>
<text x="121.70" y="901.60" font-size="7.6" text-anchor="middle" fill="#111" stroke="#111" stroke-width="0.15" >180</text>
<text x="121.70" y="908.40" font-size="7.6" text-anchor="middle" fill="#111" stroke="#111" stroke-width="0.15" >180</text>
<line x1="121.70" y1="909.8" x2="121.70" y2="912.2" stroke="#333" stroke-width="0.8"/>
<text x="121.70" y="918.40" font-size="7.0" text-anchor="middle" fill="#111" stroke="#111" stroke-width="0.15" >0</text>
<text x="191.06" y="901.60" font-size="7.6" text-anchor="middle" fill="#111" stroke="#111" stroke-width="0.15" >15</text>
<text x="191.06" y="908.40" font-size="7.6" text-anchor="middle" fill="#111" stroke="#111" stroke-width="0.15" >22</text>
<line x1="191.06" y1="909.8" x2="191.06" y2="912.2" stroke="#333" stroke-width="0.8"/>
<text x="191.06" y="918.40" font-size="7.0" text-anchor="middle" fill="#111" stroke="#111" stroke-width="0.15" >2000</text>
<text x="260.42" y="901.60" font-size="7.6" text-anchor="middle" fill="#111" stroke="#111" stroke-width="0.15" >2</text>
<text x="260.42" y="908.40" font-size="7.6" text-anchor="middle" fill="#111" stroke="#111" stroke-width="0.15" >2</text>
<line x1="260.42" y1="909.8" x2="260.42" y2="912.2" stroke="#333" stroke-width="0.8"/>
<text x="260.42" y="918.40" font-size="7.0" text-anchor="middle" fill="#111" stroke="#111" stroke-width="0.15" >4000</text>
<text x="329.78" y="901.60" font-size="7.6" text-anchor="middle" fill="#111" stroke="#111" stroke-width="0.15" >2</text>
<text x="329.78" y="908.40" font-size="7.6" text-anchor="middle" fill="#111" stroke="#111" stroke-width="0.15" >1</text>
<line x1="329.78" y1="909.8" x2="329.78" y2="912.2" stroke="#333" stroke-width="0.8"/>
<text x="329.78" y="918.40" font-size="7.0" text-anchor="middle" fill="#111" stroke="#111" stroke-width="0.15" >6000</text>
<text x="399.14" y="901.60" font-size="7.6" text-anchor="middle" fill="#111" stroke="#111" stroke-width="0.15" >0</text>
<text x="399.14" y="908.40" font-size="7.6" text-anchor="middle" fill="#111" stroke="#111" stroke-width="0.15" >0</text>
<line x1="399.14" y1="909.8" x2="399.14" y2="912.2" stroke="#333" stroke-width="0.8"/>
<text x="399.14" y="918.40" font-size="7.0" text-anchor="middle" fill="#111" stroke="#111" stroke-width="0.15" >8000</text>
<text x="256.70" y="928.10" font-size="8.4" text-anchor="middle" fill="#111" stroke="#111" stroke-width="0.15" >Time (day)</text>
</g>
<g font-family="Liberation Sans, sans-serif">
<text x="452.60" y="717.00" font-size="15.0" text-anchor="start" fill="#000" stroke="#000" stroke-width="0.15" >F</text>
<text x="579.50" y="710.40" font-size="7.0" text-anchor="middle" fill="#111" stroke="#111" stroke-width="0.15" font-weight="bold" >SurvivalROC for Training Set</text>
<clipPath id="fclip"><rect x="484.0" y="722.6" width="191.39999999999998" height="187.60000000000002"/></clipPath>
<g clip-path="url(#fclip)">
<line x1="482.07" y1="911.00" x2="676.23" y2="737.20" stroke="#bbb" stroke-width="0.8" stroke-dasharray="1 2"/>
<path d="M490.80 884.90L491.60 856.10L493.30 856.10L493.30 843.40L502.60 843.40L502.60 835.00L504.30 835.00L504.30 829.90L509.00 829.90L509.00 821.00L514.50 821.00L514.50 813.80L518.00 813.80L518.00 807.00L523.00 807.00L523.00 800.30L529.70 800.30L529.70 795.20L536.50 795.20L536.50 790.00L542.40 790.00L542.40 786.70L548.40 786.70L548.40 785.00L563.60 785.00L563.60 783.30L572.00 783.30L572.00 776.00L578.00 776.00L578.00 771.00L583.70 771.00L583.70 764.30L590.50 764.30L590.50 752.40L594.70 752.40L594.70 746.50L604.90 746.50L604.90 742.30L631.10 742.30L631.10 741.40L641.30 741.40L641.30 737.20L661.60 737.20L661.60 728.70L668.40 728.70L668.40 756.70L661.60 756.70L661.60 765.20L641.30 765.20L641.30 769.40L631.10 769.40L631.10 770.30L604.90 770.30L604.90 774.50L594.70 774.50L594.70 780.40L590.50 780.40L590.50 792.30L583.70 792.30L583.70 799.00L578.00 799.00L578.00 804.00L572.00 804.00L572.00 811.30L563.60 811.30L563.60 813.00L548.40 813.00L548.40 814.70L542.40 814.70L542.40 818.00L536.50 818.00L536.50 823.20L529.70 823.20L529.70 828.30L523.00 828.30L523.00 835.00L518.00 835.00L518.00 841.80L514.50 841.80L514.50 849.00L509.00 849.00L509.00 857.90L504.30 857.90L504.30 863.00L502.60 863.00L502.60 871.40L493.30 871.40L493.30 884.10L491.60 884.10L490.80 912.90Z" fill="#f26b3a" fill-opacity="0.22"/>
<path d="M490.80 886.90L494.50 886.90L494.50 859.23L498.20 859.23L498.20 855.39L501.90 855.39L501.90 848.97L505.60 848.97L505.60 835.13L509.30 835.13L509.30 829.61L513.00 829.61L513.00 826.19L516.70 826.19L516.70 819.30L520.40 819.30L520.40 812.80L524.10 812.80L524.10 808.65L527.80 808.65L527.80 806.75L531.50 806.75L531.50 803.58L535.20 803.58L535.20 800.92L538.90 800.92L538.90 796.56L542.60 796.56L542.60 794.51L546.30 794.51L546.30 793.94L550.00 793.94L550.00 792.89L553.70 792.89L553.70 791.94L557.40 791.94L557.40 791.94L561.10 791.94L561.10 790.80L564.80 790.80L564.80 789.48L568.50 789.48L568.50 789.48L572.20 789.48L572.20 780.28L575.90 780.28L575.90 778.04L579.60 778.04L579.60 773.99L583.30 773.99L583.30 773.99L587.00 773.99L587.00 769.83L590.70 769.83L590.70 762.46L594.40 762.46L594.40 762.46L598.10 762.46L598.10 758.80L601.80 758.80L601.80 758.80L605.50 758.80L605.50 751.37L609.20 751.37L609.20 751.37L612.90 751.37L612.90 750.08L616.60 750.08L616.60 750.08L620.30 750.08L620.30 750.08L624.00 750.08L624.00 748.78L627.70 748.78L627.70 748.78L631.40 748.78L631.40 746.63L635.10 746.63L635.10 746.63L638.80 746.63L638.80 746.63L642.50 746.63L642.50 741.78L646.20 741.78L646.20 741.78L649.90 741.78L649.90 739.20L653.60 739.20L653.60 739.20L657.30 739.20L657.30 739.20L661.00 739.20L661.00 739.20L664.70 739.20L664.70 731.04L668.40 731.04L668.40 730.70L668.40 730.70L668.40 756.70L668.40 756.70L668.40 757.04L664.70 757.04L664.70 765.20L661.00 765.20L661.00 765.20L657.30 765.20L657.30 765.20L653.60 765.20L653.60 765.20L649.90 765.20L649.90 767.78L646.20 767.78L646.20 767.78L642.50 767.78L642.50 772.63L638.80 772.63L638.80 772.63L635.10 772.63L635.10 772.63L631.40 772.63L631.40 774.78L627.70 774.78L627.70 774.78L624.00 774.78L624.00 776.08L620.30 776.08L620.30 776.08L616.60 776.08L616.60 776.08L612.90 776.08L612.90 777.37L609.20 777.37L609.20 777.37L605.50 777.37L605.50 784.80L601.80 784.80L601.80 784.80L598.10 784.80L598.10 788.46L594.40 788.46L594.40 788.46L590.70 788.46L590.70 795.83L587.00 795.83L587.00 799.99L583.30 799.99L583.30 799.99L579.60 799.99L579.60 804.04L575.90 804.04L575.90 806.28L572.20 806.28L572.20 815.48L568.50 815.48L568.50 815.48L564.80 815.48L564.80 816.80L561.10 816.80L561.10 817.94L557.40 817.94L557.40 817.94L553.70 817.94L553.70 818.89L550.00 818.89L550.00 819.94L546.30 819.94L546.30 820.51L542.60 820.51L542.60 822.56L538.90 822.56L538.90 826.92L535.20 826.92L535.20 829.58L531.50 829.58L531.50 832.75L527.80 832.75L527.80 834.65L524.10 834.65L524.10 838.80L520.40 838.80L520.40 845.30L516.70 845.30L516.70 852.19L513.00 852.19L513.00 855.61L509.30 855.61L509.30 861.13L505.60 861.13L505.60 874.97L501.90 874.97L501.90 881.39L498.20 881.39L498.20 885.23L494.50 885.23L494.50 912.90L490.80 912.90Z" fill="#a8d25a" fill-opacity="0.22"/>
<path d="M490.80 889.90L494.22 889.90L494.22 872.06L497.63 872.06L497.63 865.50L501.05 865.50L501.05 854.51L504.46 854.51L504.46 840.42L507.88 840.42L507.88 840.42L511.29 840.42L511.29 831.46L514.71 831.46L514.71 828.94L518.12 828.94L518.12 822.40L521.54 822.40L521.54 818.50L524.95 818.50L524.95 812.90L528.37 812.90L528.37 812.90L531.78 812.90L531.78 811.12L535.20 811.12L535.20 806.57L538.62 806.57L538.62 802.80L542.03 802.80L542.03 802.80L545.45 802.80L545.45 800.67L548.86 800.67L548.86 800.08L552.28 800.08L552.28 798.45L555.69 798.45L555.69 798.45L559.11 798.45L559.11 798.45L562.52 798.45L562.52 796.05L565.94 796.05L565.94 795.45L569.35 795.45L569.35 794.35L572.77 794.35L572.77 784.90L576.18 784.90L576.18 781.06L579.60 781.06L579.60 777.69L583.02 777.69L583.02 777.69L586.43 777.69L586.43 775.35L589.85 775.35L589.85 775.35L593.26 775.35L593.26 771.18L596.68 771.18L596.68 769.12L600.09 769.12L600.09 769.12L603.51 769.12L603.51 760.86L606.92 760.86L606.92 759.39L610.34 759.39L610.34 759.39L613.75 759.39L613.75 757.18L617.17 757.18L617.17 757.18L620.58 757.18L620.58 757.18L624.00 757.18L624.00 754.97L627.42 754.97L627.42 754.97L630.83 754.97L630.83 754.97L634.25 754.97L634.25 751.92L637.66 751.92L637.66 751.92L641.08 751.92L641.08 748.09L644.49 748.09L644.49 746.62L647.91 746.62L647.91 746.62L651.32 746.62L651.32 742.20L654.74 742.20L654.74 742.20L658.15 742.20L658.15 742.20L661.57 742.20L661.57 742.20L664.98 742.20L664.98 734.29L668.40 734.29L668.40 733.70L668.40 733.70L668.40 760.70L668.40 760.70L668.40 761.29L664.98 761.29L664.98 769.20L661.57 769.20L661.57 769.20L658.15 769.20L658.15 769.20L654.74 769.20L654.74 769.20L651.32 769.20L651.32 773.62L647.91 773.62L647.91 773.62L644.49 773.62L644.49 775.09L641.08 775.09L641.08 778.92L637.66 778.92L637.66 778.92L634.25 778.92L634.25 781.97L630.83 781.97L630.83 781.97L627.42 781.97L627.42 781.97L624.00 781.97L624.00 784.18L620.58 784.18L620.58 784.18L617.17 784.18L617.17 784.18L613.75 784.18L613.75 786.39L610.34 786.39L610.34 786.39L606.92 786.39L606.92 787.86L603.51 787.86L603.51 796.12L600.09 796.12L600.09 796.12L596.68 796.12L596.68 798.18L593.26 798.18L593.26 802.35L589.85 802.35L589.85 802.35L586.43 802.35L586.43 804.69L583.02 804.69L583.02 804.69L579.60 804.69L579.60 808.06L576.18 808.06L576.18 811.90L572.77 811.90L572.77 821.35L569.35 821.35L569.35 822.45L565.94 822.45L565.94 823.05L562.52 823.05L562.52 825.45L559.11 825.45L559.11 825.45L555.69 825.45L555.69 825.45L552.28 825.45L552.28 827.08L548.86 827.08L548.86 827.67L545.45 827.67L545.45 829.80L542.03 829.80L542.03 829.80L538.62 829.80L538.62 833.57L535.20 833.57L535.20 838.12L531.78 838.12L531.78 839.90L528.37 839.90L528.37 839.90L524.95 839.90L524.95 845.50L521.54 845.50L521.54 849.40L518.12 849.40L518.12 855.94L514.71 855.94L514.71 858.46L511.29 858.46L511.29 867.42L507.88 867.42L507.88 867.42L504.46 867.42L504.46 881.51L501.05 881.51L501.05 892.50L497.63 892.50L497.63 899.06L494.22 899.06L494.22 916.90L490.80 916.90Z" fill="#5cb8d0" fill-opacity="0.22"/>
<path d="M490.80 888.90L494.84 888.90L494.84 863.78L498.87 863.78L498.87 859.24L502.91 859.24L502.91 847.01L506.95 847.01L506.95 837.72L510.98 837.72L510.98 832.83L515.02 832.83L515.02 824.82L519.05 824.82L519.05 818.20L523.09 818.20L523.09 811.81L527.13 811.81L527.13 809.56L531.16 809.56L531.16 806.76L535.20 806.76L535.20 803.61L539.24 803.61L539.24 799.40L543.27 799.40L543.27 797.59L547.31 797.59L547.31 796.91L551.35 796.91L551.35 795.97L555.38 795.97L555.38 794.85L559.42 794.85L559.42 794.85L563.45 794.85L563.45 793.18L567.49 793.18L567.49 792.25L571.53 792.25L571.53 786.71L575.56 786.71L575.56 780.05L579.60 780.05L579.60 776.17L583.64 776.17L583.64 776.17L587.67 776.17L587.67 772.49L591.71 772.49L591.71 765.94L595.75 765.94L595.75 762.69L599.78 762.69L599.78 762.69L603.82 762.69L603.82 756.98L607.85 756.98L607.85 754.67L611.89 754.67L611.89 753.14L615.93 753.14L615.93 753.14L619.96 753.14L619.96 753.14L624.00 753.14L624.00 751.61L628.04 751.61L628.04 751.61L632.07 751.61L632.07 749.22L636.11 749.22L636.11 749.22L640.15 749.22L640.15 746.57L644.18 746.57L644.18 744.26L648.22 744.26L648.22 741.20L652.25 741.20L652.25 741.20L656.29 741.20L656.29 741.20L660.33 741.20L660.33 741.20L664.36 741.20L664.36 733.11L668.40 733.11L668.40 732.70L668.40 732.70L668.40 760.70L668.40 760.70L668.40 761.11L664.36 761.11L664.36 769.20L660.33 769.20L660.33 769.20L656.29 769.20L656.29 769.20L652.25 769.20L652.25 769.20L648.22 769.20L648.22 772.26L644.18 772.26L644.18 774.57L640.15 774.57L640.15 777.22L636.11 777.22L636.11 777.22L632.07 777.22L632.07 779.61L628.04 779.61L628.04 779.61L624.00 779.61L624.00 781.14L619.96 781.14L619.96 781.14L615.93 781.14L615.93 781.14L611.89 781.14L611.89 782.67L607.85 782.67L607.85 784.98L603.82 784.98L603.82 790.69L599.78 790.69L599.78 790.69L595.75 790.69L595.75 793.94L591.71 793.94L591.71 800.49L587.67 800.49L587.67 804.17L583.64 804.17L583.64 804.17L579.60 804.17L579.60 808.05L575.56 808.05L575.56 814.71L571.53 814.71L571.53 820.25L567.49 820.25L567.49 821.18L563.45 821.18L563.45 822.85L559.42 822.85L559.42 822.85L555.38 822.85L555.38 823.97L551.35 823.97L551.35 824.91L547.31 824.91L547.31 825.59L543.27 825.59L543.27 827.40L539.24 827.40L539.24 831.61L535.20 831.61L535.20 834.76L531.16 834.76L531.16 837.56L527.13 837.56L527.13 839.81L523.09 839.81L523.09 846.20L519.05 846.20L519.05 852.82L515.02 852.82L515.02 860.83L510.98 860.83L510.98 865.72L506.95 865.72L506.95 875.01L502.91 875.01L502.91 887.24L498.87 887.24L498.87 891.78L494.84 891.78L494.84 916.90L490.80 916.90Z" fill="#7ff0d8" fill-opacity="0.22"/>
<path d="M490.80 890.90L490.80 885.80L495.00 885.80L495.00 875.70L499.60 875.70L499.60 858.80L503.50 858.80L503.50 844.40L511.10 844.40L511.10 835.40L515.30 835.40L515.30 829.00L519.60 829.00L519.60 823.00L524.60 823.00L524.60 818.00L532.30 818.00L532.30 811.00L536.50 811.00L536.50 808.00L543.30 808.00L543.30 806.50L551.70 806.50L551.70 804.00L560.20 804.00L560.20 801.00L561.90 801.00L561.90 800.30L568.70 800.30L568.70 798.60L569.50 798.60L569.50 788.00L573.50 788.00L573.50 782.10L577.80 782.10L577.80 779.60L602.30 779.60L602.30 766.90L610.80 766.90L610.80 763.50L622.70 763.50L622.70 760.10L631.10 760.10L631.10 755.90L639.60 755.90L639.60 750.00L648.10 750.00L648.10 743.20L661.60 743.20L661.60 740.10L664.10 740.10L664.10 735.60L668.40 735.60L668.40 734.70L668.40 761.70L668.40 762.60L664.10 762.60L664.10 767.10L661.60 767.10L661.60 770.20L648.10 770.20L648.10 777.00L639.60 777.00L639.60 782.90L631.10 782.90L631.10 787.10L622.70 787.10L622.70 790.50L610.80 790.50L610.80 793.90L602.30 793.90L602.30 806.60L577.80 806.60L577.80 809.10L573.50 809.10L573.50 815.00L569.50 815.00L569.50 825.60L568.70 825.60L568.70 827.30L561.90 827.30L561.90 828.00L560.20 828.00L560.20 831.00L551.70 831.00L551.70 833.50L543.30 833.50L543.30 835.00L536.50 835.00L536.50 838.00L532.30 838.00L532.30 845.00L524.60 845.00L524.60 850.00L519.60 850.00L519.60 856.00L515.30 856.00L515.30 862.40L511.10 862.40L511.10 871.40L503.50 871.40L503.50 885.80L499.60 885.80L499.60 902.70L495.00 902.70L495.00 912.80L490.80 912.80L490.80 917.90Z" fill="#ee3a6a" fill-opacity="0.22"/>
<path d="M490.80 901.90L491.60 873.10L493.30 873.10L493.30 860.40L502.60 860.40L502.60 852.00L504.30 852.00L504.30 846.90L509.00 846.90L509.00 838.00L514.50 838.00L514.50 830.80L518.00 830.80L518.00 824.00L523.00 824.00L523.00 817.30L529.70 817.30L529.70 812.20L536.50 812.20L536.50 807.00L542.40 807.00L542.40 803.70L548.40 803.70L548.40 802.00L563.60 802.00L563.60 800.30L572.00 800.30L572.00 793.00L578.00 793.00L578.00 788.00L583.70 788.00L583.70 781.30L590.50 781.30L590.50 769.40L594.70 769.40L594.70 763.50L604.90 763.50L604.90 759.30L631.10 759.30L631.10 758.40L641.30 758.40L641.30 754.20L661.60 754.20L661.60 745.70L668.40 745.70" fill="none" stroke="#f26b3a" stroke-width="1.1"/>
<path d="M490.80 901.90L494.50 901.90L494.50 874.23L498.20 874.23L498.20 870.39L501.90 870.39L501.90 863.97L505.60 863.97L505.60 850.13L509.30 850.13L509.30 844.61L513.00 844.61L513.00 841.19L516.70 841.19L516.70 834.30L520.40 834.30L520.40 827.80L524.10 827.80L524.10 823.65L527.80 823.65L527.80 821.75L531.50 821.75L531.50 818.58L535.20 818.58L535.20 815.92L538.90 815.92L538.90 811.56L542.60 811.56L542.60 809.51L546.30 809.51L546.30 808.94L550.00 808.94L550.00 807.89L553.70 807.89L553.70 806.94L557.40 806.94L557.40 806.94L561.10 806.94L561.10 805.80L564.80 805.80L564.80 804.48L568.50 804.48L568.50 804.48L572.20 804.48L572.20 795.28L575.90 795.28L575.90 793.04L579.60 793.04L579.60 788.99L583.30 788.99L583.30 788.99L587.00 788.99L587.00 784.83L590.70 784.83L590.70 777.46L594.40 777.46L594.40 777.46L598.10 777.46L598.10 773.80L601.80 773.80L601.80 773.80L605.50 773.80L605.50 766.37L609.20 766.37L609.20 766.37L612.90 766.37L612.90 765.08L616.60 765.08L616.60 765.08L620.30 765.08L620.30 765.08L624.00 765.08L624.00 763.78L627.70 763.78L627.70 763.78L631.40 763.78L631.40 761.63L635.10 761.63L635.10 761.63L638.80 761.63L638.80 761.63L642.50 761.63L642.50 756.78L646.20 756.78L646.20 756.78L649.90 756.78L649.90 754.20L653.60 754.20L653.60 754.20L657.30 754.20L657.30 754.20L661.00 754.20L661.00 754.20L664.70 754.20L664.70 746.04L668.40 746.04L668.40 745.70L668.40 745.70" fill="none" stroke="#a8d25a" stroke-width="1.1"/>
<path d="M490.80 901.90L494.22 901.90L494.22 884.06L497.63 884.06L497.63 877.50L501.05 877.50L501.05 866.51L504.46 866.51L504.46 852.42L507.88 852.42L507.88 852.42L511.29 852.42L511.29 843.46L514.71 843.46L514.71 840.94L518.12 840.94L518.12 834.40L521.54 834.40L521.54 830.50L524.95 830.50L524.95 824.90L528.37 824.90L528.37 824.90L531.78 824.90L531.78 823.12L535.20 823.12L535.20 818.57L538.62 818.57L538.62 814.80L542.03 814.80L542.03 814.80L545.45 814.80L545.45 812.67L548.86 812.67L548.86 812.08L552.28 812.08L552.28 810.45L555.69 810.45L555.69 810.45L559.11 810.45L559.11 810.45L562.52 810.45L562.52 808.05L565.94 808.05L565.94 807.45L569.35 807.45L569.35 806.35L572.77 806.35L572.77 796.90L576.18 796.90L576.18 793.06L579.60 793.06L579.60 789.69L583.02 789.69L583.02 789.69L586.43 789.69L586.43 787.35L589.85 787.35L589.85 787.35L593.26 787.35L593.26 783.18L596.68 783.18L596.68 781.12L600.09 781.12L600.09 781.12L603.51 781.12L603.51 772.86L606.92 772.86L606.92 771.39L610.34 771.39L610.34 771.39L613.75 771.39L613.75 769.18L617.17 769.18L617.17 769.18L620.58 769.18L620.58 769.18L624.00 769.18L624.00 766.97L627.42 766.97L627.42 766.97L630.83 766.97L630.83 766.97L634.25 766.97L634.25 763.92L637.66 763.92L637.66 763.92L641.08 763.92L641.08 760.09L644.49 760.09L644.49 758.62L647.91 758.62L647.91 758.62L651.32 758.62L651.32 754.20L654.74 754.20L654.74 754.20L658.15 754.20L658.15 754.20L661.57 754.20L661.57 754.20L664.98 754.20L664.98 746.29L668.40 746.29L668.40 745.70L668.40 745.70" fill="none" stroke="#5cb8d0" stroke-width="1.1"/>
<path d="M490.80 901.90L494.84 901.90L494.84 876.78L498.87 876.78L498.87 872.24L502.91 872.24L502.91 860.01L506.95 860.01L506.95 850.72L510.98 850.72L510.98 845.83L515.02 845.83L515.02 837.82L519.05 837.82L519.05 831.20L523.09 831.20L523.09 824.81L527.13 824.81L527.13 822.56L531.16 822.56L531.16 819.76L535.20 819.76L535.20 816.61L539.24 816.61L539.24 812.40L543.27 812.40L543.27 810.59L547.31 810.59L547.31 809.91L551.35 809.91L551.35 808.97L555.38 808.97L555.38 807.85L559.42 807.85L559.42 807.85L563.45 807.85L563.45 806.18L567.49 806.18L567.49 805.25L571.53 805.25L571.53 799.71L575.56 799.71L575.56 793.05L579.60 793.05L579.60 789.17L583.64 789.17L583.64 789.17L587.67 789.17L587.67 785.49L591.71 785.49L591.71 778.94L595.75 778.94L595.75 775.69L599.78 775.69L599.78 775.69L603.82 775.69L603.82 769.98L607.85 769.98L607.85 767.67L611.89 767.67L611.89 766.14L615.93 766.14L615.93 766.14L619.96 766.14L619.96 766.14L624.00 766.14L624.00 764.61L628.04 764.61L628.04 764.61L632.07 764.61L632.07 762.22L636.11 762.22L636.11 762.22L640.15 762.22L640.15 759.57L644.18 759.57L644.18 757.26L648.22 757.26L648.22 754.20L652.25 754.20L652.25 754.20L656.29 754.20L656.29 754.20L660.33 754.20L660.33 754.20L664.36 754.20L664.36 746.11L668.40 746.11L668.40 745.70L668.40 745.70" fill="none" stroke="#7ff0d8" stroke-width="1.1"/>
<path d="M490.80 901.90L490.80 896.80L495.00 896.80L495.00 886.70L499.60 886.70L499.60 869.80L503.50 869.80L503.50 855.40L511.10 855.40L511.10 846.40L515.30 846.40L515.30 840.00L519.60 840.00L519.60 834.00L524.60 834.00L524.60 829.00L532.30 829.00L532.30 822.00L536.50 822.00L536.50 819.00L543.30 819.00L543.30 817.50L551.70 817.50L551.70 815.00L560.20 815.00L560.20 812.00L561.90 812.00L561.90 811.30L568.70 811.30L568.70 809.60L569.50 809.60L569.50 799.00L573.50 799.00L573.50 793.10L577.80 793.10L577.80 790.60L602.30 790.60L602.30 777.90L610.80 777.90L610.80 774.50L622.70 774.50L622.70 771.10L631.10 771.10L631.10 766.90L639.60 766.90L639.60 761.00L648.10 761.00L648.10 754.20L661.60 754.20L661.60 751.10L664.10 751.10L664.10 746.60L668.40 746.60L668.40 745.70" fill="none" stroke="#ee3a6a" stroke-width="1.1"/>
</g>
<rect x="484.0" y="722.6" width="191.40" height="187.60" fill="none" stroke="#888" stroke-width="1"/>
<line x1="490.90" y1="910.2" x2="490.90" y2="913.2" stroke="#888" stroke-width="0.8"/>
<text x="490.90" y="923.40" font-size="6.9" text-anchor="middle" fill="#222" stroke="#222" stroke-width="0.15" >0.0</text>
<line x1="480.6" y1="903.10" x2="484.0" y2="903.10" stroke="#888" stroke-width="0.8"/>
<text transform="translate(475.70 903.10) rotate(-90)" font-size="6.9" text-anchor="middle" fill="#222" stroke="#222" stroke-width="0.15">0.0</text>
<line x1="526.20" y1="910.2" x2="526.20" y2="913.2" stroke="#888" stroke-width="0.8"/>
<text x="526.20" y="923.40" font-size="6.9" text-anchor="middle" fill="#222" stroke="#222" stroke-width="0.15" >0.2</text>
<line x1="480.6" y1="871.50" x2="484.0" y2="871.50" stroke="#888" stroke-width="0.8"/>
<text transform="translate(475.70 871.50) rotate(-90)" font-size="6.9" text-anchor="middle" fill="#222" stroke="#222" stroke-width="0.15">0.2</text>
<line x1="561.50" y1="910.2" x2="561.50" y2="913.2" stroke="#888" stroke-width="0.8"/>
<text x="561.50" y="923.40" font-size="6.9" text-anchor="middle" fill="#222" stroke="#222" stroke-width="0.15" >0.4</text>
<line x1="480.6" y1="839.90" x2="484.0" y2="839.90" stroke="#888" stroke-width="0.8"/>
<text transform="translate(475.70 839.90) rotate(-90)" font-size="6.9" text-anchor="middle" fill="#222" stroke="#222" stroke-width="0.15">0.4</text>
<line x1="596.80" y1="910.2" x2="596.80" y2="913.2" stroke="#888" stroke-width="0.8"/>
<text x="596.80" y="923.40" font-size="6.9" text-anchor="middle" fill="#222" stroke="#222" stroke-width="0.15" >0.6</text>
<line x1="480.6" y1="808.30" x2="484.0" y2="808.30" stroke="#888" stroke-width="0.8"/>
<text transform="translate(475.70 808.30) rotate(-90)" font-size="6.9" text-anchor="middle" fill="#222" stroke="#222" stroke-width="0.15">0.6</text>
<line x1="632.10" y1="910.2" x2="632.10" y2="913.2" stroke="#888" stroke-width="0.8"/>
<text x="632.10" y="923.40" font-size="6.9" text-anchor="middle" fill="#222" stroke="#222" stroke-width="0.15" >0.8</text>
<line x1="480.6" y1="776.70" x2="484.0" y2="776.70" stroke="#888" stroke-width="0.8"/>
<text transform="translate(475.70 776.70) rotate(-90)" font-size="6.9" text-anchor="middle" fill="#222" stroke="#222" stroke-width="0.15">0.8</text>
<line x1="667.40" y1="910.2" x2="667.40" y2="913.2" stroke="#888" stroke-width="0.8"/>
<text x="667.40" y="923.40" font-size="6.9" text-anchor="middle" fill="#222" stroke="#222" stroke-width="0.15" >1.0</text>
<line x1="480.6" y1="745.10" x2="484.0" y2="745.10" stroke="#888" stroke-width="0.8"/>
<text transform="translate(475.70 745.10) rotate(-90)" font-size="6.9" text-anchor="middle" fill="#222" stroke="#222" stroke-width="0.15">1.0</text>
<text transform="translate(461.30 816.20) rotate(-90)" font-size="6.0" text-anchor="middle" fill="#111" stroke="#111" stroke-width="0.15">True Positive rate</text>
<text x="579.40" y="937.30" font-size="6.0" text-anchor="middle" fill="#111" stroke="#111" stroke-width="0.15" >False Positive rate</text>
<line x1="545.9" y1="870.00" x2="552.3" y2="870.00" stroke="#f26b3a" stroke-width="1.2"/>
<text x="556.9" y="872.30" font-size="6.05" fill="#111" stroke="#111" stroke-width="0.12" clip-path="url(#fclip)">AUC of 1 year = 0.71 (95%CI: 0.66 − 0.76 )</text>
<line x1="545.9" y1="878.05" x2="552.3" y2="878.05" stroke="#a8d25a" stroke-width="1.2"/>
<text x="556.9" y="880.35" font-size="6.05" fill="#111" stroke="#111" stroke-width="0.12" clip-path="url(#fclip)">AUC of 2 years = 0.68 (95%CI: 0.63 − 0.72 )</text>
<line x1="545.9" y1="886.10" x2="552.3" y2="886.10" stroke="#5cb8d0" stroke-width="1.2"/>
<text x="556.9" y="888.40" font-size="6.05" fill="#111" stroke="#111" stroke-width="0.12" clip-path="url(#fclip)">AUC of 3 years = 0.65 (95%CI: 0.61 − 0.69 )</text>
<line x1="545.9" y1="894.15" x2="552.3" y2="894.15" stroke="#7ff0d8" stroke-width="1.2"/>
<text x="556.9" y="896.45" font-size="6.05" fill="#111" stroke="#111" stroke-width="0.12" clip-path="url(#fclip)">AUC of 4 years = 0.68 (95%CI: 0.63 − 0.72 )</text>
<line x1="545.9" y1="902.20" x2="552.3" y2="902.20" stroke="#ee3a6a" stroke-width="1.2"/>
<text x="556.9" y="904.50" font-size="6.05" fill="#111" stroke="#111" stroke-width="0.12" clip-path="url(#fclip)">AUC of 5 years = 0.64 (95%CI: 0.59 − 0.69 )</text>
</g>
</svg></body></html>
